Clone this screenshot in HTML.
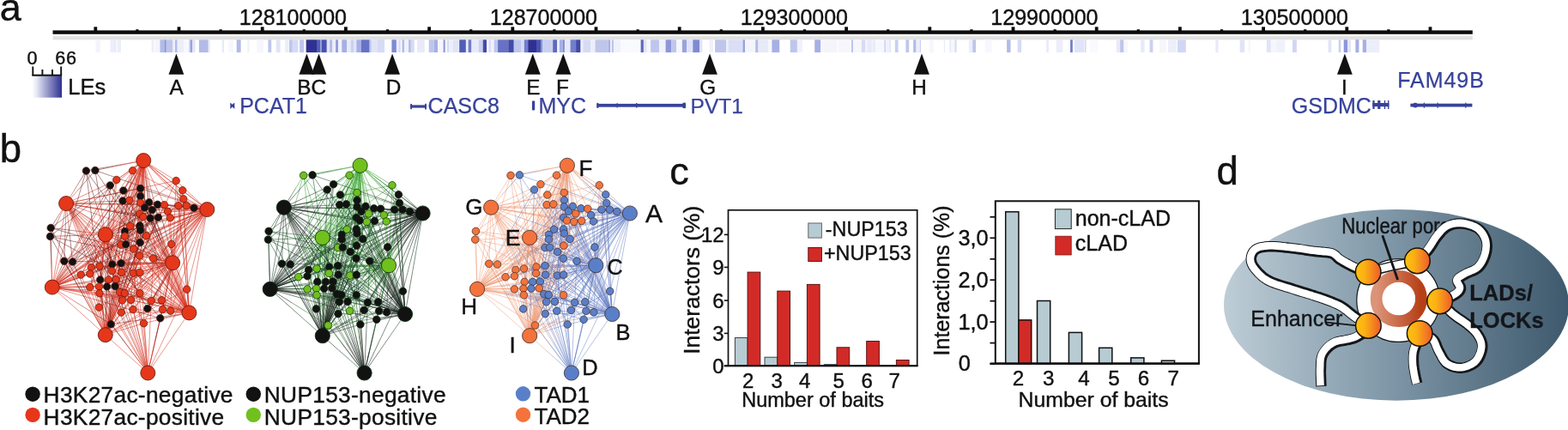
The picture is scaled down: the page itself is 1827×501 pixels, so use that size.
<!DOCTYPE html>
<html lang="en"><head><meta charset="utf-8"><title>Figure</title>
<style>
html,body{margin:0;padding:0;background:#fff;}
body{width:1827px;height:501px;overflow:hidden;}
svg{display:block;font-family:"Liberation Sans", sans-serif;}
</style></head>
<body>
<svg width="1827" height="501" viewBox="0 0 1827 501">
<defs>
<linearGradient id="legGrad" x1="0" x2="1" y1="0" y2="0"><stop offset="0" stop-color="#ffffff"/><stop offset="0.15" stop-color="#e6e8f5"/><stop offset="1" stop-color="#2e3192"/></linearGradient>
<linearGradient id="ellGrad" x1="0" x2="1" y1="0" y2="0"><stop offset="0" stop-color="#becdd6"/><stop offset="0.47" stop-color="#8098a8"/><stop offset="1" stop-color="#3e596d"/></linearGradient>
<linearGradient id="ringGrad" x1="0" x2="1" y1="0" y2="0"><stop offset="0" stop-color="#dc9478"/><stop offset="1" stop-color="#b63f17"/></linearGradient>
<linearGradient id="ballGrad" x1="0" x2="1" y1="0" y2="0"><stop offset="0" stop-color="#fec20f"/><stop offset="0.35" stop-color="#fbb114"/><stop offset="1" stop-color="#ee5a2c"/></linearGradient>
<filter id="soft" x="-20%" y="-20%" width="140%" height="140%"><feGaussianBlur stdDeviation="0.55"/></filter>
</defs>
<rect width="1827" height="501" fill="#ffffff"/>
<g id="panel-a">
<text x="-0.2" y="24.0" font-size="45.0" fill="#111" stroke="#111" stroke-width="0.4" text-anchor="start" >a</text>
<rect x="61.5" y="35.4" width="1654.3" height="4.4" fill="#0c0c0c"/>
<rect x="61.5" y="42.2" width="1654.3" height="4.2" fill="#e0e0e0"/>
<rect x="109.4" y="31.3" width="3.8" height="5" fill="#0c0c0c"/>
<rect x="158.3" y="34.2" width="3.2" height="2" fill="#0c0c0c"/>
<rect x="206.6" y="31.3" width="3.8" height="5" fill="#0c0c0c"/>
<rect x="255.5" y="34.2" width="3.2" height="2" fill="#0c0c0c"/>
<rect x="303.8" y="31.3" width="3.8" height="5" fill="#0c0c0c"/>
<rect x="352.7" y="34.2" width="3.2" height="2" fill="#0c0c0c"/>
<rect x="401.0" y="31.3" width="3.8" height="5" fill="#0c0c0c"/>
<rect x="449.9" y="34.2" width="3.2" height="2" fill="#0c0c0c"/>
<rect x="498.2" y="31.3" width="3.8" height="5" fill="#0c0c0c"/>
<rect x="547.1" y="34.2" width="3.2" height="2" fill="#0c0c0c"/>
<rect x="595.4" y="31.3" width="3.8" height="5" fill="#0c0c0c"/>
<rect x="644.3" y="34.2" width="3.2" height="2" fill="#0c0c0c"/>
<rect x="692.6" y="31.3" width="3.8" height="5" fill="#0c0c0c"/>
<rect x="741.5" y="34.2" width="3.2" height="2" fill="#0c0c0c"/>
<rect x="789.8" y="31.3" width="3.8" height="5" fill="#0c0c0c"/>
<rect x="838.7" y="34.2" width="3.2" height="2" fill="#0c0c0c"/>
<rect x="887.0" y="31.3" width="3.8" height="5" fill="#0c0c0c"/>
<rect x="935.9" y="34.2" width="3.2" height="2" fill="#0c0c0c"/>
<rect x="984.2" y="31.3" width="3.8" height="5" fill="#0c0c0c"/>
<rect x="1033.1" y="34.2" width="3.2" height="2" fill="#0c0c0c"/>
<rect x="1081.4" y="31.3" width="3.8" height="5" fill="#0c0c0c"/>
<rect x="1130.3" y="34.2" width="3.2" height="2" fill="#0c0c0c"/>
<rect x="1178.6" y="31.3" width="3.8" height="5" fill="#0c0c0c"/>
<rect x="1227.5" y="34.2" width="3.2" height="2" fill="#0c0c0c"/>
<rect x="1275.8" y="31.3" width="3.8" height="5" fill="#0c0c0c"/>
<rect x="1324.7" y="34.2" width="3.2" height="2" fill="#0c0c0c"/>
<rect x="1373.0" y="31.3" width="3.8" height="5" fill="#0c0c0c"/>
<rect x="1421.9" y="34.2" width="3.2" height="2" fill="#0c0c0c"/>
<rect x="1470.2" y="31.3" width="3.8" height="5" fill="#0c0c0c"/>
<rect x="1519.1" y="34.2" width="3.2" height="2" fill="#0c0c0c"/>
<rect x="1567.4" y="31.3" width="3.8" height="5" fill="#0c0c0c"/>
<rect x="1616.3" y="34.2" width="3.2" height="2" fill="#0c0c0c"/>
<rect x="1664.6" y="31.3" width="3.8" height="5" fill="#0c0c0c"/>
<text x="404.0" y="29.0" font-size="25.0" fill="#111" stroke="#111" stroke-width="0.4" text-anchor="end" >128100000</text>
<text x="696.0" y="29.0" font-size="25.0" fill="#111" stroke="#111" stroke-width="0.4" text-anchor="end" >128700000</text>
<text x="988.0" y="29.0" font-size="25.0" fill="#111" stroke="#111" stroke-width="0.4" text-anchor="end" >129300000</text>
<text x="1279.5" y="29.0" font-size="25.0" fill="#111" stroke="#111" stroke-width="0.4" text-anchor="end" >129900000</text>
<text x="1571.0" y="29.0" font-size="25.0" fill="#111" stroke="#111" stroke-width="0.4" text-anchor="end" >130500000</text>
<rect x="111.5" y="46.3" width="5.5" height="14.8" fill="rgb(244,245,252)"/>
<rect x="128.4" y="46.3" width="3.8" height="14.8" fill="rgb(236,238,250)"/>
<rect x="132.2" y="46.3" width="3.3" height="14.8" fill="rgb(232,234,249)"/>
<rect x="136.6" y="46.3" width="4.4" height="14.8" fill="rgb(236,238,250)"/>
<rect x="176.6" y="46.3" width="2.7" height="14.8" fill="rgb(236,238,250)"/>
<rect x="180.4" y="46.3" width="5.5" height="14.8" fill="rgb(244,245,252)"/>
<rect x="186.4" y="46.3" width="4.9" height="14.8" fill="rgb(178,187,232)"/>
<rect x="191.4" y="46.3" width="2.4" height="14.8" fill="rgb(140,150,216)"/>
<rect x="193.8" y="46.3" width="7.4" height="14.8" fill="rgb(190,198,236)"/>
<rect x="201.2" y="46.3" width="2.4" height="14.8" fill="rgb(232,234,249)"/>
<rect x="204.0" y="46.3" width="2.7" height="14.8" fill="rgb(178,187,232)"/>
<rect x="206.7" y="46.3" width="7.7" height="14.8" fill="rgb(236,238,250)"/>
<rect x="214.4" y="46.3" width="5.5" height="14.8" fill="rgb(247,248,253)"/>
<rect x="220.4" y="46.3" width="1.6" height="14.8" fill="rgb(190,198,236)"/>
<rect x="222.0" y="46.3" width="2.2" height="14.8" fill="rgb(153,163,222)"/>
<rect x="224.2" y="46.3" width="3.3" height="14.8" fill="rgb(225,228,248)"/>
<rect x="231.9" y="46.3" width="10.9" height="14.8" fill="rgb(178,187,232)"/>
<rect x="242.8" y="46.3" width="2.2" height="14.8" fill="rgb(236,238,250)"/>
<rect x="258.8" y="46.3" width="2.2" height="14.8" fill="rgb(232,234,249)"/>
<rect x="266.4" y="46.3" width="5.5" height="14.8" fill="rgb(247,248,253)"/>
<rect x="275.7" y="46.3" width="4.9" height="14.8" fill="rgb(178,187,232)"/>
<rect x="288.3" y="46.3" width="2.2" height="14.8" fill="rgb(240,241,251)"/>
<rect x="299.3" y="46.3" width="7.7" height="14.8" fill="rgb(246,246,252)"/>
<rect x="312.4" y="46.3" width="3.8" height="14.8" fill="rgb(190,198,236)"/>
<rect x="321.7" y="46.3" width="4.9" height="14.8" fill="rgb(225,228,248)"/>
<rect x="332.1" y="46.3" width="4.4" height="14.8" fill="rgb(236,238,250)"/>
<rect x="337.0" y="46.3" width="3.8" height="14.8" fill="rgb(190,198,236)"/>
<rect x="340.9" y="46.3" width="6.6" height="14.8" fill="rgb(214,219,245)"/>
<rect x="349.1" y="46.3" width="4.9" height="14.8" fill="rgb(190,198,236)"/>
<rect x="354.0" y="46.3" width="2.7" height="14.8" fill="rgb(246,246,252)"/>
<rect x="356.7" y="46.3" width="13.1" height="14.8" fill="rgb(46,49,146)"/>
<rect x="369.9" y="46.3" width="3.3" height="14.8" fill="rgb(82,93,183)"/>
<rect x="373.2" y="46.3" width="1.6" height="14.8" fill="rgb(140,150,216)"/>
<rect x="374.8" y="46.3" width="6.0" height="14.8" fill="rgb(72,82,176)"/>
<rect x="380.8" y="46.3" width="3.0" height="14.8" fill="rgb(225,228,248)"/>
<rect x="384.1" y="46.3" width="3.3" height="14.8" fill="rgb(178,187,232)"/>
<rect x="387.4" y="46.3" width="3.8" height="14.8" fill="rgb(236,238,250)"/>
<rect x="391.2" y="46.3" width="2.7" height="14.8" fill="rgb(140,150,216)"/>
<rect x="394.0" y="46.3" width="4.1" height="14.8" fill="rgb(240,241,251)"/>
<rect x="398.3" y="46.3" width="6.0" height="14.8" fill="rgb(166,176,228)"/>
<rect x="404.4" y="46.3" width="4.4" height="14.8" fill="rgb(232,234,249)"/>
<rect x="408.7" y="46.3" width="3.3" height="14.8" fill="rgb(202,208,241)"/>
<rect x="412.0" y="46.3" width="3.3" height="14.8" fill="rgb(225,228,248)"/>
<rect x="415.3" y="46.3" width="5.5" height="14.8" fill="rgb(166,176,228)"/>
<rect x="420.8" y="46.3" width="9.9" height="14.8" fill="rgb(103,114,198)"/>
<rect x="430.6" y="46.3" width="2.2" height="14.8" fill="rgb(190,198,236)"/>
<rect x="432.8" y="46.3" width="7.7" height="14.8" fill="rgb(225,228,248)"/>
<rect x="440.5" y="46.3" width="7.7" height="14.8" fill="rgb(214,219,245)"/>
<rect x="440.0" y="46.3" width="8.2" height="14.8" fill="rgb(214,219,245)"/>
<rect x="448.2" y="46.3" width="8.2" height="14.8" fill="rgb(251,252,254)"/>
<rect x="456.4" y="46.3" width="5.5" height="14.8" fill="rgb(126,138,211)"/>
<rect x="461.9" y="46.3" width="2.7" height="14.8" fill="rgb(236,238,250)"/>
<rect x="464.6" y="46.3" width="2.2" height="14.8" fill="rgb(214,219,245)"/>
<rect x="468.5" y="46.3" width="2.7" height="14.8" fill="rgb(178,187,232)"/>
<rect x="471.2" y="46.3" width="4.9" height="14.8" fill="rgb(240,241,251)"/>
<rect x="476.1" y="46.3" width="2.7" height="14.8" fill="rgb(178,187,232)"/>
<rect x="478.9" y="46.3" width="3.8" height="14.8" fill="rgb(214,219,245)"/>
<rect x="486.0" y="46.3" width="8.8" height="14.8" fill="rgb(232,234,249)"/>
<rect x="499.7" y="46.3" width="6.0" height="14.8" fill="rgb(190,198,236)"/>
<rect x="505.7" y="46.3" width="4.4" height="14.8" fill="rgb(166,176,228)"/>
<rect x="510.1" y="46.3" width="6.6" height="14.8" fill="rgb(246,246,252)"/>
<rect x="516.6" y="46.3" width="2.2" height="14.8" fill="rgb(140,150,216)"/>
<rect x="518.8" y="46.3" width="2.2" height="14.8" fill="rgb(246,246,252)"/>
<rect x="521.0" y="46.3" width="2.2" height="14.8" fill="rgb(214,219,245)"/>
<rect x="523.2" y="46.3" width="4.4" height="14.8" fill="rgb(236,238,250)"/>
<rect x="527.6" y="46.3" width="7.1" height="14.8" fill="rgb(225,228,248)"/>
<rect x="535.2" y="46.3" width="7.7" height="14.8" fill="rgb(82,93,183)"/>
<rect x="542.9" y="46.3" width="2.7" height="14.8" fill="rgb(236,238,250)"/>
<rect x="545.6" y="46.3" width="3.8" height="14.8" fill="rgb(113,125,205)"/>
<rect x="549.5" y="46.3" width="8.2" height="14.8" fill="rgb(232,234,249)"/>
<rect x="557.7" y="46.3" width="4.4" height="14.8" fill="rgb(202,208,241)"/>
<rect x="562.6" y="46.3" width="4.4" height="14.8" fill="rgb(66,74,168)"/>
<rect x="567.0" y="46.3" width="2.7" height="14.8" fill="rgb(246,246,252)"/>
<rect x="569.7" y="46.3" width="2.2" height="14.8" fill="rgb(214,219,245)"/>
<rect x="571.9" y="46.3" width="3.8" height="14.8" fill="rgb(240,241,251)"/>
<rect x="575.7" y="46.3" width="4.4" height="14.8" fill="rgb(190,198,236)"/>
<rect x="580.1" y="46.3" width="12.0" height="14.8" fill="rgb(103,114,198)"/>
<rect x="592.2" y="46.3" width="6.6" height="14.8" fill="rgb(66,74,168)"/>
<rect x="598.7" y="46.3" width="8.8" height="14.8" fill="rgb(190,198,236)"/>
<rect x="607.5" y="46.3" width="3.3" height="14.8" fill="rgb(214,219,245)"/>
<rect x="610.8" y="46.3" width="4.4" height="14.8" fill="rgb(113,125,205)"/>
<rect x="615.2" y="46.3" width="9.9" height="14.8" fill="rgb(46,49,146)"/>
<rect x="625.0" y="46.3" width="6.6" height="14.8" fill="rgb(72,82,176)"/>
<rect x="631.6" y="46.3" width="8.4" height="14.8" fill="rgb(214,219,245)"/>
<rect x="630.0" y="46.3" width="2.2" height="14.8" fill="rgb(140,150,216)"/>
<rect x="632.2" y="46.3" width="12.0" height="14.8" fill="rgb(202,208,241)"/>
<rect x="644.2" y="46.3" width="4.9" height="14.8" fill="rgb(93,104,190)"/>
<rect x="649.2" y="46.3" width="2.7" height="14.8" fill="rgb(236,238,250)"/>
<rect x="651.9" y="46.3" width="3.8" height="14.8" fill="rgb(166,176,228)"/>
<rect x="655.7" y="46.3" width="2.2" height="14.8" fill="rgb(126,138,211)"/>
<rect x="657.9" y="46.3" width="6.0" height="14.8" fill="rgb(232,234,249)"/>
<rect x="664.5" y="46.3" width="6.6" height="14.8" fill="rgb(113,125,205)"/>
<rect x="671.1" y="46.3" width="5.5" height="14.8" fill="rgb(66,74,168)"/>
<rect x="676.5" y="46.3" width="2.7" height="14.8" fill="rgb(236,238,250)"/>
<rect x="679.3" y="46.3" width="8.8" height="14.8" fill="rgb(214,219,245)"/>
<rect x="688.0" y="46.3" width="5.5" height="14.8" fill="rgb(236,238,250)"/>
<rect x="693.5" y="46.3" width="15.3" height="14.8" fill="rgb(190,198,236)"/>
<rect x="708.8" y="46.3" width="2.2" height="14.8" fill="rgb(166,176,228)"/>
<rect x="711.0" y="46.3" width="2.2" height="14.8" fill="rgb(236,238,250)"/>
<rect x="713.2" y="46.3" width="1.6" height="14.8" fill="rgb(166,176,228)"/>
<rect x="714.8" y="46.3" width="8.2" height="14.8" fill="rgb(240,241,251)"/>
<rect x="723.0" y="46.3" width="23.0" height="14.8" fill="rgb(249,250,254)"/>
<rect x="746.6" y="46.3" width="3.3" height="14.8" fill="rgb(93,104,190)"/>
<rect x="749.9" y="46.3" width="3.8" height="14.8" fill="rgb(225,228,248)"/>
<rect x="753.7" y="46.3" width="4.4" height="14.8" fill="rgb(246,246,252)"/>
<rect x="758.1" y="46.3" width="9.9" height="14.8" fill="rgb(190,198,236)"/>
<rect x="767.9" y="46.3" width="7.7" height="14.8" fill="rgb(240,241,251)"/>
<rect x="775.6" y="46.3" width="6.6" height="14.8" fill="rgb(140,150,216)"/>
<rect x="782.2" y="46.3" width="6.0" height="14.8" fill="rgb(190,198,236)"/>
<rect x="788.2" y="46.3" width="6.0" height="14.8" fill="rgb(246,246,252)"/>
<rect x="794.8" y="46.3" width="5.5" height="14.8" fill="rgb(153,163,222)"/>
<rect x="800.2" y="46.3" width="7.1" height="14.8" fill="rgb(225,228,248)"/>
<rect x="807.3" y="46.3" width="7.7" height="14.8" fill="rgb(126,138,211)"/>
<rect x="815.0" y="46.3" width="3.3" height="14.8" fill="rgb(225,228,248)"/>
<rect x="826.6" y="46.3" width="4.4" height="14.8" fill="rgb(240,241,251)"/>
<rect x="833.1" y="46.3" width="13.1" height="14.8" fill="rgb(190,198,236)"/>
<rect x="846.3" y="46.3" width="2.2" height="14.8" fill="rgb(236,238,250)"/>
<rect x="848.5" y="46.3" width="16.4" height="14.8" fill="rgb(218,223,246)"/>
<rect x="865.4" y="46.3" width="2.7" height="14.8" fill="rgb(153,163,222)"/>
<rect x="868.2" y="46.3" width="12.0" height="14.8" fill="rgb(244,245,252)"/>
<rect x="880.2" y="46.3" width="3.3" height="14.8" fill="rgb(178,187,232)"/>
<rect x="883.5" y="46.3" width="12.0" height="14.8" fill="rgb(232,234,249)"/>
<rect x="895.5" y="46.3" width="3.3" height="14.8" fill="rgb(246,246,252)"/>
<rect x="899.4" y="46.3" width="8.8" height="14.8" fill="rgb(166,176,228)"/>
<rect x="920.7" y="46.3" width="8.2" height="14.8" fill="rgb(190,198,236)"/>
<rect x="928.9" y="46.3" width="6.0" height="14.8" fill="rgb(240,241,251)"/>
<rect x="949.2" y="46.3" width="7.1" height="14.8" fill="rgb(166,176,228)"/>
<rect x="956.3" y="46.3" width="3.8" height="14.8" fill="rgb(246,246,252)"/>
<rect x="960.1" y="46.3" width="15.3" height="14.8" fill="rgb(244,245,252)"/>
<rect x="976.5" y="46.3" width="14.2" height="14.8" fill="rgb(246,246,252)"/>
<rect x="991.9" y="46.3" width="2.2" height="14.8" fill="rgb(190,198,236)"/>
<rect x="994.1" y="46.3" width="9.9" height="14.8" fill="rgb(246,246,252)"/>
<rect x="1003.9" y="46.3" width="4.4" height="14.8" fill="rgb(214,219,245)"/>
<rect x="1008.3" y="46.3" width="11.7" height="14.8" fill="rgb(240,241,251)"/>
<rect x="1011.1" y="46.3" width="4.4" height="14.8" fill="rgb(232,234,249)"/>
<rect x="1017.7" y="46.3" width="2.2" height="14.8" fill="rgb(232,234,249)"/>
<rect x="1019.9" y="46.3" width="9.9" height="14.8" fill="rgb(247,248,253)"/>
<rect x="1030.3" y="46.3" width="1.6" height="14.8" fill="rgb(202,208,241)"/>
<rect x="1031.9" y="46.3" width="4.4" height="14.8" fill="rgb(240,241,251)"/>
<rect x="1036.3" y="46.3" width="1.6" height="14.8" fill="rgb(225,228,248)"/>
<rect x="1042.8" y="46.3" width="3.8" height="14.8" fill="rgb(202,208,241)"/>
<rect x="1055.4" y="46.3" width="3.8" height="14.8" fill="rgb(190,198,236)"/>
<rect x="1064.2" y="46.3" width="3.3" height="14.8" fill="rgb(178,187,232)"/>
<rect x="1067.5" y="46.3" width="4.4" height="14.8" fill="rgb(236,238,250)"/>
<rect x="1071.9" y="46.3" width="1.1" height="14.8" fill="rgb(202,208,241)"/>
<rect x="1083.3" y="46.3" width="4.4" height="14.8" fill="rgb(246,246,252)"/>
<rect x="1099.8" y="46.3" width="1.1" height="14.8" fill="rgb(232,234,249)"/>
<rect x="1106.3" y="46.3" width="2.2" height="14.8" fill="rgb(232,234,249)"/>
<rect x="1108.5" y="46.3" width="3.8" height="14.8" fill="rgb(246,246,252)"/>
<rect x="1112.4" y="46.3" width="2.2" height="14.8" fill="rgb(214,219,245)"/>
<rect x="1128.8" y="46.3" width="4.4" height="14.8" fill="rgb(236,238,250)"/>
<rect x="1133.2" y="46.3" width="3.8" height="14.8" fill="rgb(190,198,236)"/>
<rect x="1147.9" y="46.3" width="7.7" height="14.8" fill="rgb(247,248,253)"/>
<rect x="1173.1" y="46.3" width="4.4" height="14.8" fill="rgb(178,187,232)"/>
<rect x="1185.7" y="46.3" width="4.4" height="14.8" fill="rgb(214,219,245)"/>
<rect x="1219.2" y="46.3" width="2.7" height="14.8" fill="rgb(232,234,249)"/>
<rect x="1230.7" y="46.3" width="7.7" height="14.8" fill="rgb(236,238,250)"/>
<rect x="1247.1" y="46.3" width="2.7" height="14.8" fill="rgb(113,125,205)"/>
<rect x="1252.0" y="46.3" width="11.5" height="14.8" fill="rgb(225,228,248)"/>
<rect x="1264.0" y="46.3" width="1.6" height="14.8" fill="rgb(214,219,245)"/>
<rect x="1270.1" y="46.3" width="8.8" height="14.8" fill="rgb(249,250,254)"/>
<rect x="1300.7" y="46.3" width="4.4" height="14.8" fill="rgb(232,234,249)"/>
<rect x="1305.1" y="46.3" width="4.4" height="14.8" fill="rgb(190,198,236)"/>
<rect x="1309.5" y="46.3" width="4.4" height="14.8" fill="rgb(246,246,252)"/>
<rect x="1329.2" y="46.3" width="4.4" height="14.8" fill="rgb(232,234,249)"/>
<rect x="1339.6" y="46.3" width="3.8" height="14.8" fill="rgb(202,208,241)"/>
<rect x="1351.1" y="46.3" width="7.7" height="14.8" fill="rgb(246,246,252)"/>
<rect x="1360.9" y="46.3" width="9.9" height="14.8" fill="rgb(236,238,250)"/>
<rect x="1371.9" y="46.3" width="9.9" height="14.8" fill="rgb(209,215,243)"/>
<rect x="1416.3" y="46.3" width="3.3" height="14.8" fill="rgb(232,234,249)"/>
<rect x="1444.7" y="46.3" width="5.5" height="14.8" fill="rgb(225,228,248)"/>
<rect x="1454.6" y="46.3" width="2.2" height="14.8" fill="rgb(246,246,252)"/>
<rect x="1475.9" y="46.3" width="4.9" height="14.8" fill="rgb(225,228,248)"/>
<rect x="1480.9" y="46.3" width="6.6" height="14.8" fill="rgb(246,246,252)"/>
<rect x="1487.4" y="46.3" width="9.9" height="14.8" fill="rgb(240,241,251)"/>
<rect x="1506.0" y="46.3" width="4.9" height="14.8" fill="rgb(209,215,243)"/>
<rect x="1547.6" y="46.3" width="3.8" height="14.8" fill="rgb(225,228,248)"/>
<rect x="1559.7" y="46.3" width="2.7" height="14.8" fill="rgb(202,208,241)"/>
<rect x="1565.7" y="46.3" width="4.4" height="14.8" fill="rgb(140,150,216)"/>
<rect x="1570.1" y="46.3" width="3.8" height="14.8" fill="rgb(225,228,248)"/>
<rect x="1579.4" y="46.3" width="3.8" height="14.8" fill="rgb(166,176,228)"/>
<rect x="1580.0" y="46.3" width="3.3" height="14.8" fill="rgb(166,176,228)"/>
<rect x="1587.7" y="46.3" width="4.4" height="14.8" fill="rgb(166,176,228)"/>
<rect x="1592.0" y="46.3" width="15.3" height="14.8" fill="rgb(236,238,250)"/>
<text x="31.4" y="74.6" font-size="21.6" fill="#111" stroke="#111" stroke-width="0.4" text-anchor="start" >0</text>
<text x="64.2" y="74.6" font-size="21.6" fill="#111" stroke="#111" stroke-width="0.4" text-anchor="start" letter-spacing="0.8">66</text>
<path d="M38.3 77.5V88M49.4 81V88M61 81V88M71.2 77.5V88" stroke="#111" stroke-width="1.9" fill="none"/>
<rect x="37.4" y="86.7" width="34.7" height="2.2" fill="#111"/>
<rect x="37.4" y="88.8" width="34.7" height="24.9" fill="url(#legGrad)"/>
<text x="79.3" y="109.8" font-size="25.5" fill="#111" stroke="#111" stroke-width="0.4" text-anchor="start" >LEs</text>
<path d="M205.4 62.6L214.3 86.7H196.5Z" fill="#111"/>
<path d="M357.4 62.6L366.3 86.7H348.5Z" fill="#111"/>
<path d="M371.5 62.6L380.4 86.7H362.6Z" fill="#111"/>
<path d="M457.1 62.6L466.0 86.7H448.2Z" fill="#111"/>
<path d="M620.8 62.6L629.7 86.7H611.9Z" fill="#111"/>
<path d="M656.3 62.6L665.2 86.7H647.4Z" fill="#111"/>
<path d="M827.0 62.6L835.9 86.7H818.1Z" fill="#111"/>
<path d="M1074.0 62.6L1082.9 86.7H1065.1Z" fill="#111"/>
<path d="M1566.9 62.6L1575.8 86.7H1558.0Z" fill="#111"/>
<text x="205.7" y="109.9" font-size="24.3" fill="#111" stroke="#111" stroke-width="0.4" text-anchor="middle" >A</text>
<text x="458.6" y="109.9" font-size="24.3" fill="#111" stroke="#111" stroke-width="0.4" text-anchor="middle" >D</text>
<text x="621.3" y="109.9" font-size="24.3" fill="#111" stroke="#111" stroke-width="0.4" text-anchor="middle" >E</text>
<text x="655.5" y="109.9" font-size="24.3" fill="#111" stroke="#111" stroke-width="0.4" text-anchor="middle" >F</text>
<text x="824.6" y="109.9" font-size="24.3" fill="#111" stroke="#111" stroke-width="0.4" text-anchor="middle" >G</text>
<text x="1071.0" y="109.9" font-size="24.3" fill="#111" stroke="#111" stroke-width="0.4" text-anchor="middle" >H</text>
<text x="1566.5" y="109.9" font-size="24.3" fill="#111" stroke="#111" stroke-width="0.4" text-anchor="middle" >I</text>
<text x="346.2" y="109.9" font-size="24.3" fill="#111" stroke="#111" stroke-width="0.4" text-anchor="start" >BC</text>
<text x="279.2" y="131.5" font-size="25.0" fill="#37429a" stroke="#37429a" stroke-width="0.25" text-anchor="start" >PCAT1</text>
<path d="M268.3 119.4L270.8 121.8L273.3 119.4V127L270.8 124.6L268.3 127Z" fill="#37429a"/>
<rect x="478.2" y="122.4" width="18.7" height="3.2" fill="#37429a"/>
<rect x="478.2" y="121.0" width="1.8" height="6.2" fill="#37429a"/><rect x="495.1" y="120.8" width="1.8" height="6.7" fill="#37429a"/>
<text x="498.6" y="131.5" font-size="25.0" fill="#37429a" stroke="#37429a" stroke-width="0.25" text-anchor="start" >CASC8</text>
<rect x="619.9" y="117.6" width="3.3" height="10.8" rx="1" fill="#37429a"/>
<text x="627.5" y="131.5" font-size="25.0" fill="#37429a" stroke="#37429a" stroke-width="0.25" text-anchor="start" >MYC</text>
<rect x="695.4" y="120.9" width="103.5" height="3.8" fill="#37429a"/>
<rect x="695.4" y="119.9" width="2" height="6" fill="#37429a"/><rect x="795.5" y="119.7" width="3.4" height="6.4" fill="#37429a"/>
<rect x="718.6" y="120.0" width="1" height="5.6" fill="#37429a"/><rect x="741" y="120.0" width="1.4" height="5.6" fill="#37429a"/>
<text x="804.6" y="131.5" font-size="24.5" fill="#37429a" stroke="#37429a" stroke-width="0.25" text-anchor="start" >PVT1</text>
<text x="1504.8" y="131.5" font-size="25.0" fill="#37429a" stroke="#37429a" stroke-width="0.25" text-anchor="start" >GSDMC</text>
<rect x="1599.3" y="120.0" width="19.1" height="4.2" fill="#37429a"/>
<rect x="1599.4" y="117.0" width="2.2" height="10" fill="#37429a"/>
<rect x="1605.2" y="117.0" width="3.2" height="10" fill="#37429a"/>
<rect x="1612.8" y="117.0" width="1.4" height="10" fill="#37429a"/>
<rect x="1617" y="117.0" width="1.4" height="10" fill="#37429a"/>
<text x="1628.2" y="101.7" font-size="25.0" fill="#37429a" stroke="#37429a" stroke-width="0.25" text-anchor="start" letter-spacing="0.95">FAM49B</text>
<rect x="1643.4" y="120.7" width="72" height="3.8" fill="#37429a"/>
<circle cx="1649" cy="122.6" r="2.9" fill="#37429a"/>
<rect x="1658.8" y="119.6" width="1.2" height="6.2" fill="#37429a"/>
<rect x="1674.6" y="119.6" width="1.2" height="6.2" fill="#37429a"/>
<rect x="1707.2" y="119.6" width="1.2" height="6.2" fill="#37429a"/>
</g>
<g id="panel-b">
<text x="-0.2" y="189.3" font-size="45.5" fill="#111" stroke="#111" stroke-width="0.4" text-anchor="start" >b</text>
<g id="net1">
<g fill="none" stroke-width="0.6" stroke-opacity="0.85">
<g stroke="rgb(212,46,28)"><path d="M167.2 187.1L141.8 191.6"/><path d="M167.2 187.1L145.8 191.4"/><path d="M167.2 187.1L154.6 198.8"/><path d="M167.2 187.1L135.8 209.5"/><path d="M167.2 187.1L158.3 200.4"/><path d="M167.2 187.1L205.2 210.6"/><path d="M167.2 187.1L212.7 221.8"/><path d="M167.2 187.1L213.7 231.8"/><path d="M167.2 187.1L158.1 204.9"/><path d="M167.2 187.1L167.8 207.9"/><path d="M167.2 187.1L191.5 238.7"/><path d="M167.2 187.1L171.0 208.9"/><path d="M167.2 187.1L166.9 252.8"/><path d="M167.2 187.1L170.2 212.6"/><path d="M167.2 187.1L173.7 212.2"/><path d="M167.2 187.1L217.3 239.7"/><path d="M167.2 187.1L189.5 208.0"/><path d="M167.2 187.1L126.2 216.9"/><path d="M167.2 187.1L125.9 220.7"/><path d="M167.2 187.1L145.5 275.1"/><path d="M167.2 187.1L170.4 274.7"/><path d="M167.2 187.1L165.7 223.4"/><path d="M167.2 187.1L135.8 231.9"/><path d="M167.2 187.1L106.3 311.6"/><path d="M167.2 187.1L153.3 233.1"/><path d="M167.2 187.1L130.4 315.7"/><path d="M167.2 187.1L141.6 317.4"/><path d="M167.2 187.1L155.4 318.3"/><path d="M167.2 187.1L94.3 320.1"/><path d="M167.2 187.1L148.0 239.8"/><path d="M167.2 187.1L135.2 325.6"/><path d="M167.2 187.1L104.8 334.6"/><path d="M167.2 187.1L115.5 333.9"/><path d="M167.2 187.1L154.6 242.7"/><path d="M167.2 187.1L116.0 341.7"/><path d="M167.2 187.1L162.9 341.7"/><path d="M167.2 187.1L152.5 349.4"/><path d="M167.2 187.1L188.4 349.8"/><path d="M167.2 187.1L141.3 364.0"/><path d="M167.2 187.1L155.0 360.6"/><path d="M77.1 237.1L86.0 222.6"/><path d="M77.1 237.1L90.0 222.4"/><path d="M77.1 237.1L135.8 209.5"/><path d="M77.1 237.1L110.0 230.5"/><path d="M77.1 237.1L205.2 210.6"/><path d="M77.1 237.1L102.2 235.9"/><path d="M77.1 237.1L117.6 237.6"/><path d="M77.1 237.1L191.5 238.7"/><path d="M77.1 237.1L166.9 252.8"/><path d="M77.1 237.1L114.4 243.6"/><path d="M77.1 237.1L117.8 243.3"/><path d="M77.1 237.1L70.3 247.9"/><path d="M77.1 237.1L70.0 251.7"/><path d="M77.1 237.1L151.6 263.4"/><path d="M77.1 237.1L155.7 290.1"/><path d="M77.1 237.1L178.5 301.1"/><path d="M77.1 237.1L76.3 262.7"/><path d="M77.1 237.1L80.0 262.9"/><path d="M77.1 237.1L116.0 310.1"/><path d="M77.1 237.1L97.5 264.1"/><path d="M77.1 237.1L162.9 317.4"/><path d="M77.1 237.1L92.2 270.9"/><path d="M77.1 237.1L95.2 273.9"/><path d="M77.1 237.1L98.8 273.8"/><path d="M77.1 237.1L145.3 341.5"/><path d="M77.1 237.1L162.9 341.7"/><path d="M77.1 237.1L152.5 349.4"/><path d="M77.1 237.1L188.4 349.8"/><path d="M77.1 237.1L118.8 287.9"/><path d="M77.1 237.1L97.0 290.6"/><path d="M241.3 244.1L191.7 226.8"/><path d="M241.3 244.1L154.6 198.8"/><path d="M241.3 244.1L211.8 234.8"/><path d="M241.3 244.1L205.2 210.6"/><path d="M241.3 244.1L212.7 221.8"/><path d="M241.3 244.1L213.7 231.8"/><path d="M241.3 244.1L150.9 233.3"/><path d="M241.3 244.1L163.6 236.3"/><path d="M241.3 244.1L215.6 241.0"/><path d="M241.3 244.1L213.7 243.3"/><path d="M241.3 244.1L219.4 241.9"/><path d="M241.3 244.1L217.0 244.3"/><path d="M241.3 244.1L195.3 246.3"/><path d="M241.3 244.1L198.3 253.8"/><path d="M241.3 244.1L162.9 249.2"/><path d="M241.3 244.1L216.2 248.0"/><path d="M241.3 244.1L207.9 239.7"/><path d="M241.3 244.1L217.3 239.7"/><path d="M241.3 244.1L235.5 243.4"/><path d="M241.3 244.1L151.6 263.4"/><path d="M241.3 244.1L211.5 251.3"/><path d="M241.3 244.1L204.9 253.8"/><path d="M241.3 244.1L170.4 274.7"/><path d="M241.3 244.1L199.7 284.4"/><path d="M241.3 244.1L141.0 285.1"/><path d="M241.3 244.1L205.4 259.6"/><path d="M241.3 244.1L155.7 290.1"/><path d="M241.3 244.1L178.5 301.1"/><path d="M241.3 244.1L181.8 267.3"/><path d="M241.3 244.1L116.0 310.1"/><path d="M241.3 244.1L203.2 267.9"/><path d="M241.3 244.1L130.4 315.7"/><path d="M241.3 244.1L141.6 317.4"/><path d="M241.3 244.1L126.5 325.9"/><path d="M241.3 244.1L135.2 325.6"/><path d="M241.3 244.1L139.7 340.4"/><path d="M241.3 244.1L145.3 341.5"/><path d="M241.3 244.1L162.9 341.7"/><path d="M241.3 244.1L217.7 337.1"/><path d="M241.3 244.1L142.7 349.8"/><path d="M241.3 244.1L152.5 349.4"/><path d="M241.3 244.1L176.2 350.5"/><path d="M241.3 244.1L141.3 364.0"/><path d="M241.3 244.1L155.0 360.6"/><path d="M241.3 244.1L214.9 288.0"/><path d="M241.3 244.1L189.5 360.6"/><path d="M241.3 244.1L198.7 362.2"/><path d="M122.8 273.2L114.3 245.0"/><path d="M122.8 273.2L118.3 244.8"/><path d="M122.8 273.2L154.6 198.8"/><path d="M122.8 273.2L135.8 209.5"/><path d="M122.8 273.2L138.3 252.8"/><path d="M122.8 273.2L205.2 210.6"/><path d="M122.8 273.2L138.3 256.2"/><path d="M122.8 273.2L150.9 233.3"/><path d="M122.8 273.2L163.6 236.3"/><path d="M122.8 273.2L140.2 261.3"/><path d="M122.8 273.2L191.5 238.7"/><path d="M122.8 273.2L143.5 262.3"/><path d="M122.8 273.2L166.9 252.8"/><path d="M122.8 273.2L98.6 270.3"/><path d="M122.8 273.2L98.4 274.0"/><path d="M122.8 273.2L151.6 263.4"/><path d="M122.8 273.2L131.4 271.8"/><path d="M122.8 273.2L145.5 275.1"/><path d="M122.8 273.2L138.1 276.8"/><path d="M122.8 273.2L178.5 301.1"/><path d="M122.8 273.2L104.6 285.0"/><path d="M122.8 273.2L108.3 285.3"/><path d="M122.8 273.2L106.3 311.6"/><path d="M122.8 273.2L116.0 310.1"/><path d="M122.8 273.2L125.8 286.4"/><path d="M122.8 273.2L130.4 315.7"/><path d="M122.8 273.2L155.4 318.3"/><path d="M122.8 273.2L94.3 320.1"/><path d="M122.8 273.2L104.8 319.0"/><path d="M122.8 273.2L120.5 293.2"/><path d="M122.8 273.2L135.2 325.6"/><path d="M122.8 273.2L104.8 334.6"/><path d="M122.8 273.2L115.5 333.9"/><path d="M122.8 273.2L127.1 296.1"/><path d="M122.8 273.2L116.0 341.7"/><path d="M122.8 273.2L162.9 341.7"/><path d="M122.8 273.2L115.3 358.1"/><path d="M122.8 273.2L141.3 364.0"/><path d="M122.8 273.2L155.0 360.6"/><path d="M122.8 273.2L141.4 306.0"/><path d="M122.8 273.2L167.5 376.7"/><path d="M122.8 273.2L125.3 312.9"/><path d="M201.1 306.2L173.4 271.9"/><path d="M201.1 306.2L205.2 210.6"/><path d="M201.1 306.2L212.7 221.8"/><path d="M201.1 306.2L186.8 276.7"/><path d="M201.1 306.2L213.7 231.8"/><path d="M201.1 306.2L190.7 279.5"/><path d="M201.1 306.2L188.8 281.8"/><path d="M201.1 306.2L195.3 246.3"/><path d="M201.1 306.2L198.3 253.8"/><path d="M201.1 306.2L162.9 249.2"/><path d="M201.1 306.2L217.3 239.7"/><path d="M201.1 306.2L210.6 281.9"/><path d="M201.1 306.2L147.2 290.8"/><path d="M201.1 306.2L146.9 294.5"/><path d="M201.1 306.2L151.6 263.4"/><path d="M201.1 306.2L186.6 289.8"/><path d="M201.1 306.2L145.5 275.1"/><path d="M201.1 306.2L170.4 274.7"/><path d="M201.1 306.2L199.7 284.4"/><path d="M201.1 306.2L180.4 298.1"/><path d="M201.1 306.2L162.6 298.0"/><path d="M201.1 306.2L178.5 301.1"/><path d="M201.1 306.2L153.1 305.5"/><path d="M201.1 306.2L106.3 311.6"/><path d="M201.1 306.2L116.0 310.1"/><path d="M201.1 306.2L174.4 306.9"/><path d="M201.1 306.2L178.3 306.4"/><path d="M201.1 306.2L130.4 315.7"/><path d="M201.1 306.2L141.6 317.4"/><path d="M201.1 306.2L155.4 318.3"/><path d="M201.1 306.2L162.9 317.4"/><path d="M201.1 306.2L135.2 325.6"/><path d="M201.1 306.2L172.0 316.7"/><path d="M201.1 306.2L175.6 316.6"/><path d="M201.1 306.2L145.3 341.5"/><path d="M201.1 306.2L217.7 337.1"/><path d="M201.1 306.2L142.7 349.8"/><path d="M201.1 306.2L152.5 349.4"/><path d="M201.1 306.2L176.2 350.5"/><path d="M201.1 306.2L188.4 349.8"/><path d="M201.1 306.2L115.3 358.1"/><path d="M201.1 306.2L141.3 364.0"/><path d="M201.1 306.2L155.0 360.6"/><path d="M201.1 306.2L190.0 326.5"/><path d="M201.1 306.2L189.5 360.6"/><path d="M201.1 306.2L198.7 362.2"/><path d="M201.1 306.2L195.6 330.8"/><path d="M201.1 306.2L167.5 376.7"/><path d="M60.8 334.6L75.8 283.1"/><path d="M60.8 334.6L154.6 198.8"/><path d="M60.8 334.6L135.8 209.5"/><path d="M60.8 334.6L86.4 289.5"/><path d="M60.8 334.6L92.3 291.8"/><path d="M60.8 334.6L99.9 290.9"/><path d="M60.8 334.6L213.7 231.8"/><path d="M60.8 334.6L92.1 296.4"/><path d="M60.8 334.6L163.6 236.3"/><path d="M60.8 334.6L103.7 297.1"/><path d="M60.8 334.6L191.5 238.7"/><path d="M60.8 334.6L162.9 249.2"/><path d="M60.8 334.6L104.3 304.1"/><path d="M60.8 334.6L107.7 303.7"/><path d="M60.8 334.6L207.9 239.7"/><path d="M60.8 334.6L60.2 308.3"/><path d="M60.8 334.6L59.9 312.1"/><path d="M60.8 334.6L99.6 307.4"/><path d="M60.8 334.6L99.7 314.8"/><path d="M60.8 334.6L162.6 298.0"/><path d="M60.8 334.6L66.1 323.1"/><path d="M60.8 334.6L69.9 323.4"/><path d="M60.8 334.6L106.3 311.6"/><path d="M60.8 334.6L116.0 310.1"/><path d="M60.8 334.6L87.4 324.5"/><path d="M60.8 334.6L91.3 324.0"/><path d="M60.8 334.6L94.3 320.1"/><path d="M60.8 334.6L104.8 319.0"/><path d="M60.8 334.6L82.0 331.3"/><path d="M60.8 334.6L135.2 325.6"/><path d="M60.8 334.6L104.8 334.6"/><path d="M60.8 334.6L115.5 333.9"/><path d="M60.8 334.6L88.6 334.2"/><path d="M60.8 334.6L145.3 341.5"/><path d="M60.8 334.6L142.7 349.8"/><path d="M60.8 334.6L152.5 349.4"/><path d="M60.8 334.6L176.2 350.5"/><path d="M60.8 334.6L188.4 349.8"/><path d="M60.8 334.6L108.6 348.4"/><path d="M60.8 334.6L86.8 351.0"/><path d="M220.4 364.4L174.8 301.5"/><path d="M220.4 364.4L178.8 301.3"/><path d="M220.4 364.4L154.6 198.8"/><path d="M220.4 364.4L185.4 308.0"/><path d="M220.4 364.4L191.3 310.3"/><path d="M220.4 364.4L198.8 309.3"/><path d="M220.4 364.4L205.2 210.6"/><path d="M220.4 364.4L212.7 221.8"/><path d="M220.4 364.4L198.8 312.7"/><path d="M220.4 364.4L213.7 231.8"/><path d="M220.4 364.4L150.9 233.3"/><path d="M220.4 364.4L163.6 236.3"/><path d="M220.4 364.4L202.7 315.5"/><path d="M220.4 364.4L200.7 317.8"/><path d="M220.4 364.4L206.4 316.5"/><path d="M220.4 364.4L166.9 252.8"/><path d="M220.4 364.4L207.9 239.7"/><path d="M220.4 364.4L158.9 330.6"/><path d="M220.4 364.4L151.6 263.4"/><path d="M220.4 364.4L198.5 325.9"/><path d="M220.4 364.4L198.8 327.8"/><path d="M220.4 364.4L145.5 275.1"/><path d="M220.4 364.4L199.7 284.4"/><path d="M220.4 364.4L141.0 285.1"/><path d="M220.4 364.4L155.7 290.1"/><path d="M220.4 364.4L162.6 298.0"/><path d="M220.4 364.4L178.5 301.1"/><path d="M220.4 364.4L190.2 342.4"/><path d="M220.4 364.4L141.6 317.4"/><path d="M220.4 364.4L155.4 318.3"/><path d="M220.4 364.4L162.9 317.4"/><path d="M220.4 364.4L126.5 325.9"/><path d="M220.4 364.4L135.2 325.6"/><path d="M220.4 364.4L184.0 352.8"/><path d="M220.4 364.4L187.6 352.6"/><path d="M220.4 364.4L116.0 341.7"/><path d="M220.4 364.4L139.7 340.4"/><path d="M220.4 364.4L145.3 341.5"/><path d="M220.4 364.4L217.7 337.1"/><path d="M220.4 364.4L152.5 349.4"/><path d="M220.4 364.4L176.2 350.5"/><path d="M220.4 364.4L188.4 349.8"/><path d="M220.4 364.4L141.3 364.0"/><path d="M220.4 364.4L155.0 360.6"/><path d="M220.4 364.4L189.5 360.6"/><path d="M220.4 364.4L198.7 362.2"/><path d="M220.4 364.4L207.6 366.8"/><path d="M220.4 364.4L167.5 376.7"/><path d="M220.4 364.4L185.8 369.5"/><path d="M122.8 390.2L114.3 317.5"/><path d="M122.8 390.2L154.6 198.8"/><path d="M122.8 390.2L135.8 209.5"/><path d="M122.8 390.2L124.9 324.0"/><path d="M122.8 390.2L138.3 325.3"/><path d="M122.8 390.2L205.2 210.6"/><path d="M122.8 390.2L212.7 221.8"/><path d="M122.8 390.2L138.3 328.7"/><path d="M122.8 390.2L130.5 330.8"/><path d="M122.8 390.2L163.6 236.3"/><path d="M122.8 390.2L140.2 333.8"/><path d="M122.8 390.2L191.5 238.7"/><path d="M122.8 390.2L143.5 334.8"/><path d="M122.8 390.2L162.9 249.2"/><path d="M122.8 390.2L166.9 252.8"/><path d="M122.8 390.2L142.7 338.5"/><path d="M122.8 390.2L146.2 338.1"/><path d="M122.8 390.2L162.0 333.9"/><path d="M122.8 390.2L98.6 342.8"/><path d="M122.8 390.2L98.4 346.6"/><path d="M122.8 390.2L138.3 343.8"/><path d="M122.8 390.2L170.4 274.7"/><path d="M122.8 390.2L138.1 349.3"/><path d="M122.8 390.2L141.0 285.1"/><path d="M122.8 390.2L104.6 357.5"/><path d="M122.8 390.2L108.3 357.8"/><path d="M122.8 390.2L106.3 311.6"/><path d="M122.8 390.2L116.0 310.1"/><path d="M122.8 390.2L129.7 358.4"/><path d="M122.8 390.2L155.4 318.3"/><path d="M122.8 390.2L94.3 320.1"/><path d="M122.8 390.2L104.8 319.0"/><path d="M122.8 390.2L120.5 365.8"/><path d="M122.8 390.2L104.8 334.6"/><path d="M122.8 390.2L115.5 333.9"/><path d="M122.8 390.2L123.5 368.8"/><path d="M122.8 390.2L127.1 368.6"/><path d="M122.8 390.2L145.3 341.5"/><path d="M122.8 390.2L217.7 337.1"/><path d="M122.8 390.2L152.5 349.4"/><path d="M122.8 390.2L188.4 349.8"/><path d="M122.8 390.2L141.3 364.0"/><path d="M122.8 390.2L155.0 360.6"/><path d="M122.8 390.2L189.5 360.6"/><path d="M122.8 390.2L167.5 376.7"/><path d="M122.8 390.2L125.3 385.5"/><path d="M172.3 434.5L155.7 290.1"/><path d="M172.3 434.5L162.6 298.0"/><path d="M172.3 434.5L178.5 301.1"/><path d="M172.3 434.5L155.4 318.3"/><path d="M172.3 434.5L135.2 325.6"/><path d="M172.3 434.5L115.5 333.9"/><path d="M172.3 434.5L154.2 396.3"/><path d="M172.3 434.5L157.8 396.1"/><path d="M172.3 434.5L116.0 341.7"/><path d="M172.3 434.5L145.3 341.5"/><path d="M172.3 434.5L217.7 337.1"/><path d="M172.3 434.5L152.5 349.4"/><path d="M172.3 434.5L115.3 358.1"/><path d="M172.3 434.5L141.3 364.0"/><path d="M172.3 434.5L155.0 360.6"/><path d="M172.3 434.5L189.5 360.6"/><path d="M172.3 434.5L177.8 410.3"/><path d="M172.3 434.5L167.5 376.7"/><path d="M172.3 434.5L156.0 413.0"/><path d="M60.8 334.6L122.8 390.2"/><path d="M122.8 390.2L172.3 434.5"/><path d="M172.3 434.5L220.4 364.4"/><path d="M220.4 364.4L241.3 244.1"/><path d="M241.3 244.1L201.1 306.2"/><path d="M201.1 306.2L220.4 364.4"/><path d="M77.1 237.1L122.8 273.2"/><path d="M122.8 273.2L60.8 334.6"/><path d="M167.2 187.1L122.8 273.2"/><path d="M122.8 273.2L201.1 306.2"/><path d="M122.8 273.2L122.8 390.2"/><path d="M201.1 306.2L172.3 434.5"/><path d="M77.1 237.1L60.8 334.6"/><path d="M167.2 187.1L241.3 244.1"/></g>
<g stroke="rgb(154,34,23)"><path d="M141.8 191.6L125.8 194.5"/><path d="M145.8 191.4L132.3 194.1"/><path d="M158.3 200.4L152.7 208.8"/><path d="M158.1 204.9L152.3 216.2"/><path d="M167.8 207.9L168.1 221.0"/><path d="M171.0 208.9L173.5 222.7"/><path d="M170.2 212.6L172.1 228.7"/><path d="M173.7 212.2L177.8 228.1"/><path d="M189.5 208.0L203.6 221.2"/><path d="M126.2 216.9L100.2 235.7"/><path d="M125.9 220.7L99.8 241.9"/><path d="M165.7 223.4L164.7 246.3"/><path d="M135.8 231.9L116.0 260.2"/><path d="M153.3 233.1L144.6 262.1"/><path d="M148.0 239.8L135.9 273.2"/><path d="M154.6 242.7L146.7 277.8"/><path d="M86.0 222.6L91.5 213.5"/><path d="M90.0 222.4L98.1 213.2"/><path d="M110.0 230.5L130.7 226.2"/><path d="M102.2 235.9L118.0 235.2"/><path d="M117.6 237.6L143.1 237.8"/><path d="M114.4 243.6L137.9 247.7"/><path d="M117.8 243.3L143.6 247.1"/><path d="M70.3 247.9L66.0 254.7"/><path d="M70.0 251.7L65.6 260.9"/><path d="M76.3 262.7L75.7 278.8"/><path d="M80.0 262.9L81.8 279.2"/><path d="M97.5 264.1L110.4 281.1"/><path d="M92.2 270.9L101.7 292.2"/><path d="M95.2 273.9L106.6 297.1"/><path d="M98.8 273.8L112.4 296.9"/><path d="M118.8 287.9L145.1 320.0"/><path d="M97.0 290.6L109.5 324.3"/><path d="M191.7 226.8L160.5 215.8"/><path d="M211.8 234.8L193.1 228.9"/><path d="M215.6 241.0L199.4 239.0"/><path d="M213.7 243.3L196.3 242.7"/><path d="M219.4 241.9L205.5 240.5"/><path d="M217.0 244.3L201.6 244.4"/><path d="M216.2 248.0L200.3 250.4"/><path d="M235.5 243.4L231.8 242.9"/><path d="M211.5 251.3L192.7 255.9"/><path d="M204.9 253.8L181.9 259.9"/><path d="M205.4 259.6L182.7 269.4"/><path d="M181.8 267.3L144.2 281.9"/><path d="M203.2 267.9L179.1 282.9"/><path d="M214.9 288.0L198.2 315.7"/><path d="M114.3 245.0L108.9 227.2"/><path d="M118.3 244.8L115.4 226.9"/><path d="M138.3 252.8L148.1 239.9"/><path d="M138.3 256.2L148.1 245.4"/><path d="M140.2 261.3L151.2 253.8"/><path d="M143.5 262.3L156.6 255.4"/><path d="M98.6 270.3L83.4 268.4"/><path d="M98.4 274.0L82.9 274.6"/><path d="M131.4 271.8L136.9 271.0"/><path d="M138.1 276.8L147.8 279.0"/><path d="M104.6 285.0L93.0 292.5"/><path d="M108.3 285.3L99.1 292.9"/><path d="M125.8 286.4L127.7 294.8"/><path d="M120.5 293.2L119.0 305.9"/><path d="M127.1 296.1L129.8 310.6"/><path d="M141.4 306.0L153.2 326.7"/><path d="M125.3 312.9L126.8 338.0"/><path d="M173.4 271.9L156.0 250.3"/><path d="M186.8 276.7L177.8 258.0"/><path d="M190.7 279.5L184.1 262.6"/><path d="M188.8 281.8L181.0 266.3"/><path d="M210.6 281.9L216.5 266.5"/><path d="M147.2 290.8L113.1 281.0"/><path d="M146.9 294.5L112.7 287.1"/><path d="M186.6 289.8L177.4 279.5"/><path d="M180.4 298.1L167.4 293.0"/><path d="M153.1 305.5L122.8 305.0"/><path d="M174.4 306.9L157.5 307.4"/><path d="M178.3 306.4L163.8 306.5"/><path d="M172.0 316.7L153.7 323.4"/><path d="M175.6 316.6L159.5 323.1"/><path d="M190.0 326.5L182.9 339.3"/><path d="M195.6 330.8L192.2 346.3"/><path d="M75.8 283.1L85.3 250.5"/><path d="M86.4 289.5L102.6 261.0"/><path d="M92.3 291.8L112.3 264.9"/><path d="M99.9 290.9L124.5 263.3"/><path d="M92.1 296.4L111.8 272.2"/><path d="M103.7 297.1L130.8 273.4"/><path d="M104.3 304.1L131.7 284.8"/><path d="M107.7 303.7L137.4 284.1"/><path d="M60.2 308.3L59.8 291.8"/><path d="M59.9 312.1L59.4 297.9"/><path d="M99.6 307.4L124.1 290.2"/><path d="M99.7 314.8L124.3 302.4"/><path d="M66.1 323.1L69.5 315.8"/><path d="M69.9 323.4L75.6 316.3"/><path d="M87.4 324.5L104.1 318.2"/><path d="M91.3 324.0L110.5 317.3"/><path d="M82.0 331.3L95.5 329.2"/><path d="M88.6 334.2L106.2 333.9"/><path d="M108.6 348.4L138.9 357.1"/><path d="M86.8 351.0L103.3 361.4"/><path d="M174.8 301.5L146.0 261.8"/><path d="M178.8 301.3L152.5 261.5"/><path d="M185.4 308.0L163.3 272.4"/><path d="M191.3 310.3L172.9 276.2"/><path d="M198.8 309.3L185.2 274.6"/><path d="M198.8 312.7L185.2 280.1"/><path d="M202.7 315.5L191.5 284.7"/><path d="M200.7 317.8L188.3 288.4"/><path d="M206.4 316.5L197.6 286.2"/><path d="M158.9 330.6L120.0 309.2"/><path d="M198.5 325.9L184.7 301.6"/><path d="M198.8 327.8L185.2 304.7"/><path d="M190.2 342.4L171.1 328.6"/><path d="M184.0 352.8L161.0 345.5"/><path d="M187.6 352.6L166.9 345.2"/><path d="M207.6 366.8L199.5 368.4"/><path d="M185.8 369.5L163.9 372.7"/><path d="M114.3 317.5L108.9 271.6"/><path d="M124.9 324.0L126.2 282.2"/><path d="M138.3 325.3L148.1 284.4"/><path d="M138.3 328.7L148.1 289.9"/><path d="M130.5 330.8L135.4 293.3"/><path d="M140.2 333.8L151.2 298.2"/><path d="M143.5 334.8L156.6 299.9"/><path d="M142.7 338.5L155.2 305.9"/><path d="M146.2 338.1L160.9 305.3"/><path d="M162.0 333.9L186.8 298.4"/><path d="M98.6 342.8L83.4 312.9"/><path d="M98.4 346.6L82.9 319.0"/><path d="M138.3 343.8L148.1 314.5"/><path d="M138.1 349.3L147.8 323.5"/><path d="M104.6 357.5L93.0 336.9"/><path d="M108.3 357.8L99.1 337.4"/><path d="M129.7 358.4L134.1 338.4"/><path d="M120.5 365.8L119.0 350.3"/><path d="M123.5 368.8L123.9 355.3"/><path d="M127.1 368.6L129.8 355.0"/><path d="M125.3 385.5L126.8 382.5"/><path d="M154.2 396.3L142.7 372.1"/><path d="M157.8 396.1L148.6 371.9"/><path d="M177.8 410.3L181.2 395.0"/><path d="M156.0 413.0L145.6 399.3"/></g>
<g stroke="rgb(96,22,18)"><path d="M125.8 194.5L100.4 199.0"/><path d="M132.3 194.1L110.9 198.5"/><path d="M152.7 208.8L143.8 222.1"/><path d="M152.3 216.2L143.1 234.0"/><path d="M168.1 221.0L168.6 241.9"/><path d="M173.5 222.7L177.3 244.5"/><path d="M172.1 228.7L175.1 254.2"/><path d="M177.8 228.1L184.3 253.2"/><path d="M203.6 221.2L226.0 242.2"/><path d="M100.2 235.7L59.2 265.5"/><path d="M99.8 241.9L58.5 275.4"/><path d="M164.7 246.3L163.2 282.6"/><path d="M116.0 260.2L84.6 305.0"/><path d="M144.6 262.1L130.7 308.1"/><path d="M135.9 273.2L116.7 325.9"/><path d="M146.7 277.8L134.1 333.5"/><path d="M91.5 213.5L100.4 199.0"/><path d="M98.1 213.2L110.9 198.5"/><path d="M130.7 226.2L163.6 219.5"/><path d="M118.0 235.2L143.1 234.0"/><path d="M143.1 237.8L183.6 238.3"/><path d="M137.9 247.7L175.1 254.2"/><path d="M143.6 247.1L184.3 253.2"/><path d="M66.0 254.7L59.2 265.5"/><path d="M65.6 260.9L58.5 275.4"/><path d="M75.7 278.8L74.8 304.3"/><path d="M81.8 279.2L84.6 305.0"/><path d="M110.4 281.1L130.7 308.1"/><path d="M101.7 292.2L116.7 325.9"/><path d="M106.6 297.1L124.6 333.9"/><path d="M112.4 296.9L134.1 333.5"/><path d="M145.1 320.0L186.7 370.8"/><path d="M109.5 324.3L129.3 377.8"/><path d="M160.5 215.8L110.9 198.5"/><path d="M193.1 228.9L163.6 219.5"/><path d="M199.4 239.0L173.7 235.8"/><path d="M196.3 242.7L168.6 241.9"/><path d="M205.5 240.5L183.6 238.3"/><path d="M201.6 244.4L177.3 244.5"/><path d="M200.3 250.4L175.1 254.2"/><path d="M231.8 242.9L226.0 242.2"/><path d="M192.7 255.9L162.9 263.0"/><path d="M181.9 259.9L145.5 269.6"/><path d="M182.7 269.4L146.7 284.8"/><path d="M144.2 281.9L84.6 305.0"/><path d="M179.1 282.9L141.0 306.7"/><path d="M198.2 315.7L171.8 359.6"/><path d="M108.9 227.2L100.4 199.0"/><path d="M115.4 226.9L110.9 198.5"/><path d="M148.1 239.9L163.6 219.5"/><path d="M148.1 245.4L163.6 228.4"/><path d="M151.2 253.8L168.6 241.9"/><path d="M156.6 255.4L177.3 244.5"/><path d="M83.4 268.4L59.2 265.5"/><path d="M82.9 274.6L58.5 275.4"/><path d="M136.9 271.0L145.5 269.6"/><path d="M147.8 279.0L163.2 282.6"/><path d="M93.0 292.5L74.8 304.3"/><path d="M99.1 292.9L84.6 305.0"/><path d="M127.7 294.8L130.7 308.1"/><path d="M119.0 305.9L116.7 325.9"/><path d="M129.8 310.6L134.1 333.5"/><path d="M153.2 326.7L171.8 359.6"/><path d="M126.8 338.0L129.3 377.8"/><path d="M156.0 250.3L128.3 216.0"/><path d="M177.8 258.0L163.6 228.4"/><path d="M184.1 262.6L173.7 235.8"/><path d="M181.0 266.3L168.6 241.9"/><path d="M216.5 266.5L226.0 242.2"/><path d="M113.1 281.0L59.2 265.5"/><path d="M112.7 287.1L58.5 275.4"/><path d="M177.4 279.5L162.9 263.0"/><path d="M167.4 293.0L146.7 284.8"/><path d="M122.8 305.0L74.8 304.3"/><path d="M157.5 307.4L130.7 308.1"/><path d="M163.8 306.5L141.0 306.7"/><path d="M153.7 323.4L124.6 333.9"/><path d="M159.5 323.1L134.1 333.5"/><path d="M182.9 339.3L171.8 359.6"/><path d="M192.2 346.3L186.7 370.8"/><path d="M85.3 250.5L100.4 199.0"/><path d="M102.6 261.0L128.3 216.0"/><path d="M112.3 264.9L143.8 222.1"/><path d="M124.5 263.3L163.6 219.5"/><path d="M111.8 272.2L143.1 234.0"/><path d="M130.8 273.4L173.7 235.8"/><path d="M131.7 284.8L175.1 254.2"/><path d="M137.4 284.1L184.3 253.2"/><path d="M59.8 291.8L59.2 265.5"/><path d="M59.4 297.9L58.5 275.4"/><path d="M124.1 290.2L162.9 263.0"/><path d="M124.3 302.4L163.2 282.6"/><path d="M69.5 315.8L74.8 304.3"/><path d="M75.6 316.3L84.6 305.0"/><path d="M104.1 318.2L130.7 308.1"/><path d="M110.5 317.3L141.0 306.7"/><path d="M95.5 329.2L116.7 325.9"/><path d="M106.2 333.9L134.1 333.5"/><path d="M138.9 357.1L186.7 370.8"/><path d="M103.3 361.4L129.3 377.8"/><path d="M146.0 261.8L100.4 199.0"/><path d="M152.5 261.5L110.9 198.5"/><path d="M163.3 272.4L128.3 216.0"/><path d="M172.9 276.2L143.8 222.1"/><path d="M185.2 274.6L163.6 219.5"/><path d="M185.2 280.1L163.6 228.4"/><path d="M191.5 284.7L173.7 235.8"/><path d="M188.3 288.4L168.6 241.9"/><path d="M197.6 286.2L183.6 238.3"/><path d="M120.0 309.2L58.5 275.4"/><path d="M184.7 301.6L162.9 263.0"/><path d="M185.2 304.7L163.6 268.2"/><path d="M171.1 328.6L141.0 306.7"/><path d="M161.0 345.5L124.6 333.9"/><path d="M166.9 345.2L134.1 333.5"/><path d="M199.5 368.4L186.7 370.8"/><path d="M163.9 372.7L129.3 377.8"/><path d="M108.9 271.6L100.4 199.0"/><path d="M126.2 282.2L128.3 216.0"/><path d="M148.1 284.4L163.6 219.5"/><path d="M148.1 289.9L163.6 228.4"/><path d="M135.4 293.3L143.1 234.0"/><path d="M151.2 298.2L168.6 241.9"/><path d="M156.6 299.9L177.3 244.5"/><path d="M155.2 305.9L175.1 254.2"/><path d="M160.9 305.3L184.3 253.2"/><path d="M186.8 298.4L226.0 242.2"/><path d="M83.4 312.9L59.2 265.5"/><path d="M82.9 319.0L58.5 275.4"/><path d="M148.1 314.5L163.6 268.2"/><path d="M147.8 323.5L163.2 282.6"/><path d="M93.0 336.9L74.8 304.3"/><path d="M99.1 337.4L84.6 305.0"/><path d="M134.1 338.4L141.0 306.7"/><path d="M119.0 350.3L116.7 325.9"/><path d="M123.9 355.3L124.6 333.9"/><path d="M129.8 355.0L134.1 333.5"/><path d="M126.8 382.5L129.3 377.8"/><path d="M142.7 372.1L124.6 333.9"/><path d="M148.6 371.9L134.1 333.5"/><path d="M181.2 395.0L186.7 370.8"/><path d="M145.6 399.3L129.3 377.8"/></g>
</g>
<circle cx="100.4" cy="199.0" r="4.26" fill="#121212" stroke="#5a1208" stroke-width="0.7"/>
<circle cx="110.9" cy="198.5" r="4.26" fill="#121212" stroke="#5a1208" stroke-width="0.7"/>
<circle cx="154.6" cy="198.8" r="4.26" fill="#e6371a" stroke="#5a1208" stroke-width="0.7"/>
<circle cx="135.8" cy="209.5" r="4.26" fill="#e6371a" stroke="#5a1208" stroke-width="0.7"/>
<circle cx="128.3" cy="216.0" r="4.26" fill="#121212" stroke="#5a1208" stroke-width="0.7"/>
<circle cx="143.8" cy="222.1" r="4.26" fill="#121212" stroke="#5a1208" stroke-width="0.7"/>
<circle cx="163.6" cy="219.5" r="4.26" fill="#121212" stroke="#5a1208" stroke-width="0.7"/>
<circle cx="205.2" cy="210.6" r="4.26" fill="#e6371a" stroke="#5a1208" stroke-width="0.7"/>
<circle cx="212.7" cy="221.8" r="4.26" fill="#e6371a" stroke="#5a1208" stroke-width="0.7"/>
<circle cx="163.6" cy="228.4" r="4.26" fill="#121212" stroke="#5a1208" stroke-width="0.7"/>
<circle cx="213.7" cy="231.8" r="4.26" fill="#e6371a" stroke="#5a1208" stroke-width="0.7"/>
<circle cx="143.1" cy="234.0" r="4.26" fill="#121212" stroke="#5a1208" stroke-width="0.7"/>
<circle cx="150.9" cy="233.3" r="4.26" fill="#e6371a" stroke="#5a1208" stroke-width="0.7"/>
<circle cx="163.6" cy="236.3" r="4.26" fill="#e6371a" stroke="#5a1208" stroke-width="0.7"/>
<circle cx="173.7" cy="235.8" r="4.26" fill="#121212" stroke="#5a1208" stroke-width="0.7"/>
<circle cx="168.6" cy="241.9" r="4.26" fill="#121212" stroke="#5a1208" stroke-width="0.7"/>
<circle cx="183.6" cy="238.3" r="4.26" fill="#121212" stroke="#5a1208" stroke-width="0.7"/>
<circle cx="191.5" cy="238.7" r="4.26" fill="#e6371a" stroke="#5a1208" stroke-width="0.7"/>
<circle cx="177.3" cy="244.5" r="4.26" fill="#121212" stroke="#5a1208" stroke-width="0.7"/>
<circle cx="195.3" cy="246.3" r="4.26" fill="#e6371a" stroke="#5a1208" stroke-width="0.7"/>
<circle cx="198.3" cy="253.8" r="4.26" fill="#e6371a" stroke="#5a1208" stroke-width="0.7"/>
<circle cx="162.9" cy="249.2" r="4.26" fill="#e6371a" stroke="#5a1208" stroke-width="0.7"/>
<circle cx="166.9" cy="252.8" r="4.26" fill="#e6371a" stroke="#5a1208" stroke-width="0.7"/>
<circle cx="175.1" cy="254.2" r="4.26" fill="#121212" stroke="#5a1208" stroke-width="0.7"/>
<circle cx="184.3" cy="253.2" r="4.26" fill="#121212" stroke="#5a1208" stroke-width="0.7"/>
<circle cx="207.9" cy="239.7" r="4.26" fill="#e6371a" stroke="#5a1208" stroke-width="0.7"/>
<circle cx="217.3" cy="239.7" r="4.26" fill="#e6371a" stroke="#5a1208" stroke-width="0.7"/>
<circle cx="226.0" cy="242.2" r="4.26" fill="#121212" stroke="#5a1208" stroke-width="0.7"/>
<circle cx="59.2" cy="265.5" r="4.26" fill="#121212" stroke="#5a1208" stroke-width="0.7"/>
<circle cx="58.5" cy="275.4" r="4.26" fill="#121212" stroke="#5a1208" stroke-width="0.7"/>
<circle cx="151.6" cy="263.4" r="4.26" fill="#e6371a" stroke="#5a1208" stroke-width="0.7"/>
<circle cx="162.9" cy="263.0" r="4.26" fill="#121212" stroke="#5a1208" stroke-width="0.7"/>
<circle cx="163.6" cy="268.2" r="4.26" fill="#121212" stroke="#5a1208" stroke-width="0.7"/>
<circle cx="145.5" cy="269.6" r="4.26" fill="#121212" stroke="#5a1208" stroke-width="0.7"/>
<circle cx="145.5" cy="275.1" r="4.26" fill="#e6371a" stroke="#5a1208" stroke-width="0.7"/>
<circle cx="170.4" cy="274.7" r="4.26" fill="#e6371a" stroke="#5a1208" stroke-width="0.7"/>
<circle cx="163.2" cy="282.6" r="4.26" fill="#121212" stroke="#5a1208" stroke-width="0.7"/>
<circle cx="199.7" cy="284.4" r="4.26" fill="#e6371a" stroke="#5a1208" stroke-width="0.7"/>
<circle cx="141.0" cy="285.1" r="4.26" fill="#e6371a" stroke="#5a1208" stroke-width="0.7"/>
<circle cx="146.7" cy="284.8" r="4.26" fill="#121212" stroke="#5a1208" stroke-width="0.7"/>
<circle cx="155.7" cy="290.1" r="4.26" fill="#e6371a" stroke="#5a1208" stroke-width="0.7"/>
<circle cx="162.6" cy="298.0" r="4.26" fill="#e6371a" stroke="#5a1208" stroke-width="0.7"/>
<circle cx="178.5" cy="301.1" r="4.26" fill="#e6371a" stroke="#5a1208" stroke-width="0.7"/>
<circle cx="74.8" cy="304.3" r="4.26" fill="#121212" stroke="#5a1208" stroke-width="0.7"/>
<circle cx="84.6" cy="305.0" r="4.26" fill="#121212" stroke="#5a1208" stroke-width="0.7"/>
<circle cx="106.3" cy="311.6" r="4.26" fill="#e6371a" stroke="#5a1208" stroke-width="0.7"/>
<circle cx="116.0" cy="310.1" r="4.26" fill="#e6371a" stroke="#5a1208" stroke-width="0.7"/>
<circle cx="130.7" cy="308.1" r="4.26" fill="#121212" stroke="#5a1208" stroke-width="0.7"/>
<circle cx="141.0" cy="306.7" r="4.26" fill="#121212" stroke="#5a1208" stroke-width="0.7"/>
<circle cx="130.4" cy="315.7" r="4.26" fill="#e6371a" stroke="#5a1208" stroke-width="0.7"/>
<circle cx="141.6" cy="317.4" r="4.26" fill="#e6371a" stroke="#5a1208" stroke-width="0.7"/>
<circle cx="155.4" cy="318.3" r="4.26" fill="#e6371a" stroke="#5a1208" stroke-width="0.7"/>
<circle cx="162.9" cy="317.4" r="4.26" fill="#e6371a" stroke="#5a1208" stroke-width="0.7"/>
<circle cx="94.3" cy="320.1" r="4.26" fill="#e6371a" stroke="#5a1208" stroke-width="0.7"/>
<circle cx="104.8" cy="319.0" r="4.26" fill="#e6371a" stroke="#5a1208" stroke-width="0.7"/>
<circle cx="116.7" cy="325.9" r="4.26" fill="#121212" stroke="#5a1208" stroke-width="0.7"/>
<circle cx="126.5" cy="325.9" r="4.26" fill="#e6371a" stroke="#5a1208" stroke-width="0.7"/>
<circle cx="135.2" cy="325.6" r="4.26" fill="#e6371a" stroke="#5a1208" stroke-width="0.7"/>
<circle cx="104.8" cy="334.6" r="4.26" fill="#e6371a" stroke="#5a1208" stroke-width="0.7"/>
<circle cx="115.5" cy="333.9" r="4.26" fill="#e6371a" stroke="#5a1208" stroke-width="0.7"/>
<circle cx="124.6" cy="333.9" r="4.26" fill="#121212" stroke="#5a1208" stroke-width="0.7"/>
<circle cx="134.1" cy="333.5" r="4.26" fill="#121212" stroke="#5a1208" stroke-width="0.7"/>
<circle cx="116.0" cy="341.7" r="4.26" fill="#e6371a" stroke="#5a1208" stroke-width="0.7"/>
<circle cx="139.7" cy="340.4" r="4.26" fill="#e6371a" stroke="#5a1208" stroke-width="0.7"/>
<circle cx="145.3" cy="341.5" r="4.26" fill="#e6371a" stroke="#5a1208" stroke-width="0.7"/>
<circle cx="162.9" cy="341.7" r="4.26" fill="#e6371a" stroke="#5a1208" stroke-width="0.7"/>
<circle cx="217.7" cy="337.1" r="4.26" fill="#e6371a" stroke="#5a1208" stroke-width="0.7"/>
<circle cx="142.7" cy="349.8" r="4.26" fill="#e6371a" stroke="#5a1208" stroke-width="0.7"/>
<circle cx="152.5" cy="349.4" r="4.26" fill="#e6371a" stroke="#5a1208" stroke-width="0.7"/>
<circle cx="176.2" cy="350.5" r="4.26" fill="#e6371a" stroke="#5a1208" stroke-width="0.7"/>
<circle cx="188.4" cy="349.8" r="4.26" fill="#e6371a" stroke="#5a1208" stroke-width="0.7"/>
<circle cx="115.3" cy="358.1" r="4.26" fill="#e6371a" stroke="#5a1208" stroke-width="0.7"/>
<circle cx="141.3" cy="364.0" r="4.26" fill="#e6371a" stroke="#5a1208" stroke-width="0.7"/>
<circle cx="155.0" cy="360.6" r="4.26" fill="#e6371a" stroke="#5a1208" stroke-width="0.7"/>
<circle cx="171.8" cy="359.6" r="4.26" fill="#121212" stroke="#5a1208" stroke-width="0.7"/>
<circle cx="189.5" cy="360.6" r="4.26" fill="#e6371a" stroke="#5a1208" stroke-width="0.7"/>
<circle cx="198.7" cy="362.2" r="4.26" fill="#e6371a" stroke="#5a1208" stroke-width="0.7"/>
<circle cx="186.7" cy="370.8" r="4.26" fill="#121212" stroke="#5a1208" stroke-width="0.7"/>
<circle cx="167.5" cy="376.7" r="4.26" fill="#e6371a" stroke="#5a1208" stroke-width="0.7"/>
<circle cx="129.3" cy="377.8" r="4.26" fill="#121212" stroke="#5a1208" stroke-width="0.7"/>
<circle cx="167.2" cy="187.1" r="8.51" fill="#e6371a" stroke="#5a1208" stroke-width="0.8"/>
<circle cx="77.1" cy="237.1" r="8.51" fill="#e6371a" stroke="#5a1208" stroke-width="0.8"/>
<circle cx="241.3" cy="244.1" r="8.51" fill="#e6371a" stroke="#5a1208" stroke-width="0.8"/>
<circle cx="122.8" cy="273.2" r="8.51" fill="#e6371a" stroke="#5a1208" stroke-width="0.8"/>
<circle cx="201.1" cy="306.2" r="8.51" fill="#e6371a" stroke="#5a1208" stroke-width="0.8"/>
<circle cx="60.8" cy="334.6" r="8.51" fill="#e6371a" stroke="#5a1208" stroke-width="0.8"/>
<circle cx="220.4" cy="364.4" r="8.51" fill="#e6371a" stroke="#5a1208" stroke-width="0.8"/>
<circle cx="122.8" cy="390.2" r="8.51" fill="#e6371a" stroke="#5a1208" stroke-width="0.8"/>
<circle cx="172.3" cy="434.5" r="8.51" fill="#e6371a" stroke="#5a1208" stroke-width="0.8"/>
</g>
<g id="net2">
<g fill="none" stroke-width="0.65" stroke-opacity="0.85">
<g stroke="rgb(62,168,52)"><path d="M419.6 192.8L394.6 197.2"/><path d="M419.6 192.8L398.5 197.0"/><path d="M419.6 192.8L414.9 197.1"/><path d="M419.6 192.8L407.8 201.1"/><path d="M419.6 192.8L410.8 205.8"/><path d="M419.6 192.8L433.8 201.5"/><path d="M419.6 192.8L436.6 205.7"/><path d="M419.6 192.8L437.0 209.4"/><path d="M419.6 192.8L410.6 210.2"/><path d="M419.6 192.8L420.1 213.1"/><path d="M419.6 192.8L428.7 212.0"/><path d="M419.6 192.8L423.4 214.1"/><path d="M419.6 192.8L419.5 217.2"/><path d="M419.6 192.8L422.6 217.7"/><path d="M419.6 192.8L426.0 217.3"/><path d="M419.6 192.8L438.4 212.3"/><path d="M419.6 192.8L441.6 213.2"/><path d="M419.6 192.8L379.1 221.9"/><path d="M419.6 192.8L378.9 225.6"/><path d="M419.6 192.8L411.5 225.5"/><path d="M419.6 192.8L420.8 225.3"/><path d="M419.6 192.8L418.1 228.3"/><path d="M419.6 192.8L388.7 236.6"/><path d="M419.6 192.8L396.8 239.0"/><path d="M419.6 192.8L405.9 237.7"/><path d="M419.6 192.8L405.8 240.5"/><path d="M419.6 192.8L410.0 241.2"/><path d="M419.6 192.8L415.2 241.5"/><path d="M419.6 192.8L392.3 242.2"/><path d="M419.6 192.8L400.7 244.3"/><path d="M419.6 192.8L407.6 244.2"/><path d="M419.6 192.8L396.2 247.6"/><path d="M419.6 192.8L400.2 247.3"/><path d="M419.6 192.8L407.2 247.1"/><path d="M419.6 192.8L400.4 250.2"/><path d="M419.6 192.8L418.0 250.2"/><path d="M419.6 192.8L414.1 253.1"/><path d="M419.6 192.8L427.5 253.2"/><path d="M419.6 192.8L409.9 258.5"/><path d="M419.6 192.8L415.0 257.2"/><path d="M375.8 276.9L367.4 249.3"/><path d="M375.8 276.9L371.4 249.2"/><path d="M375.8 276.9L387.7 249.3"/><path d="M375.8 276.9L380.7 253.3"/><path d="M375.8 276.9L391.1 257.0"/><path d="M375.8 276.9L406.7 253.7"/><path d="M375.8 276.9L391.1 260.3"/><path d="M375.8 276.9L386.3 262.1"/><path d="M375.8 276.9L391.1 263.2"/><path d="M375.8 276.9L393.0 265.3"/><path d="M375.8 276.9L401.5 264.1"/><path d="M375.8 276.9L396.2 266.3"/><path d="M375.8 276.9L392.3 269.3"/><path d="M375.8 276.9L352.0 274.0"/><path d="M375.8 276.9L351.7 277.7"/><path d="M375.8 276.9L386.6 273.3"/><path d="M375.8 276.9L384.3 275.6"/><path d="M375.8 276.9L384.3 277.6"/><path d="M375.8 276.9L390.9 280.4"/><path d="M375.8 276.9L396.7 287.3"/><path d="M375.8 276.9L357.8 288.5"/><path d="M375.8 276.9L361.5 288.7"/><path d="M375.8 276.9L369.6 291.1"/><path d="M375.8 276.9L373.3 290.6"/><path d="M375.8 276.9L378.8 289.9"/><path d="M375.8 276.9L378.7 292.7"/><path d="M375.8 276.9L388.0 293.7"/><path d="M375.8 276.9L365.1 294.3"/><path d="M375.8 276.9L369.1 293.9"/><path d="M375.8 276.9L373.5 296.5"/><path d="M375.8 276.9L380.4 296.4"/><path d="M375.8 276.9L369.1 299.7"/><path d="M375.8 276.9L373.1 299.4"/><path d="M375.8 276.9L380.0 299.3"/><path d="M375.8 276.9L373.3 302.3"/><path d="M375.8 276.9L390.8 302.3"/><path d="M375.8 276.9L373.0 308.4"/><path d="M375.8 276.9L382.7 310.6"/><path d="M375.8 276.9L387.8 309.4"/><path d="M375.8 276.9L394.2 309.0"/><path d="M375.8 276.9L392.6 315.3"/><path d="M375.8 276.9L378.2 315.7"/><path d="M453.0 309.2L425.7 275.7"/><path d="M453.0 309.2L454.5 273.7"/><path d="M453.0 309.2L457.3 277.8"/><path d="M453.0 309.2L438.9 280.3"/><path d="M453.0 309.2L457.7 281.6"/><path d="M453.0 309.2L442.7 283.1"/><path d="M453.0 309.2L440.8 285.3"/><path d="M453.0 309.2L450.8 286.9"/><path d="M453.0 309.2L451.9 289.7"/><path d="M453.0 309.2L438.7 288.0"/><path d="M453.0 309.2L459.1 284.5"/><path d="M453.0 309.2L462.3 285.4"/><path d="M453.0 309.2L399.8 294.1"/><path d="M453.0 309.2L399.6 297.8"/><path d="M453.0 309.2L434.5 293.3"/><path d="M453.0 309.2L438.7 293.2"/><path d="M453.0 309.2L432.2 297.6"/><path d="M453.0 309.2L441.5 297.5"/><path d="M453.0 309.2L452.5 301.1"/><path d="M453.0 309.2L432.6 301.3"/><path d="M453.0 309.2L438.6 306.1"/><path d="M453.0 309.2L444.5 307.3"/><path d="M453.0 309.2L405.7 308.5"/><path d="M453.0 309.2L417.5 311.2"/><path d="M453.0 309.2L421.1 310.6"/><path d="M453.0 309.2L426.6 309.9"/><path d="M453.0 309.2L430.5 309.4"/><path d="M453.0 309.2L426.5 312.7"/><path d="M453.0 309.2L430.7 313.3"/><path d="M453.0 309.2L435.9 313.7"/><path d="M453.0 309.2L438.7 313.3"/><path d="M453.0 309.2L428.3 316.4"/><path d="M453.0 309.2L424.3 319.5"/><path d="M453.0 309.2L427.9 319.3"/><path d="M453.0 309.2L432.1 322.3"/><path d="M453.0 309.2L459.2 320.6"/><path d="M453.0 309.2L431.1 325.4"/><path d="M453.0 309.2L434.8 325.2"/><path d="M453.0 309.2L443.7 325.6"/><path d="M453.0 309.2L448.2 325.4"/><path d="M453.0 309.2L420.9 328.5"/><path d="M453.0 309.2L430.6 330.6"/><path d="M453.0 309.2L435.7 329.4"/><path d="M453.0 309.2L442.0 329.0"/><path d="M453.0 309.2L448.7 329.4"/><path d="M453.0 309.2L452.1 330.0"/><path d="M453.0 309.2L447.6 333.2"/><path d="M453.0 309.2L440.4 335.3"/><path d="M453.0 309.2L460.2 330.8"/><path d="M375.8 276.9L352.6 299.7"/><path d="M419.6 192.8L403.0 224.8"/><path d="M375.8 276.9L405.1 289.2"/><path d="M375.8 276.9L375.8 320.3"/><path d="M453.0 309.2L442.2 356.8"/><path d="M419.6 192.8L447.3 214.0"/></g>
<g stroke="rgb(64,169,54)"><path d="M394.6 197.2L378.7 200.0"/><path d="M414.9 197.1L411.9 199.9"/><path d="M433.8 201.5L442.8 207.1"/><path d="M423.4 214.1L425.7 227.6"/><path d="M422.6 217.7L424.4 233.5"/><path d="M405.8 240.5L397.1 270.7"/><path d="M415.2 241.5L412.3 272.3"/><path d="M392.3 242.2L375.0 273.3"/><path d="M396.2 247.6L381.5 282.1"/><path d="M400.2 247.3L388.0 281.7"/><path d="M400.4 250.2L388.3 286.4"/><path d="M415.0 257.2L412.1 297.9"/><path d="M367.4 249.3L362.1 231.9"/><path d="M387.7 249.3L395.3 231.8"/><path d="M391.1 257.0L400.7 244.4"/><path d="M406.7 253.7L426.1 239.0"/><path d="M396.2 266.3L409.1 259.5"/><path d="M386.6 273.3L393.4 270.9"/><path d="M373.3 290.6L371.6 299.3"/><path d="M378.7 292.7L380.4 302.6"/><path d="M388.0 293.7L395.7 304.2"/><path d="M365.1 294.3L358.4 305.3"/><path d="M369.1 299.7L364.8 314.1"/><path d="M373.1 299.4L371.3 313.7"/><path d="M373.3 302.3L371.6 318.4"/><path d="M387.8 309.4L395.5 329.8"/><path d="M378.2 315.7L379.8 340.3"/><path d="M454.5 273.7L455.5 251.3"/><path d="M450.8 286.9L449.5 272.9"/><path d="M451.9 289.7L451.3 277.5"/><path d="M434.5 293.3L422.7 283.2"/><path d="M421.1 310.6L401.0 311.6"/><path d="M426.5 312.7L409.8 314.9"/><path d="M435.9 313.7L425.0 316.5"/><path d="M435.7 329.4L424.8 342.1"/><path d="M403.0 224.8L392.4 244.9"/><path d="M405.1 289.2L423.7 296.9"/></g>
<g stroke="rgb(66,170,56)"><path d="M378.7 200.0L353.7 204.4"/><path d="M411.9 199.9L407.2 204.2"/><path d="M442.8 207.1L457.0 215.8"/><path d="M425.7 227.6L429.5 248.9"/><path d="M424.4 233.5L427.4 258.4"/><path d="M397.1 270.7L383.3 318.4"/><path d="M412.3 272.3L407.9 321.0"/><path d="M375.0 273.3L347.7 322.7"/><path d="M381.5 282.1L358.1 336.9"/><path d="M388.0 281.7L368.6 336.2"/><path d="M388.3 286.4L369.1 343.8"/><path d="M412.1 297.9L407.5 362.3"/><path d="M345.0 218.6L353.7 204.4"/><path d="M383.6 231.0L416.0 224.5"/><path d="M409.0 225.6L457.0 215.8"/><path d="M390.7 252.1L427.4 258.4"/><path d="M376.3 257.6L404.2 267.3"/><path d="M354.5 285.9L369.1 313.0"/><path d="M362.7 326.9L382.2 379.1"/><path d="M439.7 221.0L407.2 204.2"/><path d="M445.1 233.6L416.0 224.5"/><path d="M470.5 228.2L457.0 215.8"/><path d="M453.5 248.7L429.5 248.9"/><path d="M464.5 249.8L447.3 250.6"/><path d="M466.3 254.4L450.2 258.0"/><path d="M452.2 254.6L427.4 258.4"/><path d="M437.8 260.2L404.2 267.3"/><path d="M431.3 273.3L393.7 288.5"/><path d="M416.0 288.5L369.1 313.0"/><path d="M424.8 291.8L383.3 318.4"/><path d="M439.8 319.1L407.5 362.3"/><path d="M362.1 231.9L353.7 204.4"/><path d="M395.3 231.8L407.2 204.2"/><path d="M400.7 244.4L416.0 224.5"/><path d="M426.1 239.0L457.0 215.8"/><path d="M409.1 259.5L429.5 248.9"/><path d="M393.4 270.9L404.2 267.3"/><path d="M371.6 299.3L369.1 313.0"/><path d="M380.4 302.6L383.3 318.4"/><path d="M395.7 304.2L407.9 321.0"/><path d="M358.4 305.3L347.7 322.7"/><path d="M364.8 314.1L358.1 336.9"/><path d="M371.3 313.7L368.6 336.2"/><path d="M371.6 318.4L369.1 343.8"/><path d="M395.5 329.8L407.5 362.3"/><path d="M379.8 340.3L382.2 379.1"/><path d="M455.5 251.3L457.0 215.8"/><path d="M449.5 272.9L447.3 250.6"/><path d="M451.3 277.5L450.2 258.0"/><path d="M422.7 283.2L404.2 267.3"/><path d="M401.0 311.6L369.1 313.0"/><path d="M409.8 314.9L383.3 318.4"/><path d="M425.0 316.5L407.9 321.0"/><path d="M424.8 342.1L407.5 362.3"/><path d="M338.9 254.8L353.7 204.4"/><path d="M372.1 254.6L407.2 204.2"/><path d="M377.5 267.2L416.0 224.5"/><path d="M384.6 288.2L427.4 258.4"/><path d="M348.4 322.1L369.1 313.0"/><path d="M335.2 328.1L347.7 322.7"/><path d="M341.6 336.9L358.1 336.9"/><path d="M348.1 336.5L368.6 336.2"/><path d="M356.6 363.1L382.2 379.1"/><path d="M398.7 265.8L353.7 204.4"/><path d="M431.8 265.7L407.2 204.2"/><path d="M437.3 278.3L416.0 224.5"/><path d="M462.7 272.9L457.0 215.8"/><path d="M430.0 304.8L404.2 267.3"/><path d="M423.5 317.9L393.7 288.5"/><path d="M432.3 338.1L407.9 321.0"/><path d="M408.2 352.2L369.1 343.8"/><path d="M432.0 363.7L407.5 362.3"/><path d="M416.3 374.1L382.2 379.1"/><path d="M362.1 275.4L353.7 204.4"/><path d="M395.3 275.3L407.2 204.2"/><path d="M400.7 287.8L416.0 224.5"/><path d="M426.1 282.5L457.0 215.8"/><path d="M409.1 303.0L429.5 248.9"/><path d="M407.8 308.9L427.4 258.4"/><path d="M386.9 327.5L393.7 288.5"/><path d="M371.6 342.7L369.1 313.0"/><path d="M395.7 347.7L407.9 321.0"/><path d="M358.4 348.7L347.7 322.7"/><path d="M364.8 357.5L358.1 336.9"/><path d="M371.3 357.1L368.6 336.2"/><path d="M395.5 373.3L407.5 362.3"/><path d="M379.8 383.7L382.2 379.1"/><path d="M414.2 364.1L407.9 321.0"/><path d="M389.9 373.6L368.6 336.2"/><path d="M390.2 378.3L369.1 343.8"/><path d="M414.0 389.7L407.5 362.3"/><path d="M398.3 400.2L382.2 379.1"/><path d="M468.0 286.1L453.0 309.2"/><path d="M358.7 263.5L375.8 276.9"/><path d="M392.4 244.9L375.8 276.9"/><path d="M423.7 296.9L453.0 309.2"/></g>
<g stroke="rgb(44,123,48)"><path d="M398.5 197.0L385.2 199.7"/><path d="M407.8 201.1L400.4 206.4"/><path d="M410.8 205.8L405.3 214.0"/><path d="M436.6 205.7L447.4 213.8"/><path d="M437.0 209.4L448.0 219.9"/><path d="M410.6 210.2L404.8 221.2"/><path d="M420.1 213.1L420.5 226.0"/><path d="M428.7 212.0L434.4 224.0"/><path d="M419.5 217.2L419.4 232.6"/><path d="M426.0 217.3L430.0 232.9"/><path d="M438.4 212.3L450.2 224.7"/><path d="M441.6 213.2L455.5 226.2"/><path d="M379.1 221.9L353.6 240.3"/><path d="M378.9 225.6L353.1 246.3"/><path d="M411.5 225.5L406.3 246.1"/><path d="M420.8 225.3L421.5 245.9"/><path d="M418.1 228.3L417.1 250.6"/><path d="M388.7 236.6L369.1 264.2"/><path d="M396.8 239.0L382.3 268.2"/><path d="M405.9 237.7L397.3 266.1"/><path d="M410.0 241.2L403.9 271.7"/><path d="M400.7 244.3L388.7 276.9"/><path d="M407.6 244.2L400.0 276.7"/><path d="M407.2 247.1L399.3 281.5"/><path d="M418.0 250.2L416.9 286.4"/><path d="M414.1 253.1L410.6 291.1"/><path d="M427.5 253.2L432.6 291.4"/><path d="M409.9 258.5L403.7 299.9"/><path d="M371.4 249.2L368.5 231.6"/><path d="M380.7 253.3L383.7 238.3"/><path d="M391.1 260.3L400.7 249.8"/><path d="M386.3 262.1L393.0 252.7"/><path d="M391.1 263.2L400.7 254.6"/><path d="M393.0 265.3L403.8 257.9"/><path d="M401.5 264.1L417.8 256.0"/><path d="M392.3 269.3L402.8 264.6"/><path d="M352.0 274.0L336.9 272.2"/><path d="M351.7 277.7L336.5 278.3"/><path d="M384.3 275.6L389.7 274.7"/><path d="M384.3 277.6L389.7 278.1"/><path d="M390.9 280.4L400.5 282.6"/><path d="M396.7 287.3L409.8 293.8"/><path d="M357.8 288.5L346.5 295.7"/><path d="M361.5 288.7L352.5 296.2"/><path d="M369.6 291.1L365.7 300.1"/><path d="M378.8 289.9L380.6 298.0"/><path d="M369.1 293.9L364.8 304.7"/><path d="M373.5 296.5L372.1 308.8"/><path d="M380.4 296.4L383.4 308.6"/><path d="M380.0 299.3L382.7 313.4"/><path d="M390.8 302.3L400.3 318.4"/><path d="M373.0 308.4L371.2 328.4"/><path d="M382.7 310.6L387.1 331.9"/><path d="M394.2 309.0L405.7 329.2"/><path d="M392.6 315.3L403.1 339.6"/><path d="M425.7 275.7L408.5 254.5"/><path d="M457.3 277.8L460.1 258.1"/><path d="M438.9 280.3L430.1 262.1"/><path d="M457.7 281.6L460.7 264.1"/><path d="M442.7 283.1L436.3 266.5"/><path d="M440.8 285.3L433.2 270.2"/><path d="M438.7 288.0L429.6 274.7"/><path d="M459.1 284.5L462.9 268.9"/><path d="M462.3 285.4L468.2 270.4"/><path d="M399.8 294.1L366.3 284.5"/><path d="M399.6 297.8L365.8 290.5"/><path d="M438.7 293.2L429.6 283.0"/><path d="M432.2 297.6L419.0 290.4"/><path d="M441.5 297.5L434.2 290.1"/><path d="M452.5 301.1L452.1 296.0"/><path d="M432.6 301.3L419.8 296.2"/><path d="M438.6 306.1L429.4 304.2"/><path d="M444.5 307.3L439.2 306.1"/><path d="M405.7 308.5L375.8 308.0"/><path d="M417.5 311.2L395.0 312.4"/><path d="M426.6 309.9L410.0 310.3"/><path d="M430.5 309.4L416.2 309.4"/><path d="M430.7 313.3L416.6 316.0"/><path d="M438.7 313.3L429.6 316.0"/><path d="M428.3 316.4L412.7 320.9"/><path d="M424.3 319.5L406.3 325.9"/><path d="M427.9 319.3L412.0 325.7"/><path d="M432.1 322.3L418.9 330.5"/><path d="M459.2 320.6L463.2 327.9"/><path d="M431.1 325.4L417.3 335.6"/><path d="M434.8 325.2L423.3 335.4"/><path d="M443.7 325.6L437.7 336.0"/><path d="M448.2 325.4L445.2 335.6"/><path d="M420.9 328.5L400.5 340.6"/><path d="M430.6 330.6L416.4 344.2"/><path d="M442.0 329.0L435.1 341.5"/><path d="M448.7 329.4L445.9 342.1"/><path d="M452.1 330.0L451.5 343.1"/><path d="M447.6 333.2L444.2 348.3"/><path d="M440.4 335.3L432.5 351.9"/><path d="M460.2 330.8L464.8 344.4"/><path d="M352.6 299.7L337.9 314.1"/><path d="M375.8 320.3L375.8 347.8"/><path d="M442.2 356.8L435.4 386.9"/><path d="M447.3 214.0L464.9 227.3"/></g>
<g stroke="rgb(26,78,44)"><path d="M385.2 199.7L364.1 203.9"/><path d="M400.4 206.4L388.6 214.7"/><path d="M405.3 214.0L396.5 227.0"/><path d="M447.4 213.8L464.4 226.7"/><path d="M448.0 219.9L465.4 236.5"/><path d="M404.8 221.2L395.8 238.6"/><path d="M420.5 226.0L421.0 246.3"/><path d="M434.4 224.0L443.5 243.2"/><path d="M419.4 232.6L419.3 257.0"/><path d="M430.0 232.9L436.4 257.4"/><path d="M450.2 224.7L469.0 244.2"/><path d="M455.5 226.2L477.5 246.6"/><path d="M353.6 240.3L313.1 269.4"/><path d="M353.1 246.3L312.4 279.1"/><path d="M406.3 246.1L398.2 278.8"/><path d="M421.5 245.9L422.7 278.4"/><path d="M417.1 250.6L415.6 286.1"/><path d="M369.1 264.2L338.2 308.0"/><path d="M382.3 268.2L359.5 314.4"/><path d="M397.3 266.1L383.6 311.0"/><path d="M403.9 271.7L394.3 320.1"/><path d="M388.7 276.9L369.8 328.4"/><path d="M400.0 276.7L388.0 328.1"/><path d="M399.3 281.5L386.9 335.8"/><path d="M416.9 286.4L415.3 343.8"/><path d="M410.6 291.1L405.1 351.4"/><path d="M432.6 291.4L440.5 351.8"/><path d="M403.7 299.9L394.0 365.6"/><path d="M351.4 218.3L364.1 203.9"/><path d="M366.6 225.0L388.6 214.7"/><path d="M371.1 239.8L395.8 238.6"/><path d="M395.8 242.4L435.7 242.8"/><path d="M400.7 242.6L443.5 243.2"/><path d="M385.7 251.2L419.3 257.0"/><path d="M396.3 251.4L436.4 257.4"/><path d="M319.8 258.9L313.1 269.4"/><path d="M319.4 264.9L312.4 279.1"/><path d="M378.8 273.8L408.2 293.4"/><path d="M392.7 280.4L430.7 304.2"/><path d="M329.4 282.4L328.5 307.3"/><path d="M335.4 282.8L338.2 308.0"/><path d="M363.5 284.7L383.6 311.0"/><path d="M383.2 290.3L415.3 320.1"/><path d="M355.0 295.5L369.8 328.4"/><path d="M359.8 300.3L377.6 336.2"/><path d="M365.6 300.0L386.9 335.8"/><path d="M372.5 304.9L398.0 343.6"/><path d="M383.2 305.0L415.3 343.8"/><path d="M376.9 309.7L405.1 351.4"/><path d="M398.8 310.0L440.5 351.8"/><path d="M397.8 322.7L438.8 372.3"/><path d="M412.9 220.8L364.1 203.9"/><path d="M475.1 235.0L464.4 226.7"/><path d="M475.7 241.1L465.4 236.5"/><path d="M437.4 241.9L403.5 237.9"/><path d="M445.1 243.8L416.0 240.9"/><path d="M451.3 243.5L426.0 240.4"/><path d="M448.2 247.1L421.0 246.3"/><path d="M457.3 245.0L435.7 242.8"/><path d="M444.7 251.6L415.3 253.5"/><path d="M472.2 245.8L459.7 244.2"/><path d="M478.0 245.8L469.0 244.2"/><path d="M483.2 247.3L477.5 246.6"/><path d="M444.7 260.0L415.3 267.0"/><path d="M434.1 263.9L398.2 273.4"/><path d="M449.3 267.0L422.7 278.4"/><path d="M467.2 272.9L451.6 287.9"/><path d="M434.8 273.2L399.4 288.3"/><path d="M440.3 276.3L408.2 293.4"/><path d="M454.2 283.0L430.7 304.2"/><path d="M396.9 285.4L338.2 308.0"/><path d="M431.3 286.4L393.7 309.6"/><path d="M431.7 292.9L394.3 320.1"/><path d="M422.5 298.0L379.5 328.4"/><path d="M427.7 297.9L388.0 328.1"/><path d="M430.5 306.8L392.5 342.6"/><path d="M433.9 307.5L398.0 343.6"/><path d="M444.7 307.6L415.3 343.8"/><path d="M478.2 304.8L469.4 339.3"/><path d="M432.3 312.5L395.4 351.8"/><path d="M438.3 312.3L405.1 351.4"/><path d="M452.8 312.9L428.4 352.4"/><path d="M431.5 321.1L394.0 365.6"/><path d="M450.1 318.4L424.1 361.3"/><path d="M461.0 319.1L441.6 362.3"/><path d="M466.6 320.0L450.6 363.9"/><path d="M368.5 231.6L364.1 203.9"/><path d="M383.7 238.3L388.6 214.7"/><path d="M400.7 249.8L416.0 233.2"/><path d="M393.0 252.7L403.5 237.9"/><path d="M400.7 254.6L416.0 240.9"/><path d="M403.8 257.9L421.0 246.3"/><path d="M417.8 256.0L443.5 243.2"/><path d="M402.8 264.6L419.3 257.0"/><path d="M336.9 272.2L313.1 269.4"/><path d="M336.5 278.3L312.4 279.1"/><path d="M389.7 274.7L398.2 273.4"/><path d="M389.7 278.1L398.2 278.8"/><path d="M400.5 282.6L415.6 286.1"/><path d="M409.8 293.8L430.7 304.2"/><path d="M346.5 295.7L328.5 307.3"/><path d="M352.5 296.2L338.2 308.0"/><path d="M365.7 300.1L359.5 314.4"/><path d="M380.6 298.0L383.6 311.0"/><path d="M364.8 304.7L358.1 321.7"/><path d="M372.1 308.8L369.8 328.4"/><path d="M383.4 308.6L388.0 328.1"/><path d="M382.7 313.4L386.9 335.8"/><path d="M400.3 318.4L415.3 343.8"/><path d="M371.2 328.4L368.4 359.9"/><path d="M387.1 331.9L394.0 365.6"/><path d="M405.7 329.2L424.1 361.3"/><path d="M403.1 339.6L419.9 378.0"/><path d="M408.5 254.5L381.2 221.0"/><path d="M460.1 258.1L464.4 226.7"/><path d="M430.1 262.1L416.0 233.2"/><path d="M460.7 264.1L465.4 236.5"/><path d="M436.3 266.5L426.0 240.4"/><path d="M433.2 270.2L421.0 246.3"/><path d="M429.6 274.7L415.3 253.5"/><path d="M462.9 268.9L469.0 244.2"/><path d="M468.2 270.4L477.5 246.6"/><path d="M366.3 284.5L313.1 269.4"/><path d="M365.8 290.5L312.4 279.1"/><path d="M429.6 283.0L415.3 267.0"/><path d="M419.0 290.4L398.2 278.8"/><path d="M434.2 290.1L422.7 278.4"/><path d="M452.1 296.0L451.6 287.9"/><path d="M419.8 296.2L399.4 288.3"/><path d="M429.4 304.2L415.0 301.1"/><path d="M439.2 306.1L430.7 304.2"/><path d="M375.8 308.0L328.5 307.3"/><path d="M395.0 312.4L359.5 314.4"/><path d="M410.0 310.3L383.6 311.0"/><path d="M416.2 309.4L393.7 309.6"/><path d="M416.6 316.0L394.3 320.1"/><path d="M429.6 316.0L415.3 320.1"/><path d="M412.7 320.9L388.0 328.1"/><path d="M406.3 325.9L377.6 336.2"/><path d="M412.0 325.7L386.9 335.8"/><path d="M418.9 330.5L398.0 343.6"/><path d="M463.2 327.9L469.4 339.3"/><path d="M417.3 335.6L395.4 351.8"/><path d="M423.3 335.4L405.1 351.4"/><path d="M437.7 336.0L428.4 352.4"/><path d="M445.2 335.6L440.5 351.8"/><path d="M400.5 340.6L368.4 359.9"/><path d="M416.4 344.2L394.0 365.6"/><path d="M435.1 341.5L424.1 361.3"/><path d="M445.9 342.1L441.6 362.3"/><path d="M451.5 343.1L450.6 363.9"/><path d="M444.2 348.3L438.8 372.3"/><path d="M432.5 351.9L419.9 378.0"/><path d="M360.5 261.1L388.6 214.7"/><path d="M355.9 265.0L381.2 221.0"/><path d="M365.4 268.8L396.5 227.0"/><path d="M408.1 274.7L465.4 236.5"/><path d="M365.0 276.0L395.8 238.6"/><path d="M377.5 277.4L416.0 240.9"/><path d="M383.7 277.1L426.0 240.4"/><path d="M394.6 278.8L443.5 243.2"/><path d="M377.1 285.2L415.3 253.5"/><path d="M390.2 287.6L436.4 257.4"/><path d="M404.6 279.4L459.7 244.2"/><path d="M313.7 295.0L313.1 269.4"/><path d="M313.3 301.1L312.4 279.1"/><path d="M377.1 293.6L415.3 267.0"/><path d="M377.3 305.4L415.6 286.1"/><path d="M376.9 314.7L415.0 301.1"/><path d="M323.3 318.5L328.5 307.3"/><path d="M329.3 319.0L338.2 308.0"/><path d="M342.5 322.9L359.5 314.4"/><path d="M357.4 320.8L383.6 311.0"/><path d="M363.7 320.0L393.7 309.6"/><path d="M341.6 327.5L358.1 321.7"/><path d="M348.9 331.6L369.8 328.4"/><path d="M360.1 331.4L388.0 328.1"/><path d="M359.5 336.2L386.9 335.8"/><path d="M366.3 341.1L398.0 343.6"/><path d="M364.7 346.1L395.4 351.8"/><path d="M370.7 345.9L405.1 351.4"/><path d="M385.2 346.5L428.4 352.4"/><path d="M392.7 346.1L440.5 351.8"/><path d="M391.6 358.8L438.8 372.3"/><path d="M405.1 265.5L364.1 203.9"/><path d="M415.7 276.1L381.2 221.0"/><path d="M425.2 279.8L396.5 227.0"/><path d="M467.3 279.6L464.4 226.7"/><path d="M437.3 283.7L416.0 233.2"/><path d="M467.9 285.7L465.4 236.5"/><path d="M429.5 286.6L403.5 237.9"/><path d="M437.3 288.4L416.0 240.9"/><path d="M443.5 288.1L426.0 240.4"/><path d="M440.4 291.8L421.0 246.3"/><path d="M449.5 289.6L435.7 242.8"/><path d="M439.3 298.4L419.3 257.0"/><path d="M464.4 290.5L459.7 244.2"/><path d="M373.0 312.1L312.4 279.1"/><path d="M436.8 304.6L415.3 267.0"/><path d="M437.3 307.7L416.0 272.0"/><path d="M426.2 311.9L398.2 278.8"/><path d="M459.4 317.6L451.6 287.9"/><path d="M432.4 321.0L408.2 293.4"/><path d="M436.7 325.8L415.0 301.1"/><path d="M446.4 327.7L430.7 304.2"/><path d="M423.5 331.0L393.7 309.6"/><path d="M423.8 337.5L394.3 320.1"/><path d="M436.8 337.5L415.3 320.1"/><path d="M414.6 342.7L379.5 328.4"/><path d="M419.9 342.5L388.0 328.1"/><path d="M413.5 347.5L377.6 336.2"/><path d="M419.2 347.3L386.9 335.8"/><path d="M422.7 351.5L392.5 342.6"/><path d="M426.1 352.1L398.0 343.6"/><path d="M470.4 349.4L469.4 339.3"/><path d="M430.5 356.9L405.1 351.4"/><path d="M445.0 357.6L428.4 352.4"/><path d="M452.5 357.2L440.5 351.8"/><path d="M423.6 365.8L394.0 365.6"/><path d="M453.2 363.7L441.6 362.3"/><path d="M458.7 364.7L450.6 363.9"/><path d="M451.4 369.9L438.8 372.3"/><path d="M439.7 373.4L419.9 378.0"/><path d="M383.7 281.8L388.6 214.7"/><path d="M379.1 285.7L381.2 221.0"/><path d="M430.7 289.2L464.4 226.7"/><path d="M400.7 293.2L416.0 233.2"/><path d="M388.2 296.6L395.8 238.6"/><path d="M400.7 298.0L416.0 240.9"/><path d="M403.8 301.4L421.0 246.3"/><path d="M417.8 299.4L443.5 243.2"/><path d="M400.3 305.8L415.3 253.5"/><path d="M402.8 308.0L419.3 257.0"/><path d="M413.4 308.2L436.4 257.4"/><path d="M438.9 301.5L477.5 246.6"/><path d="M336.9 315.7L313.1 269.4"/><path d="M336.5 321.7L312.4 279.1"/><path d="M400.7 317.3L416.0 272.0"/><path d="M404.9 321.3L422.7 278.4"/><path d="M400.5 326.0L415.6 286.1"/><path d="M346.5 339.2L328.5 307.3"/><path d="M352.5 339.6L338.2 308.0"/><path d="M365.7 343.6L359.5 314.4"/><path d="M386.9 340.6L393.7 309.6"/><path d="M364.8 348.1L358.1 321.7"/><path d="M372.1 352.3L369.8 328.4"/><path d="M376.9 357.1L377.6 336.2"/><path d="M382.7 356.9L386.9 335.8"/><path d="M389.6 361.7L398.0 343.6"/><path d="M433.8 359.0L469.4 339.3"/><path d="M394.0 366.5L405.1 351.4"/><path d="M415.9 366.8L440.5 351.8"/><path d="M387.1 375.3L394.0 365.6"/><path d="M416.6 373.3L441.6 362.3"/><path d="M403.1 383.0L419.9 378.0"/><path d="M414.4 347.0L408.2 293.4"/><path d="M418.6 351.8L415.0 301.1"/><path d="M428.4 353.7L430.7 304.2"/><path d="M401.9 368.5L388.0 328.1"/><path d="M395.5 373.6L377.6 336.2"/><path d="M401.2 373.3L386.9 335.8"/><path d="M408.1 378.1L398.0 343.6"/><path d="M452.4 375.5L469.4 339.3"/><path d="M412.5 383.0L405.1 351.4"/><path d="M389.8 388.2L368.4 359.9"/><path d="M405.6 391.8L394.0 365.6"/><path d="M435.1 389.7L441.6 362.3"/><path d="M433.4 395.9L438.8 372.3"/><path d="M421.7 399.5L419.9 378.0"/><path d="M352.6 370.6L375.8 391.2"/><path d="M406.1 418.0L424.6 434.5"/><path d="M454.0 392.0L472.0 366.0"/><path d="M484.8 293.1L492.6 248.5"/><path d="M464.8 344.4L472.0 366.0"/><path d="M337.9 314.1L314.7 336.9"/><path d="M375.8 347.8L375.8 391.2"/><path d="M435.4 386.9L424.6 434.5"/><path d="M320.8 300.7L314.7 336.9"/><path d="M464.9 227.3L492.6 248.5"/></g>
<g stroke="rgb(18,30,22)"><path d="M330.8 241.7L339.5 227.5"/><path d="M330.8 241.7L343.5 227.3"/><path d="M330.8 241.7L352.8 231.4"/><path d="M330.8 241.7L363.2 235.2"/><path d="M330.8 241.7L378.8 231.9"/><path d="M330.8 241.7L355.5 240.5"/><path d="M330.8 241.7L370.7 242.1"/><path d="M330.8 241.7L373.6 242.3"/><path d="M330.8 241.7L364.4 247.5"/><path d="M330.8 241.7L367.5 248.0"/><path d="M330.8 241.7L370.9 247.7"/><path d="M330.8 241.7L324.1 252.2"/><path d="M330.8 241.7L323.8 255.9"/><path d="M330.8 241.7L358.7 251.4"/><path d="M330.8 241.7L360.2 261.3"/><path d="M330.8 241.7L368.8 265.4"/><path d="M330.8 241.7L329.9 266.6"/><path d="M330.8 241.7L333.6 266.9"/><path d="M330.8 241.7L345.4 268.8"/><path d="M330.8 241.7L350.9 268.0"/><path d="M330.8 241.7L362.9 271.5"/><path d="M330.8 241.7L345.6 274.6"/><path d="M330.8 241.7L348.6 277.6"/><path d="M330.8 241.7L352.1 277.5"/><path d="M330.8 241.7L356.3 280.4"/><path d="M330.8 241.7L362.9 280.5"/><path d="M330.8 241.7L359.0 283.4"/><path d="M330.8 241.7L372.5 283.5"/><path d="M330.8 241.7L371.8 291.3"/><path d="M330.8 241.7L350.3 293.9"/><path d="M492.6 248.5L443.8 231.6"/><path d="M492.6 248.5L460.1 231.7"/><path d="M492.6 248.5L463.5 239.4"/><path d="M492.6 248.5L479.1 236.1"/><path d="M492.6 248.5L481.9 240.2"/><path d="M492.6 248.5L482.3 243.9"/><path d="M492.6 248.5L458.7 244.5"/><path d="M492.6 248.5L463.5 245.6"/><path d="M492.6 248.5L467.3 245.4"/><path d="M492.6 248.5L465.4 247.7"/><path d="M492.6 248.5L471.0 246.3"/><path d="M492.6 248.5L468.6 248.7"/><path d="M492.6 248.5L475.4 249.3"/><path d="M492.6 248.5L476.5 252.1"/><path d="M492.6 248.5L463.2 250.4"/><path d="M492.6 248.5L467.8 252.3"/><path d="M492.6 248.5L480.1 246.9"/><path d="M492.6 248.5L483.6 246.9"/><path d="M492.6 248.5L486.9 247.8"/><path d="M492.6 248.5L459.0 255.6"/><path d="M492.6 248.5L463.2 255.5"/><path d="M492.6 248.5L456.7 258.0"/><path d="M492.6 248.5L466.0 259.9"/><path d="M492.6 248.5L477.0 263.5"/><path d="M492.6 248.5L455.0 263.7"/><path d="M492.6 248.5L457.2 263.6"/><path d="M492.6 248.5L460.5 265.6"/><path d="M492.6 248.5L469.1 269.7"/><path d="M492.6 248.5L433.9 271.1"/><path d="M492.6 248.5L445.7 273.0"/><path d="M492.6 248.5L455.0 271.7"/><path d="M492.6 248.5L451.1 275.1"/><path d="M492.6 248.5L455.2 275.7"/><path d="M492.6 248.5L449.6 278.9"/><path d="M492.6 248.5L452.9 278.7"/><path d="M492.6 248.5L454.6 284.3"/><path d="M492.6 248.5L456.7 284.6"/><path d="M492.6 248.5L463.2 284.7"/><path d="M492.6 248.5L483.8 283.0"/><path d="M492.6 248.5L455.7 287.8"/><path d="M492.6 248.5L459.3 287.6"/><path d="M492.6 248.5L468.2 288.0"/><path d="M492.6 248.5L455.1 293.0"/><path d="M492.6 248.5L460.3 291.7"/><path d="M492.6 248.5L466.6 291.4"/><path d="M492.6 248.5L473.2 291.7"/><path d="M492.6 248.5L476.6 292.4"/><path d="M314.7 336.9L329.5 286.6"/><path d="M314.7 336.9L349.8 286.5"/><path d="M314.7 336.9L342.8 290.5"/><path d="M314.7 336.9L340.0 292.9"/><path d="M314.7 336.9L345.8 295.1"/><path d="M314.7 336.9L353.2 294.2"/><path d="M314.7 336.9L372.0 298.7"/><path d="M314.7 336.9L345.5 299.5"/><path d="M314.7 336.9L353.2 300.4"/><path d="M314.7 336.9L357.0 300.2"/><path d="M314.7 336.9L363.6 301.3"/><path d="M314.7 336.9L352.9 305.2"/><path d="M314.7 336.9L357.5 307.1"/><path d="M314.7 336.9L360.9 306.7"/><path d="M314.7 336.9L369.8 301.7"/><path d="M314.7 336.9L314.1 311.2"/><path d="M314.7 336.9L313.8 314.9"/><path d="M314.7 336.9L352.9 310.3"/><path d="M314.7 336.9L353.0 317.6"/><path d="M314.7 336.9L352.8 323.3"/><path d="M314.7 336.9L319.9 325.7"/><path d="M314.7 336.9L323.6 325.9"/><path d="M314.7 336.9L331.7 328.3"/><path d="M314.7 336.9L335.4 327.8"/><path d="M314.7 336.9L340.9 327.1"/><path d="M314.7 336.9L344.7 326.5"/><path d="M314.7 336.9L327.2 331.5"/><path d="M314.7 336.9L331.2 331.1"/><path d="M314.7 336.9L335.6 333.7"/><path d="M314.7 336.9L342.6 333.6"/><path d="M314.7 336.9L331.2 336.9"/><path d="M314.7 336.9L335.2 336.6"/><path d="M314.7 336.9L342.1 336.5"/><path d="M314.7 336.9L346.4 339.4"/><path d="M314.7 336.9L345.4 342.6"/><path d="M314.7 336.9L349.1 342.4"/><path d="M314.7 336.9L357.9 342.8"/><path d="M314.7 336.9L362.5 342.6"/><path d="M314.7 336.9L361.9 350.4"/><path d="M314.7 336.9L340.3 352.9"/><path d="M472.0 366.0L427.0 304.6"/><path d="M472.0 366.0L431.0 304.4"/><path d="M472.0 366.0L447.4 304.5"/><path d="M472.0 366.0L437.5 310.9"/><path d="M472.0 366.0L443.3 313.2"/><path d="M472.0 366.0L450.7 312.2"/><path d="M472.0 366.0L466.3 308.9"/><path d="M472.0 366.0L469.1 313.1"/><path d="M472.0 366.0L450.7 315.5"/><path d="M472.0 366.0L469.5 316.8"/><path d="M472.0 366.0L446.0 317.3"/><path d="M472.0 366.0L450.7 318.5"/><path d="M472.0 366.0L454.5 318.3"/><path d="M472.0 366.0L452.6 320.5"/><path d="M472.0 366.0L458.2 319.2"/><path d="M472.0 366.0L452.0 324.6"/><path d="M472.0 366.0L467.3 319.7"/><path d="M472.0 366.0L411.4 333.0"/><path d="M472.0 366.0L446.2 328.5"/><path d="M472.0 366.0L450.5 328.4"/><path d="M472.0 366.0L450.7 330.3"/><path d="M472.0 366.0L444.0 332.9"/><path d="M472.0 366.0L464.2 336.3"/><path d="M472.0 366.0L442.2 336.6"/><path d="M472.0 366.0L447.8 338.4"/><path d="M472.0 366.0L450.3 341.3"/><path d="M472.0 366.0L456.3 342.5"/><path d="M472.0 366.0L442.2 344.6"/><path d="M472.0 366.0L442.5 348.6"/><path d="M472.0 366.0L447.6 348.9"/><path d="M472.0 366.0L450.5 348.6"/><path d="M472.0 366.0L436.8 351.7"/><path d="M472.0 366.0L440.1 351.6"/><path d="M472.0 366.0L436.1 354.7"/><path d="M472.0 366.0L439.7 354.5"/><path d="M472.0 366.0L432.9 357.6"/><path d="M472.0 366.0L441.8 357.1"/><path d="M472.0 366.0L443.9 357.5"/><path d="M472.0 366.0L471.0 355.9"/><path d="M472.0 366.0L446.6 360.5"/><path d="M472.0 366.0L455.4 360.8"/><path d="M472.0 366.0L460.0 360.6"/><path d="M472.0 366.0L442.4 365.8"/><path d="M472.0 366.0L447.5 364.6"/><path d="M472.0 366.0L460.4 364.6"/><path d="M472.0 366.0L463.9 365.2"/><path d="M472.0 366.0L459.4 368.4"/><path d="M472.0 366.0L452.2 370.6"/><path d="M472.0 366.0L437.9 371.0"/><path d="M375.8 391.2L367.4 320.2"/><path d="M375.8 391.2L387.7 320.1"/><path d="M375.8 391.2L380.7 324.1"/><path d="M375.8 391.2L377.9 326.5"/><path d="M375.8 391.2L391.1 327.9"/><path d="M375.8 391.2L406.7 324.5"/><path d="M375.8 391.2L409.5 328.7"/><path d="M375.8 391.2L391.1 331.2"/><path d="M375.8 391.2L383.4 333.2"/><path d="M375.8 391.2L391.1 334.1"/><path d="M375.8 391.2L393.0 336.1"/><path d="M375.8 391.2L401.5 335.0"/><path d="M375.8 391.2L396.2 337.1"/><path d="M375.8 391.2L390.8 338.9"/><path d="M375.8 391.2L392.3 340.2"/><path d="M375.8 391.2L395.4 340.7"/><path d="M375.8 391.2L398.8 340.4"/><path d="M375.8 391.2L414.4 336.3"/><path d="M375.8 391.2L352.0 344.9"/><path d="M375.8 391.2L351.7 348.6"/><path d="M375.8 391.2L391.1 345.9"/><path d="M375.8 391.2L393.6 348.3"/><path d="M375.8 391.2L390.9 351.3"/><path d="M375.8 391.2L382.6 352.2"/><path d="M375.8 391.2L357.8 359.3"/><path d="M375.8 391.2L361.5 359.6"/><path d="M375.8 391.2L369.6 362.0"/><path d="M375.8 391.2L373.3 361.5"/><path d="M375.8 391.2L382.6 360.2"/><path d="M375.8 391.2L388.0 364.5"/><path d="M375.8 391.2L365.1 365.2"/><path d="M375.8 391.2L369.1 364.8"/><path d="M375.8 391.2L373.5 367.3"/><path d="M375.8 391.2L369.1 370.6"/><path d="M375.8 391.2L373.1 370.3"/><path d="M375.8 391.2L376.5 370.3"/><path d="M375.8 391.2L380.0 370.1"/><path d="M375.8 391.2L384.2 373.1"/><path d="M375.8 391.2L411.4 371.5"/><path d="M375.8 391.2L386.9 376.1"/><path d="M375.8 391.2L400.4 376.2"/><path d="M375.8 391.2L382.7 381.5"/><path d="M375.8 391.2L387.8 380.2"/><path d="M375.8 391.2L400.8 380.2"/><path d="M375.8 391.2L392.6 386.2"/><path d="M375.8 391.2L378.2 386.6"/><path d="M424.6 434.5L418.4 380.9"/><path d="M424.6 434.5L421.0 383.8"/><path d="M424.6 434.5L426.9 385.0"/><path d="M424.6 434.5L418.3 391.4"/><path d="M424.6 434.5L410.7 394.1"/><path d="M424.6 434.5L403.3 397.1"/><path d="M424.6 434.5L406.7 397.1"/><path d="M424.6 434.5L410.3 397.0"/><path d="M424.6 434.5L403.5 400.0"/><path d="M424.6 434.5L414.5 400.0"/><path d="M424.6 434.5L441.6 398.3"/><path d="M424.6 434.5L417.2 402.9"/><path d="M424.6 434.5L403.2 406.2"/><path d="M424.6 434.5L413.0 408.3"/><path d="M424.6 434.5L418.1 407.1"/><path d="M424.6 434.5L431.1 407.1"/><path d="M424.6 434.5L430.0 410.9"/><path d="M424.6 434.5L422.8 413.0"/><path d="M424.6 434.5L408.5 413.4"/><path d="M314.7 336.9L337.9 357.5"/><path d="M375.8 391.2L394.3 407.7"/><path d="M424.6 434.5L442.6 408.5"/><path d="M472.0 366.0L479.8 321.4"/><path d="M492.6 248.5L477.6 271.6"/><path d="M330.8 241.7L347.9 255.1"/><path d="M330.8 241.7L324.7 277.9"/></g>
<g stroke="rgb(42,100,39)"><path d="M339.5 227.5L345.0 218.6"/><path d="M363.2 235.2L383.6 231.0"/><path d="M378.8 231.9L409.0 225.6"/><path d="M367.5 248.0L390.7 252.1"/><path d="M358.7 251.4L376.3 257.6"/><path d="M345.4 268.8L354.5 285.9"/><path d="M350.3 293.9L362.7 326.9"/><path d="M460.1 231.7L439.7 221.0"/><path d="M463.5 239.4L445.1 233.6"/><path d="M479.1 236.1L470.5 228.2"/><path d="M468.6 248.7L453.5 248.7"/><path d="M475.4 249.3L464.5 249.8"/><path d="M476.5 252.1L466.3 254.4"/><path d="M467.8 252.3L452.2 254.6"/><path d="M459.0 255.6L437.8 260.2"/><path d="M455.0 263.7L431.3 273.3"/><path d="M445.7 273.0L416.0 288.5"/><path d="M451.1 275.1L424.8 291.8"/><path d="M460.3 291.7L439.8 319.1"/><path d="M329.5 286.6L338.9 254.8"/><path d="M349.8 286.5L372.1 254.6"/><path d="M353.2 294.2L377.5 267.2"/><path d="M357.5 307.1L384.6 288.2"/><path d="M335.4 327.8L348.4 322.1"/><path d="M327.2 331.5L335.2 328.1"/><path d="M331.2 336.9L341.6 336.9"/><path d="M335.2 336.6L348.1 336.5"/><path d="M340.3 352.9L356.6 363.1"/><path d="M427.0 304.6L398.7 265.8"/><path d="M447.4 304.5L431.8 265.7"/><path d="M450.7 312.2L437.3 278.3"/><path d="M466.3 308.9L462.7 272.9"/><path d="M446.2 328.5L430.0 304.8"/><path d="M442.2 336.6L423.5 317.9"/><path d="M447.6 348.9L432.3 338.1"/><path d="M432.9 357.6L408.2 352.2"/><path d="M447.5 364.6L432.0 363.7"/><path d="M437.9 371.0L416.3 374.1"/><path d="M367.4 320.2L362.1 275.4"/><path d="M387.7 320.1L395.3 275.3"/><path d="M391.1 327.9L400.7 287.8"/><path d="M406.7 324.5L426.1 282.5"/><path d="M396.2 337.1L409.1 303.0"/><path d="M395.4 340.7L407.8 308.9"/><path d="M382.6 352.2L386.9 327.5"/><path d="M373.3 361.5L371.6 342.7"/><path d="M388.0 364.5L395.7 347.7"/><path d="M365.1 365.2L358.4 348.7"/><path d="M369.1 370.6L364.8 357.5"/><path d="M373.1 370.3L371.3 357.1"/><path d="M387.8 380.2L395.5 373.3"/><path d="M378.2 386.6L379.8 383.7"/><path d="M418.3 391.4L414.2 364.1"/><path d="M403.3 397.1L389.9 373.6"/><path d="M403.5 400.0L390.2 378.3"/><path d="M418.1 407.1L414.0 389.7"/><path d="M408.5 413.4L398.3 400.2"/><path d="M477.6 271.6L468.0 286.1"/><path d="M347.9 255.1L358.7 263.5"/></g>
<g stroke="rgb(22,54,33)"><path d="M343.5 227.3L351.4 218.3"/><path d="M352.8 231.4L366.6 225.0"/><path d="M355.5 240.5L371.1 239.8"/><path d="M370.7 242.1L395.8 242.4"/><path d="M373.6 242.3L400.7 242.6"/><path d="M364.4 247.5L385.7 251.2"/><path d="M370.9 247.7L396.3 251.4"/><path d="M324.1 252.2L319.8 258.9"/><path d="M323.8 255.9L319.4 264.9"/><path d="M360.2 261.3L378.8 273.8"/><path d="M368.8 265.4L392.7 280.4"/><path d="M329.9 266.6L329.4 282.4"/><path d="M333.6 266.9L335.4 282.8"/><path d="M350.9 268.0L363.5 284.7"/><path d="M362.9 271.5L383.2 290.3"/><path d="M345.6 274.6L355.0 295.5"/><path d="M348.6 277.6L359.8 300.3"/><path d="M352.1 277.5L365.6 300.0"/><path d="M356.3 280.4L372.5 304.9"/><path d="M362.9 280.5L383.2 305.0"/><path d="M359.0 283.4L376.9 309.7"/><path d="M372.5 283.5L398.8 310.0"/><path d="M371.8 291.3L397.8 322.7"/><path d="M443.8 231.6L412.9 220.8"/><path d="M481.9 240.2L475.1 235.0"/><path d="M482.3 243.9L475.7 241.1"/><path d="M458.7 244.5L437.4 241.9"/><path d="M463.5 245.6L445.1 243.8"/><path d="M467.3 245.4L451.3 243.5"/><path d="M465.4 247.7L448.2 247.1"/><path d="M471.0 246.3L457.3 245.0"/><path d="M463.2 250.4L444.7 251.6"/><path d="M480.1 246.9L472.2 245.8"/><path d="M483.6 246.9L478.0 245.8"/><path d="M486.9 247.8L483.2 247.3"/><path d="M463.2 255.5L444.7 260.0"/><path d="M456.7 258.0L434.1 263.9"/><path d="M466.0 259.9L449.3 267.0"/><path d="M477.0 263.5L467.2 272.9"/><path d="M457.2 263.6L434.8 273.2"/><path d="M460.5 265.6L440.3 276.3"/><path d="M469.1 269.7L454.2 283.0"/><path d="M433.9 271.1L396.9 285.4"/><path d="M455.0 271.7L431.3 286.4"/><path d="M455.2 275.7L431.7 292.9"/><path d="M449.6 278.9L422.5 298.0"/><path d="M452.9 278.7L427.7 297.9"/><path d="M454.6 284.3L430.5 306.8"/><path d="M456.7 284.6L433.9 307.5"/><path d="M463.2 284.7L444.7 307.6"/><path d="M483.8 283.0L478.2 304.8"/><path d="M455.7 287.8L432.3 312.5"/><path d="M459.3 287.6L438.3 312.3"/><path d="M468.2 288.0L452.8 312.9"/><path d="M455.1 293.0L431.5 321.1"/><path d="M466.6 291.4L450.1 318.4"/><path d="M473.2 291.7L461.0 319.1"/><path d="M476.6 292.4L466.6 320.0"/><path d="M342.8 290.5L360.5 261.1"/><path d="M340.0 292.9L355.9 265.0"/><path d="M345.8 295.1L365.4 268.8"/><path d="M372.0 298.7L408.1 274.7"/><path d="M345.5 299.5L365.0 276.0"/><path d="M353.2 300.4L377.5 277.4"/><path d="M357.0 300.2L383.7 277.1"/><path d="M363.6 301.3L394.6 278.8"/><path d="M352.9 305.2L377.1 285.2"/><path d="M360.9 306.7L390.2 287.6"/><path d="M369.8 301.7L404.6 279.4"/><path d="M314.1 311.2L313.7 295.0"/><path d="M313.8 314.9L313.3 301.1"/><path d="M352.9 310.3L377.1 293.6"/><path d="M353.0 317.6L377.3 305.4"/><path d="M352.8 323.3L376.9 314.7"/><path d="M319.9 325.7L323.3 318.5"/><path d="M323.6 325.9L329.3 319.0"/><path d="M331.7 328.3L342.5 322.9"/><path d="M340.9 327.1L357.4 320.8"/><path d="M344.7 326.5L363.7 320.0"/><path d="M331.2 331.1L341.6 327.5"/><path d="M335.6 333.7L348.9 331.6"/><path d="M342.6 333.6L360.1 331.4"/><path d="M342.1 336.5L359.5 336.2"/><path d="M346.4 339.4L366.3 341.1"/><path d="M345.4 342.6L364.7 346.1"/><path d="M349.1 342.4L370.7 345.9"/><path d="M357.9 342.8L385.2 346.5"/><path d="M362.5 342.6L392.7 346.1"/><path d="M361.9 350.4L391.6 358.8"/><path d="M431.0 304.4L405.1 265.5"/><path d="M437.5 310.9L415.7 276.1"/><path d="M443.3 313.2L425.2 279.8"/><path d="M469.1 313.1L467.3 279.6"/><path d="M450.7 315.5L437.3 283.7"/><path d="M469.5 316.8L467.9 285.7"/><path d="M446.0 317.3L429.5 286.6"/><path d="M450.7 318.5L437.3 288.4"/><path d="M454.5 318.3L443.5 288.1"/><path d="M452.6 320.5L440.4 291.8"/><path d="M458.2 319.2L449.5 289.6"/><path d="M452.0 324.6L439.3 298.4"/><path d="M467.3 319.7L464.4 290.5"/><path d="M411.4 333.0L373.0 312.1"/><path d="M450.5 328.4L436.8 304.6"/><path d="M450.7 330.3L437.3 307.7"/><path d="M444.0 332.9L426.2 311.9"/><path d="M464.2 336.3L459.4 317.6"/><path d="M447.8 338.4L432.4 321.0"/><path d="M450.3 341.3L436.7 325.8"/><path d="M456.3 342.5L446.4 327.7"/><path d="M442.2 344.6L423.5 331.0"/><path d="M442.5 348.6L423.8 337.5"/><path d="M450.5 348.6L436.8 337.5"/><path d="M436.8 351.7L414.6 342.7"/><path d="M440.1 351.6L419.9 342.5"/><path d="M436.1 354.7L413.5 347.5"/><path d="M439.7 354.5L419.2 347.3"/><path d="M441.8 357.1L422.7 351.5"/><path d="M443.9 357.5L426.1 352.1"/><path d="M471.0 355.9L470.4 349.4"/><path d="M446.6 360.5L430.5 356.9"/><path d="M455.4 360.8L445.0 357.6"/><path d="M460.0 360.6L452.5 357.2"/><path d="M442.4 365.8L423.6 365.8"/><path d="M460.4 364.6L453.2 363.7"/><path d="M463.9 365.2L458.7 364.7"/><path d="M459.4 368.4L451.4 369.9"/><path d="M452.2 370.6L439.7 373.4"/><path d="M380.7 324.1L383.7 281.8"/><path d="M377.9 326.5L379.1 285.7"/><path d="M409.5 328.7L430.7 289.2"/><path d="M391.1 331.2L400.7 293.2"/><path d="M383.4 333.2L388.2 296.6"/><path d="M391.1 334.1L400.7 298.0"/><path d="M393.0 336.1L403.8 301.4"/><path d="M401.5 335.0L417.8 299.4"/><path d="M390.8 338.9L400.3 305.8"/><path d="M392.3 340.2L402.8 308.0"/><path d="M398.8 340.4L413.4 308.2"/><path d="M414.4 336.3L438.9 301.5"/><path d="M352.0 344.9L336.9 315.7"/><path d="M351.7 348.6L336.5 321.7"/><path d="M391.1 345.9L400.7 317.3"/><path d="M393.6 348.3L404.9 321.3"/><path d="M390.9 351.3L400.5 326.0"/><path d="M357.8 359.3L346.5 339.2"/><path d="M361.5 359.6L352.5 339.6"/><path d="M369.6 362.0L365.7 343.6"/><path d="M382.6 360.2L386.9 340.6"/><path d="M369.1 364.8L364.8 348.1"/><path d="M373.5 367.3L372.1 352.3"/><path d="M376.5 370.3L376.9 357.1"/><path d="M380.0 370.1L382.7 356.9"/><path d="M384.2 373.1L389.6 361.7"/><path d="M411.4 371.5L433.8 359.0"/><path d="M386.9 376.1L394.0 366.5"/><path d="M400.4 376.2L415.9 366.8"/><path d="M382.7 381.5L387.1 375.3"/><path d="M400.8 380.2L416.6 373.3"/><path d="M392.6 386.2L403.1 383.0"/><path d="M418.4 380.9L414.4 347.0"/><path d="M421.0 383.8L418.6 351.8"/><path d="M426.9 385.0L428.4 353.7"/><path d="M410.7 394.1L401.9 368.5"/><path d="M406.7 397.1L395.5 373.6"/><path d="M410.3 397.0L401.2 373.3"/><path d="M414.5 400.0L408.1 378.1"/><path d="M441.6 398.3L452.4 375.5"/><path d="M417.2 402.9L412.5 383.0"/><path d="M403.2 406.2L389.8 388.2"/><path d="M413.0 408.3L405.6 391.8"/><path d="M431.1 407.1L435.1 389.7"/><path d="M430.0 410.9L433.4 395.9"/><path d="M422.8 413.0L421.7 399.5"/><path d="M337.9 357.5L352.6 370.6"/><path d="M394.3 407.7L406.1 418.0"/><path d="M442.6 408.5L454.0 392.0"/><path d="M479.8 321.4L484.8 293.1"/><path d="M324.7 277.9L320.8 300.7"/></g>
</g>
<circle cx="353.7" cy="204.4" r="4.30" fill="#70c01e" stroke="#0a2a0a" stroke-width="0.7"/>
<circle cx="364.1" cy="203.9" r="4.30" fill="#121212" stroke="#0a2a0a" stroke-width="0.7"/>
<circle cx="407.2" cy="204.2" r="4.30" fill="#70c01e" stroke="#0a2a0a" stroke-width="0.7"/>
<circle cx="388.6" cy="214.7" r="4.30" fill="#121212" stroke="#0a2a0a" stroke-width="0.7"/>
<circle cx="381.2" cy="221.0" r="4.30" fill="#121212" stroke="#0a2a0a" stroke-width="0.7"/>
<circle cx="396.5" cy="227.0" r="4.30" fill="#121212" stroke="#0a2a0a" stroke-width="0.7"/>
<circle cx="416.0" cy="224.5" r="4.30" fill="#70c01e" stroke="#0a2a0a" stroke-width="0.7"/>
<circle cx="457.0" cy="215.8" r="4.30" fill="#70c01e" stroke="#0a2a0a" stroke-width="0.7"/>
<circle cx="464.4" cy="226.7" r="4.30" fill="#121212" stroke="#0a2a0a" stroke-width="0.7"/>
<circle cx="416.0" cy="233.2" r="4.30" fill="#121212" stroke="#0a2a0a" stroke-width="0.7"/>
<circle cx="465.4" cy="236.5" r="4.30" fill="#121212" stroke="#0a2a0a" stroke-width="0.7"/>
<circle cx="395.8" cy="238.6" r="4.30" fill="#121212" stroke="#0a2a0a" stroke-width="0.7"/>
<circle cx="403.5" cy="237.9" r="4.30" fill="#121212" stroke="#0a2a0a" stroke-width="0.7"/>
<circle cx="416.0" cy="240.9" r="4.30" fill="#121212" stroke="#0a2a0a" stroke-width="0.7"/>
<circle cx="426.0" cy="240.4" r="4.30" fill="#121212" stroke="#0a2a0a" stroke-width="0.7"/>
<circle cx="421.0" cy="246.3" r="4.30" fill="#121212" stroke="#0a2a0a" stroke-width="0.7"/>
<circle cx="435.7" cy="242.8" r="4.30" fill="#121212" stroke="#0a2a0a" stroke-width="0.7"/>
<circle cx="443.5" cy="243.2" r="4.30" fill="#121212" stroke="#0a2a0a" stroke-width="0.7"/>
<circle cx="429.5" cy="248.9" r="4.30" fill="#70c01e" stroke="#0a2a0a" stroke-width="0.7"/>
<circle cx="447.3" cy="250.6" r="4.30" fill="#70c01e" stroke="#0a2a0a" stroke-width="0.7"/>
<circle cx="450.2" cy="258.0" r="4.30" fill="#70c01e" stroke="#0a2a0a" stroke-width="0.7"/>
<circle cx="415.3" cy="253.5" r="4.30" fill="#121212" stroke="#0a2a0a" stroke-width="0.7"/>
<circle cx="419.3" cy="257.0" r="4.30" fill="#121212" stroke="#0a2a0a" stroke-width="0.7"/>
<circle cx="427.4" cy="258.4" r="4.30" fill="#70c01e" stroke="#0a2a0a" stroke-width="0.7"/>
<circle cx="436.4" cy="257.4" r="4.30" fill="#121212" stroke="#0a2a0a" stroke-width="0.7"/>
<circle cx="459.7" cy="244.2" r="4.30" fill="#121212" stroke="#0a2a0a" stroke-width="0.7"/>
<circle cx="469.0" cy="244.2" r="4.30" fill="#121212" stroke="#0a2a0a" stroke-width="0.7"/>
<circle cx="477.5" cy="246.6" r="4.30" fill="#121212" stroke="#0a2a0a" stroke-width="0.7"/>
<circle cx="313.1" cy="269.4" r="4.30" fill="#121212" stroke="#0a2a0a" stroke-width="0.7"/>
<circle cx="312.4" cy="279.1" r="4.30" fill="#121212" stroke="#0a2a0a" stroke-width="0.7"/>
<circle cx="404.2" cy="267.3" r="4.30" fill="#70c01e" stroke="#0a2a0a" stroke-width="0.7"/>
<circle cx="415.3" cy="267.0" r="4.30" fill="#121212" stroke="#0a2a0a" stroke-width="0.7"/>
<circle cx="416.0" cy="272.0" r="4.30" fill="#121212" stroke="#0a2a0a" stroke-width="0.7"/>
<circle cx="398.2" cy="273.4" r="4.30" fill="#121212" stroke="#0a2a0a" stroke-width="0.7"/>
<circle cx="398.2" cy="278.8" r="4.30" fill="#121212" stroke="#0a2a0a" stroke-width="0.7"/>
<circle cx="422.7" cy="278.4" r="4.30" fill="#121212" stroke="#0a2a0a" stroke-width="0.7"/>
<circle cx="415.6" cy="286.1" r="4.30" fill="#121212" stroke="#0a2a0a" stroke-width="0.7"/>
<circle cx="451.6" cy="287.9" r="4.30" fill="#121212" stroke="#0a2a0a" stroke-width="0.7"/>
<circle cx="393.7" cy="288.5" r="4.30" fill="#70c01e" stroke="#0a2a0a" stroke-width="0.7"/>
<circle cx="399.4" cy="288.3" r="4.30" fill="#121212" stroke="#0a2a0a" stroke-width="0.7"/>
<circle cx="408.2" cy="293.4" r="4.30" fill="#121212" stroke="#0a2a0a" stroke-width="0.7"/>
<circle cx="415.0" cy="301.1" r="4.30" fill="#121212" stroke="#0a2a0a" stroke-width="0.7"/>
<circle cx="430.7" cy="304.2" r="4.30" fill="#121212" stroke="#0a2a0a" stroke-width="0.7"/>
<circle cx="328.5" cy="307.3" r="4.30" fill="#121212" stroke="#0a2a0a" stroke-width="0.7"/>
<circle cx="338.2" cy="308.0" r="4.30" fill="#121212" stroke="#0a2a0a" stroke-width="0.7"/>
<circle cx="359.5" cy="314.4" r="4.30" fill="#121212" stroke="#0a2a0a" stroke-width="0.7"/>
<circle cx="369.1" cy="313.0" r="4.30" fill="#70c01e" stroke="#0a2a0a" stroke-width="0.7"/>
<circle cx="383.6" cy="311.0" r="4.30" fill="#121212" stroke="#0a2a0a" stroke-width="0.7"/>
<circle cx="393.7" cy="309.6" r="4.30" fill="#121212" stroke="#0a2a0a" stroke-width="0.7"/>
<circle cx="383.3" cy="318.4" r="4.30" fill="#70c01e" stroke="#0a2a0a" stroke-width="0.7"/>
<circle cx="394.3" cy="320.1" r="4.30" fill="#121212" stroke="#0a2a0a" stroke-width="0.7"/>
<circle cx="407.9" cy="321.0" r="4.30" fill="#70c01e" stroke="#0a2a0a" stroke-width="0.7"/>
<circle cx="415.3" cy="320.1" r="4.30" fill="#121212" stroke="#0a2a0a" stroke-width="0.7"/>
<circle cx="347.7" cy="322.7" r="4.30" fill="#70c01e" stroke="#0a2a0a" stroke-width="0.7"/>
<circle cx="358.1" cy="321.7" r="4.30" fill="#121212" stroke="#0a2a0a" stroke-width="0.7"/>
<circle cx="369.8" cy="328.4" r="4.30" fill="#121212" stroke="#0a2a0a" stroke-width="0.7"/>
<circle cx="379.5" cy="328.4" r="4.30" fill="#121212" stroke="#0a2a0a" stroke-width="0.7"/>
<circle cx="388.0" cy="328.1" r="4.30" fill="#121212" stroke="#0a2a0a" stroke-width="0.7"/>
<circle cx="358.1" cy="336.9" r="4.30" fill="#70c01e" stroke="#0a2a0a" stroke-width="0.7"/>
<circle cx="368.6" cy="336.2" r="4.30" fill="#70c01e" stroke="#0a2a0a" stroke-width="0.7"/>
<circle cx="377.6" cy="336.2" r="4.30" fill="#121212" stroke="#0a2a0a" stroke-width="0.7"/>
<circle cx="386.9" cy="335.8" r="4.30" fill="#121212" stroke="#0a2a0a" stroke-width="0.7"/>
<circle cx="369.1" cy="343.8" r="4.30" fill="#70c01e" stroke="#0a2a0a" stroke-width="0.7"/>
<circle cx="392.5" cy="342.6" r="4.30" fill="#121212" stroke="#0a2a0a" stroke-width="0.7"/>
<circle cx="398.0" cy="343.6" r="4.30" fill="#121212" stroke="#0a2a0a" stroke-width="0.7"/>
<circle cx="415.3" cy="343.8" r="4.30" fill="#121212" stroke="#0a2a0a" stroke-width="0.7"/>
<circle cx="469.4" cy="339.3" r="4.30" fill="#121212" stroke="#0a2a0a" stroke-width="0.7"/>
<circle cx="395.4" cy="351.8" r="4.30" fill="#121212" stroke="#0a2a0a" stroke-width="0.7"/>
<circle cx="405.1" cy="351.4" r="4.30" fill="#121212" stroke="#0a2a0a" stroke-width="0.7"/>
<circle cx="428.4" cy="352.4" r="4.30" fill="#121212" stroke="#0a2a0a" stroke-width="0.7"/>
<circle cx="440.5" cy="351.8" r="4.30" fill="#121212" stroke="#0a2a0a" stroke-width="0.7"/>
<circle cx="368.4" cy="359.9" r="4.30" fill="#121212" stroke="#0a2a0a" stroke-width="0.7"/>
<circle cx="394.0" cy="365.6" r="4.30" fill="#121212" stroke="#0a2a0a" stroke-width="0.7"/>
<circle cx="407.5" cy="362.3" r="4.30" fill="#70c01e" stroke="#0a2a0a" stroke-width="0.7"/>
<circle cx="424.1" cy="361.3" r="4.30" fill="#121212" stroke="#0a2a0a" stroke-width="0.7"/>
<circle cx="441.6" cy="362.3" r="4.30" fill="#121212" stroke="#0a2a0a" stroke-width="0.7"/>
<circle cx="450.6" cy="363.9" r="4.30" fill="#121212" stroke="#0a2a0a" stroke-width="0.7"/>
<circle cx="438.8" cy="372.3" r="4.30" fill="#121212" stroke="#0a2a0a" stroke-width="0.7"/>
<circle cx="419.9" cy="378.0" r="4.30" fill="#121212" stroke="#0a2a0a" stroke-width="0.7"/>
<circle cx="382.2" cy="379.1" r="4.30" fill="#70c01e" stroke="#0a2a0a" stroke-width="0.7"/>
<circle cx="419.6" cy="192.8" r="8.60" fill="#70c01e" stroke="#0a2a0a" stroke-width="0.8"/>
<circle cx="330.8" cy="241.7" r="8.60" fill="#121212" stroke="#0a2a0a" stroke-width="0.8"/>
<circle cx="492.6" cy="248.5" r="8.60" fill="#121212" stroke="#0a2a0a" stroke-width="0.8"/>
<circle cx="375.8" cy="276.9" r="8.60" fill="#70c01e" stroke="#0a2a0a" stroke-width="0.8"/>
<circle cx="453.0" cy="309.2" r="8.60" fill="#70c01e" stroke="#0a2a0a" stroke-width="0.8"/>
<circle cx="314.7" cy="336.9" r="8.60" fill="#121212" stroke="#0a2a0a" stroke-width="0.8"/>
<circle cx="472.0" cy="366.0" r="8.60" fill="#121212" stroke="#0a2a0a" stroke-width="0.8"/>
<circle cx="375.8" cy="391.2" r="8.60" fill="#121212" stroke="#0a2a0a" stroke-width="0.8"/>
<circle cx="424.6" cy="434.5" r="8.60" fill="#121212" stroke="#0a2a0a" stroke-width="0.8"/>
</g>
<g id="net3">
<g fill="none" stroke-width="0.6" stroke-opacity="0.78">
<g stroke="rgb(238,146,108)"><path d="M660.9 192.8L595.0 204.4"/><path d="M660.9 192.8L639.8 197.0"/><path d="M660.9 192.8L648.5 204.2"/><path d="M660.9 192.8L629.9 214.7"/><path d="M660.9 192.8L637.8 227.0"/><path d="M660.9 192.8L698.3 215.8"/><path d="M660.9 192.8L677.9 205.7"/><path d="M660.9 192.8L678.3 209.4"/><path d="M660.9 192.8L637.1 238.6"/><path d="M660.9 192.8L661.4 213.1"/><path d="M660.9 192.8L684.8 243.2"/><path d="M660.9 192.8L670.8 248.9"/><path d="M660.9 192.8L660.6 257.0"/><path d="M660.9 192.8L668.7 258.4"/><path d="M660.9 192.8L677.7 257.4"/><path d="M660.9 192.8L679.7 212.3"/><path d="M660.9 192.8L682.9 213.2"/><path d="M660.9 192.8L554.4 269.4"/><path d="M660.9 192.8L553.7 279.1"/><path d="M660.9 192.8L652.8 225.5"/><path d="M660.9 192.8L662.1 225.3"/><path d="M660.9 192.8L656.9 286.1"/><path d="M660.9 192.8L579.5 308.0"/><path d="M660.9 192.8L600.8 314.4"/><path d="M660.9 192.8L624.9 311.0"/><path d="M660.9 192.8L624.6 318.4"/><path d="M660.9 192.8L651.3 241.2"/><path d="M660.9 192.8L656.5 241.5"/><path d="M660.9 192.8L589.0 322.7"/><path d="M660.9 192.8L611.1 328.4"/><path d="M660.9 192.8L648.9 244.2"/><path d="M660.9 192.8L599.4 336.9"/><path d="M660.9 192.8L609.9 336.2"/><path d="M660.9 192.8L628.2 335.8"/><path d="M660.9 192.8L610.4 343.8"/><path d="M660.9 192.8L656.6 343.8"/><path d="M660.9 192.8L655.4 253.1"/><path d="M660.9 192.8L668.8 253.2"/><path d="M660.9 192.8L651.2 258.5"/><path d="M660.9 192.8L656.3 257.2"/><path d="M572.1 241.7L595.0 204.4"/><path d="M572.1 241.7L584.8 227.3"/><path d="M572.1 241.7L629.9 214.7"/><path d="M572.1 241.7L657.3 224.5"/><path d="M572.1 241.7L698.3 215.8"/><path d="M572.1 241.7L637.1 238.6"/><path d="M572.1 241.7L612.0 242.1"/><path d="M572.1 241.7L684.8 243.2"/><path d="M572.1 241.7L660.6 257.0"/><path d="M572.1 241.7L668.7 258.4"/><path d="M572.1 241.7L677.7 257.4"/><path d="M572.1 241.7L554.4 269.4"/><path d="M572.1 241.7L553.7 279.1"/><path d="M572.1 241.7L600.0 251.4"/><path d="M572.1 241.7L601.5 261.3"/><path d="M572.1 241.7L610.1 265.4"/><path d="M572.1 241.7L569.8 307.3"/><path d="M572.1 241.7L579.5 308.0"/><path d="M572.1 241.7L610.4 313.0"/><path d="M572.1 241.7L624.9 311.0"/><path d="M572.1 241.7L604.2 271.5"/><path d="M572.1 241.7L611.1 328.4"/><path d="M572.1 241.7L589.9 277.6"/><path d="M572.1 241.7L628.2 335.8"/><path d="M572.1 241.7L597.6 280.4"/><path d="M572.1 241.7L656.6 343.8"/><path d="M572.1 241.7L600.3 283.4"/><path d="M572.1 241.7L613.8 283.5"/><path d="M572.1 241.7L613.1 291.3"/><path d="M572.1 241.7L623.5 379.1"/><path d="M681.0 221.0L648.5 204.2"/><path d="M686.4 233.6L657.3 224.5"/><path d="M711.8 228.2L698.3 215.8"/><path d="M678.7 241.9L644.8 237.9"/><path d="M694.8 248.7L670.8 248.9"/><path d="M693.5 254.6L668.7 258.4"/><path d="M638.2 285.4L579.5 308.0"/><path d="M657.3 288.5L610.4 313.0"/><path d="M666.1 291.8L624.6 318.4"/><path d="M686.0 307.6L656.6 343.8"/><path d="M617.1 276.9L595.0 204.4"/><path d="M617.1 276.9L612.7 249.2"/><path d="M617.1 276.9L648.5 204.2"/><path d="M617.1 276.9L629.9 214.7"/><path d="M617.1 276.9L657.3 224.5"/><path d="M617.1 276.9L698.3 215.8"/><path d="M617.1 276.9L632.4 260.3"/><path d="M617.1 276.9L644.8 237.9"/><path d="M617.1 276.9L632.4 263.2"/><path d="M617.1 276.9L634.3 265.3"/><path d="M617.1 276.9L684.8 243.2"/><path d="M617.1 276.9L670.8 248.9"/><path d="M617.1 276.9L660.6 257.0"/><path d="M617.1 276.9L554.4 269.4"/><path d="M617.1 276.9L553.7 279.1"/><path d="M617.1 276.9L627.9 273.3"/><path d="M617.1 276.9L625.6 275.6"/><path d="M617.1 276.9L625.6 277.6"/><path d="M617.1 276.9L656.9 286.1"/><path d="M617.1 276.9L638.0 287.3"/><path d="M617.1 276.9L569.8 307.3"/><path d="M617.1 276.9L579.5 308.0"/><path d="M617.1 276.9L600.8 314.4"/><path d="M617.1 276.9L610.4 313.0"/><path d="M617.1 276.9L624.9 311.0"/><path d="M617.1 276.9L624.6 318.4"/><path d="M617.1 276.9L629.3 293.7"/><path d="M617.1 276.9L589.0 322.7"/><path d="M617.1 276.9L599.4 321.7"/><path d="M617.1 276.9L611.1 328.4"/><path d="M617.1 276.9L621.7 296.4"/><path d="M617.1 276.9L599.4 336.9"/><path d="M617.1 276.9L609.9 336.2"/><path d="M617.1 276.9L628.2 335.8"/><path d="M617.1 276.9L610.4 343.8"/><path d="M617.1 276.9L656.6 343.8"/><path d="M617.1 276.9L614.3 308.4"/><path d="M617.1 276.9L624.0 310.6"/><path d="M617.1 276.9L629.1 309.4"/><path d="M617.1 276.9L635.5 309.0"/><path d="M617.1 276.9L633.9 315.3"/><path d="M617.1 276.9L623.5 379.1"/><path d="M696.8 251.3L698.3 215.8"/><path d="M607.6 284.5L554.4 269.4"/><path d="M607.1 290.5L553.7 279.1"/><path d="M617.1 308.0L569.8 307.3"/><path d="M636.3 312.4L600.8 314.4"/><path d="M642.3 311.6L610.4 313.0"/><path d="M651.3 310.3L624.9 311.0"/><path d="M651.1 314.9L624.6 318.4"/><path d="M653.3 325.7L628.2 335.8"/><path d="M556.0 336.9L595.0 204.4"/><path d="M556.0 336.9L648.5 204.2"/><path d="M556.0 336.9L629.9 214.7"/><path d="M556.0 336.9L581.3 292.9"/><path d="M556.0 336.9L637.8 227.0"/><path d="M556.0 336.9L657.3 224.5"/><path d="M556.0 336.9L613.3 298.7"/><path d="M556.0 336.9L637.1 238.6"/><path d="M556.0 336.9L594.5 300.4"/><path d="M556.0 336.9L598.3 300.2"/><path d="M556.0 336.9L684.8 243.2"/><path d="M556.0 336.9L594.2 305.2"/><path d="M556.0 336.9L668.7 258.4"/><path d="M556.0 336.9L677.7 257.4"/><path d="M556.0 336.9L611.1 301.7"/><path d="M556.0 336.9L554.4 269.4"/><path d="M556.0 336.9L553.7 279.1"/><path d="M556.0 336.9L594.2 310.3"/><path d="M556.0 336.9L656.9 286.1"/><path d="M556.0 336.9L594.1 323.3"/><path d="M556.0 336.9L569.8 307.3"/><path d="M556.0 336.9L579.5 308.0"/><path d="M556.0 336.9L600.8 314.4"/><path d="M556.0 336.9L610.4 313.0"/><path d="M556.0 336.9L624.9 311.0"/><path d="M556.0 336.9L586.0 326.5"/><path d="M556.0 336.9L589.0 322.7"/><path d="M556.0 336.9L599.4 321.7"/><path d="M556.0 336.9L611.1 328.4"/><path d="M556.0 336.9L583.9 333.6"/><path d="M556.0 336.9L599.4 336.9"/><path d="M556.0 336.9L609.9 336.2"/><path d="M556.0 336.9L628.2 335.8"/><path d="M556.0 336.9L587.7 339.4"/><path d="M556.0 336.9L586.7 342.6"/><path d="M556.0 336.9L590.4 342.4"/><path d="M556.0 336.9L599.2 342.8"/><path d="M556.0 336.9L603.8 342.6"/><path d="M556.0 336.9L603.2 350.4"/><path d="M556.0 336.9L623.5 379.1"/><path d="M640.0 265.8L595.0 204.4"/><path d="M673.1 265.7L648.5 204.2"/><path d="M666.5 279.8L637.8 227.0"/><path d="M678.6 278.3L657.3 224.5"/><path d="M704.0 272.9L698.3 215.8"/><path d="M670.8 286.6L644.8 237.9"/><path d="M680.6 298.4L660.6 257.0"/><path d="M614.3 312.1L553.7 279.1"/><path d="M660.5 347.3L628.2 335.8"/><path d="M649.5 352.2L610.4 343.8"/><path d="M657.6 374.1L623.5 379.1"/><path d="M617.1 391.2L595.0 204.4"/><path d="M617.1 391.2L648.5 204.2"/><path d="M617.1 391.2L629.9 214.7"/><path d="M617.1 391.2L619.2 326.5"/><path d="M617.1 391.2L657.3 224.5"/><path d="M617.1 391.2L698.3 215.8"/><path d="M617.1 391.2L650.8 328.7"/><path d="M617.1 391.2L632.4 331.2"/><path d="M617.1 391.2L637.1 238.6"/><path d="M617.1 391.2L632.4 334.1"/><path d="M617.1 391.2L634.3 336.1"/><path d="M617.1 391.2L684.8 243.2"/><path d="M617.1 391.2L670.8 248.9"/><path d="M617.1 391.2L632.1 338.9"/><path d="M617.1 391.2L660.6 257.0"/><path d="M617.1 391.2L668.7 258.4"/><path d="M617.1 391.2L677.7 257.4"/><path d="M617.1 391.2L655.7 336.3"/><path d="M617.1 391.2L554.4 269.4"/><path d="M617.1 391.2L553.7 279.1"/><path d="M617.1 391.2L632.4 345.9"/><path d="M617.1 391.2L634.9 348.3"/><path d="M617.1 391.2L656.9 286.1"/><path d="M617.1 391.2L623.9 352.2"/><path d="M617.1 391.2L569.8 307.3"/><path d="M617.1 391.2L579.5 308.0"/><path d="M617.1 391.2L600.8 314.4"/><path d="M617.1 391.2L610.4 313.0"/><path d="M617.1 391.2L623.9 360.2"/><path d="M617.1 391.2L629.3 364.5"/><path d="M617.1 391.2L589.0 322.7"/><path d="M617.1 391.2L599.4 321.7"/><path d="M617.1 391.2L611.1 328.4"/><path d="M617.1 391.2L599.4 336.9"/><path d="M617.1 391.2L609.9 336.2"/><path d="M617.1 391.2L617.8 370.3"/><path d="M617.1 391.2L628.2 335.8"/><path d="M617.1 391.2L625.5 373.1"/><path d="M617.1 391.2L652.7 371.5"/><path d="M617.1 391.2L628.2 376.1"/><path d="M617.1 391.2L641.7 376.2"/><path d="M617.1 391.2L624.0 381.5"/><path d="M617.1 391.2L629.1 380.2"/><path d="M617.1 391.2L642.1 380.2"/><path d="M617.1 391.2L633.9 386.2"/><path d="M617.1 391.2L623.5 379.1"/><path d="M631.2 373.6L609.9 336.2"/><path d="M642.5 373.3L628.2 335.8"/><path d="M631.5 378.3L610.4 343.8"/><path d="M639.6 400.2L623.5 379.1"/><path d="M556.0 336.9L617.1 391.2"/><path d="M617.1 391.2L635.6 407.7"/><path d="M572.1 241.7L617.1 276.9"/><path d="M617.1 276.9L556.0 336.9"/><path d="M660.9 192.8L617.1 276.9"/><path d="M617.1 276.9L646.4 289.2"/><path d="M617.1 276.9L617.1 391.2"/><path d="M572.1 241.7L556.0 336.9"/><path d="M660.9 192.8L688.6 214.0"/></g>
<g stroke="rgb(165,132,150)"><path d="M639.8 197.0L626.5 199.7"/><path d="M677.9 205.7L688.7 213.8"/><path d="M678.3 209.4L689.3 219.9"/><path d="M661.4 213.1L661.8 226.0"/><path d="M679.7 212.3L691.5 224.7"/><path d="M682.9 213.2L696.8 226.2"/><path d="M652.8 225.5L647.6 246.1"/><path d="M662.1 225.3L662.8 245.9"/><path d="M651.3 241.2L645.2 271.7"/><path d="M656.5 241.5L653.6 272.3"/><path d="M648.9 244.2L641.3 276.7"/><path d="M655.4 253.1L651.9 291.1"/><path d="M668.8 253.2L673.9 291.4"/><path d="M651.2 258.5L645.0 299.9"/><path d="M656.3 257.2L653.4 297.9"/><path d="M584.8 227.3L592.7 218.3"/><path d="M612.0 242.1L637.1 242.4"/><path d="M600.0 251.4L617.6 257.6"/><path d="M601.5 261.3L620.1 273.8"/><path d="M610.1 265.4L634.0 280.4"/><path d="M604.2 271.5L624.5 290.3"/><path d="M589.9 277.6L601.1 300.3"/><path d="M597.6 280.4L613.8 304.9"/><path d="M600.3 283.4L618.2 309.7"/><path d="M613.8 283.5L640.1 310.0"/><path d="M613.1 291.3L639.1 322.7"/><path d="M701.4 231.7L681.0 221.0"/><path d="M704.8 239.4L686.4 233.6"/><path d="M720.4 236.1L711.8 228.2"/><path d="M700.0 244.5L678.7 241.9"/><path d="M709.9 248.7L694.8 248.7"/><path d="M709.1 252.3L693.5 254.6"/><path d="M675.2 271.1L638.2 285.4"/><path d="M687.0 273.0L657.3 288.5"/><path d="M692.4 275.1L666.1 291.8"/><path d="M704.5 284.7L686.0 307.6"/><path d="M612.7 249.2L609.8 231.6"/><path d="M632.4 260.3L642.0 249.8"/><path d="M632.4 263.2L642.0 254.6"/><path d="M634.3 265.3L645.1 257.9"/><path d="M627.9 273.3L634.7 270.9"/><path d="M625.6 275.6L631.0 274.7"/><path d="M625.6 277.6L631.0 278.1"/><path d="M638.0 287.3L651.1 293.8"/><path d="M629.3 293.7L637.0 304.2"/><path d="M621.7 296.4L624.7 308.6"/><path d="M614.3 308.4L612.5 328.4"/><path d="M624.0 310.6L628.4 331.9"/><path d="M629.1 309.4L636.8 329.8"/><path d="M635.5 309.0L647.0 329.2"/><path d="M633.9 315.3L644.4 339.6"/><path d="M695.8 273.7L696.8 251.3"/><path d="M641.1 294.1L607.6 284.5"/><path d="M640.9 297.8L607.1 290.5"/><path d="M647.0 308.5L617.1 308.0"/><path d="M658.8 311.2L636.3 312.4"/><path d="M662.4 310.6L642.3 311.6"/><path d="M667.9 309.9L651.3 310.3"/><path d="M667.8 312.7L651.1 314.9"/><path d="M669.2 319.3L653.3 325.7"/><path d="M581.3 292.9L597.2 265.0"/><path d="M613.3 298.7L649.4 274.7"/><path d="M594.5 300.4L618.8 277.4"/><path d="M598.3 300.2L625.0 277.1"/><path d="M594.2 305.2L618.4 285.2"/><path d="M611.1 301.7L645.9 279.4"/><path d="M594.2 310.3L618.4 293.6"/><path d="M594.1 323.3L618.2 314.7"/><path d="M586.0 326.5L605.0 320.0"/><path d="M583.9 333.6L601.4 331.4"/><path d="M587.7 339.4L607.6 341.1"/><path d="M586.7 342.6L606.0 346.1"/><path d="M590.4 342.4L612.0 345.9"/><path d="M599.2 342.8L626.5 346.5"/><path d="M603.8 342.6L634.0 346.1"/><path d="M603.2 350.4L632.9 358.8"/><path d="M668.3 304.6L640.0 265.8"/><path d="M688.7 304.5L673.1 265.7"/><path d="M684.6 313.2L666.5 279.8"/><path d="M692.0 312.2L678.6 278.3"/><path d="M707.6 308.9L704.0 272.9"/><path d="M687.3 317.3L670.8 286.6"/><path d="M693.3 324.6L680.6 298.4"/><path d="M652.7 333.0L614.3 312.1"/><path d="M681.0 354.5L660.5 347.3"/><path d="M674.2 357.6L649.5 352.2"/><path d="M679.2 371.0L657.6 374.1"/><path d="M619.2 326.5L620.4 285.7"/><path d="M650.8 328.7L672.0 289.2"/><path d="M632.4 331.2L642.0 293.2"/><path d="M632.4 334.1L642.0 298.0"/><path d="M634.3 336.1L645.1 301.4"/><path d="M632.1 338.9L641.6 305.8"/><path d="M655.7 336.3L680.2 301.5"/><path d="M632.4 345.9L642.0 317.3"/><path d="M634.9 348.3L646.2 321.3"/><path d="M623.9 352.2L628.2 327.5"/><path d="M623.9 360.2L628.2 340.6"/><path d="M629.3 364.5L637.0 347.7"/><path d="M617.8 370.3L618.2 357.1"/><path d="M625.5 373.1L630.9 361.7"/><path d="M652.7 371.5L675.1 359.0"/><path d="M628.2 376.1L635.3 366.5"/><path d="M641.7 376.2L657.2 366.8"/><path d="M624.0 381.5L628.4 375.3"/><path d="M629.1 380.2L636.8 373.3"/><path d="M642.1 380.2L657.9 373.3"/><path d="M633.9 386.2L644.4 383.0"/><path d="M644.6 397.1L631.2 373.6"/><path d="M651.6 397.0L642.5 373.3"/><path d="M644.8 400.0L631.5 378.3"/><path d="M649.8 413.4L639.6 400.2"/><path d="M635.6 407.7L647.4 418.0"/><path d="M646.4 289.2L665.0 296.9"/><path d="M688.6 214.0L706.2 227.3"/></g>
<g stroke="rgb(92,118,192)"><path d="M626.5 199.7L605.4 203.9"/><path d="M688.7 213.8L705.7 226.7"/><path d="M689.3 219.9L706.7 236.5"/><path d="M661.8 226.0L662.3 246.3"/><path d="M691.5 224.7L710.3 244.2"/><path d="M696.8 226.2L718.8 246.6"/><path d="M647.6 246.1L639.5 278.8"/><path d="M662.8 245.9L664.0 278.4"/><path d="M645.2 271.7L635.6 320.1"/><path d="M653.6 272.3L649.2 321.0"/><path d="M641.3 276.7L629.3 328.1"/><path d="M651.9 291.1L646.4 351.4"/><path d="M673.9 291.4L681.8 351.8"/><path d="M645.0 299.9L635.3 365.6"/><path d="M653.4 297.9L648.8 362.3"/><path d="M592.7 218.3L605.4 203.9"/><path d="M637.1 242.4L677.0 242.8"/><path d="M617.6 257.6L645.5 267.3"/><path d="M620.1 273.8L649.5 293.4"/><path d="M634.0 280.4L672.0 304.2"/><path d="M624.5 290.3L656.6 320.1"/><path d="M601.1 300.3L618.9 336.2"/><path d="M613.8 304.9L639.3 343.6"/><path d="M618.2 309.7L646.4 351.4"/><path d="M640.1 310.0L681.8 351.8"/><path d="M639.1 322.7L680.1 372.3"/><path d="M733.9 248.5L605.4 203.9"/><path d="M733.9 248.5L701.4 231.7"/><path d="M733.9 248.5L704.8 239.4"/><path d="M733.9 248.5L720.4 236.1"/><path d="M733.9 248.5L705.7 226.7"/><path d="M733.9 248.5L706.7 236.5"/><path d="M733.9 248.5L700.0 244.5"/><path d="M733.9 248.5L657.3 240.9"/><path d="M733.9 248.5L667.3 240.4"/><path d="M733.9 248.5L662.3 246.3"/><path d="M733.9 248.5L677.0 242.8"/><path d="M733.9 248.5L709.9 248.7"/><path d="M733.9 248.5L688.6 250.6"/><path d="M733.9 248.5L691.5 258.0"/><path d="M733.9 248.5L656.6 253.5"/><path d="M733.9 248.5L709.1 252.3"/><path d="M733.9 248.5L701.0 244.2"/><path d="M733.9 248.5L710.3 244.2"/><path d="M733.9 248.5L718.8 246.6"/><path d="M733.9 248.5L645.5 267.3"/><path d="M733.9 248.5L656.6 267.0"/><path d="M733.9 248.5L639.5 273.4"/><path d="M733.9 248.5L664.0 278.4"/><path d="M733.9 248.5L692.9 287.9"/><path d="M733.9 248.5L635.0 288.5"/><path d="M733.9 248.5L640.7 288.3"/><path d="M733.9 248.5L649.5 293.4"/><path d="M733.9 248.5L672.0 304.2"/><path d="M733.9 248.5L675.2 271.1"/><path d="M733.9 248.5L687.0 273.0"/><path d="M733.9 248.5L635.0 309.6"/><path d="M733.9 248.5L692.4 275.1"/><path d="M733.9 248.5L635.6 320.1"/><path d="M733.9 248.5L620.8 328.4"/><path d="M733.9 248.5L629.3 328.1"/><path d="M733.9 248.5L633.8 342.6"/><path d="M733.9 248.5L639.3 343.6"/><path d="M733.9 248.5L704.5 284.7"/><path d="M733.9 248.5L710.7 339.3"/><path d="M733.9 248.5L636.7 351.8"/><path d="M733.9 248.5L646.4 351.4"/><path d="M733.9 248.5L669.7 352.4"/><path d="M733.9 248.5L635.3 365.6"/><path d="M733.9 248.5L648.8 362.3"/><path d="M733.9 248.5L665.4 361.3"/><path d="M733.9 248.5L682.9 362.3"/><path d="M733.9 248.5L691.9 363.9"/><path d="M609.8 231.6L605.4 203.9"/><path d="M642.0 249.8L657.3 233.2"/><path d="M642.0 254.6L657.3 240.9"/><path d="M645.1 257.9L662.3 246.3"/><path d="M634.7 270.9L645.5 267.3"/><path d="M631.0 274.7L639.5 273.4"/><path d="M631.0 278.1L639.5 278.8"/><path d="M651.1 293.8L672.0 304.2"/><path d="M637.0 304.2L649.2 321.0"/><path d="M624.7 308.6L629.3 328.1"/><path d="M612.5 328.4L609.7 359.9"/><path d="M628.4 331.9L635.3 365.6"/><path d="M636.8 329.8L648.8 362.3"/><path d="M647.0 329.2L665.4 361.3"/><path d="M644.4 339.6L661.2 378.0"/><path d="M694.3 309.2L622.5 221.0"/><path d="M694.3 309.2L695.8 273.7"/><path d="M694.3 309.2L705.7 226.7"/><path d="M694.3 309.2L657.3 233.2"/><path d="M694.3 309.2L706.7 236.5"/><path d="M694.3 309.2L667.3 240.4"/><path d="M694.3 309.2L662.3 246.3"/><path d="M694.3 309.2L688.6 250.6"/><path d="M694.3 309.2L691.5 258.0"/><path d="M694.3 309.2L656.6 253.5"/><path d="M694.3 309.2L710.3 244.2"/><path d="M694.3 309.2L718.8 246.6"/><path d="M694.3 309.2L641.1 294.1"/><path d="M694.3 309.2L640.9 297.8"/><path d="M694.3 309.2L645.5 267.3"/><path d="M694.3 309.2L656.6 267.0"/><path d="M694.3 309.2L639.5 278.8"/><path d="M694.3 309.2L664.0 278.4"/><path d="M694.3 309.2L692.9 287.9"/><path d="M694.3 309.2L640.7 288.3"/><path d="M694.3 309.2L656.3 301.1"/><path d="M694.3 309.2L672.0 304.2"/><path d="M694.3 309.2L647.0 308.5"/><path d="M694.3 309.2L658.8 311.2"/><path d="M694.3 309.2L662.4 310.6"/><path d="M694.3 309.2L667.9 309.9"/><path d="M694.3 309.2L635.0 309.6"/><path d="M694.3 309.2L667.8 312.7"/><path d="M694.3 309.2L635.6 320.1"/><path d="M694.3 309.2L649.2 321.0"/><path d="M694.3 309.2L656.6 320.1"/><path d="M694.3 309.2L629.3 328.1"/><path d="M694.3 309.2L618.9 336.2"/><path d="M694.3 309.2L669.2 319.3"/><path d="M694.3 309.2L639.3 343.6"/><path d="M694.3 309.2L710.7 339.3"/><path d="M694.3 309.2L636.7 351.8"/><path d="M694.3 309.2L646.4 351.4"/><path d="M694.3 309.2L669.7 352.4"/><path d="M694.3 309.2L681.8 351.8"/><path d="M694.3 309.2L609.7 359.9"/><path d="M694.3 309.2L635.3 365.6"/><path d="M694.3 309.2L648.8 362.3"/><path d="M694.3 309.2L665.4 361.3"/><path d="M694.3 309.2L682.9 362.3"/><path d="M694.3 309.2L691.9 363.9"/><path d="M694.3 309.2L680.1 372.3"/><path d="M694.3 309.2L661.2 378.0"/><path d="M597.2 265.0L622.5 221.0"/><path d="M649.4 274.7L706.7 236.5"/><path d="M618.8 277.4L657.3 240.9"/><path d="M625.0 277.1L667.3 240.4"/><path d="M618.4 285.2L656.6 253.5"/><path d="M645.9 279.4L701.0 244.2"/><path d="M618.4 293.6L656.6 267.0"/><path d="M618.2 314.7L656.3 301.1"/><path d="M605.0 320.0L635.0 309.6"/><path d="M601.4 331.4L629.3 328.1"/><path d="M607.6 341.1L639.3 343.6"/><path d="M606.0 346.1L636.7 351.8"/><path d="M612.0 345.9L646.4 351.4"/><path d="M626.5 346.5L669.7 352.4"/><path d="M634.0 346.1L681.8 351.8"/><path d="M632.9 358.8L680.1 372.3"/><path d="M713.3 366.0L668.3 304.6"/><path d="M713.3 366.0L605.4 203.9"/><path d="M713.3 366.0L688.7 304.5"/><path d="M713.3 366.0L622.5 221.0"/><path d="M713.3 366.0L684.6 313.2"/><path d="M713.3 366.0L692.0 312.2"/><path d="M713.3 366.0L707.6 308.9"/><path d="M713.3 366.0L705.7 226.7"/><path d="M713.3 366.0L657.3 233.2"/><path d="M713.3 366.0L706.7 236.5"/><path d="M713.3 366.0L687.3 317.3"/><path d="M713.3 366.0L657.3 240.9"/><path d="M713.3 366.0L667.3 240.4"/><path d="M713.3 366.0L662.3 246.3"/><path d="M713.3 366.0L677.0 242.8"/><path d="M713.3 366.0L693.3 324.6"/><path d="M713.3 366.0L701.0 244.2"/><path d="M713.3 366.0L652.7 333.0"/><path d="M713.3 366.0L645.5 267.3"/><path d="M713.3 366.0L656.6 267.0"/><path d="M713.3 366.0L657.3 272.0"/><path d="M713.3 366.0L639.5 278.8"/><path d="M713.3 366.0L692.9 287.9"/><path d="M713.3 366.0L635.0 288.5"/><path d="M713.3 366.0L649.5 293.4"/><path d="M713.3 366.0L656.3 301.1"/><path d="M713.3 366.0L672.0 304.2"/><path d="M713.3 366.0L635.0 309.6"/><path d="M713.3 366.0L635.6 320.1"/><path d="M713.3 366.0L649.2 321.0"/><path d="M713.3 366.0L656.6 320.1"/><path d="M713.3 366.0L620.8 328.4"/><path d="M713.3 366.0L629.3 328.1"/><path d="M713.3 366.0L618.9 336.2"/><path d="M713.3 366.0L681.0 354.5"/><path d="M713.3 366.0L674.2 357.6"/><path d="M713.3 366.0L633.8 342.6"/><path d="M713.3 366.0L639.3 343.6"/><path d="M713.3 366.0L710.7 339.3"/><path d="M713.3 366.0L646.4 351.4"/><path d="M713.3 366.0L669.7 352.4"/><path d="M713.3 366.0L681.8 351.8"/><path d="M713.3 366.0L635.3 365.6"/><path d="M713.3 366.0L648.8 362.3"/><path d="M713.3 366.0L682.9 362.3"/><path d="M713.3 366.0L691.9 363.9"/><path d="M713.3 366.0L680.1 372.3"/><path d="M713.3 366.0L661.2 378.0"/><path d="M713.3 366.0L679.2 371.0"/><path d="M620.4 285.7L622.5 221.0"/><path d="M672.0 289.2L705.7 226.7"/><path d="M642.0 293.2L657.3 233.2"/><path d="M642.0 298.0L657.3 240.9"/><path d="M645.1 301.4L662.3 246.3"/><path d="M641.6 305.8L656.6 253.5"/><path d="M680.2 301.5L718.8 246.6"/><path d="M642.0 317.3L657.3 272.0"/><path d="M646.2 321.3L664.0 278.4"/><path d="M628.2 327.5L635.0 288.5"/><path d="M628.2 340.6L635.0 309.6"/><path d="M637.0 347.7L649.2 321.0"/><path d="M618.2 357.1L618.9 336.2"/><path d="M630.9 361.7L639.3 343.6"/><path d="M675.1 359.0L710.7 339.3"/><path d="M635.3 366.5L646.4 351.4"/><path d="M657.2 366.8L681.8 351.8"/><path d="M628.4 375.3L635.3 365.6"/><path d="M636.8 373.3L648.8 362.3"/><path d="M657.9 373.3L682.9 362.3"/><path d="M644.4 383.0L661.2 378.0"/><path d="M665.9 434.5L649.5 293.4"/><path d="M665.9 434.5L656.3 301.1"/><path d="M665.9 434.5L672.0 304.2"/><path d="M665.9 434.5L649.2 321.0"/><path d="M665.9 434.5L629.3 328.1"/><path d="M665.9 434.5L644.6 397.1"/><path d="M665.9 434.5L618.9 336.2"/><path d="M665.9 434.5L651.6 397.0"/><path d="M665.9 434.5L644.8 400.0"/><path d="M665.9 434.5L639.3 343.6"/><path d="M665.9 434.5L710.7 339.3"/><path d="M665.9 434.5L646.4 351.4"/><path d="M665.9 434.5L609.7 359.9"/><path d="M665.9 434.5L635.3 365.6"/><path d="M665.9 434.5L648.8 362.3"/><path d="M665.9 434.5L682.9 362.3"/><path d="M665.9 434.5L680.1 372.3"/><path d="M665.9 434.5L661.2 378.0"/><path d="M665.9 434.5L649.8 413.4"/><path d="M647.4 418.0L665.9 434.5"/><path d="M665.9 434.5L713.3 366.0"/><path d="M713.3 366.0L733.9 248.5"/><path d="M733.9 248.5L694.3 309.2"/><path d="M694.3 309.2L713.3 366.0"/><path d="M665.0 296.9L694.3 309.2"/><path d="M694.3 309.2L665.9 434.5"/><path d="M706.2 227.3L733.9 248.5"/></g>
</g>
<circle cx="595.0" cy="204.4" r="4.30" fill="#f4733c" stroke="#3a2a2a" stroke-width="0.7"/>
<circle cx="605.4" cy="203.9" r="4.30" fill="#5a7fc9" stroke="#3a2a2a" stroke-width="0.7"/>
<circle cx="648.5" cy="204.2" r="4.30" fill="#f4733c" stroke="#3a2a2a" stroke-width="0.7"/>
<circle cx="629.9" cy="214.7" r="4.30" fill="#f4733c" stroke="#3a2a2a" stroke-width="0.7"/>
<circle cx="622.5" cy="221.0" r="4.30" fill="#5a7fc9" stroke="#3a2a2a" stroke-width="0.7"/>
<circle cx="637.8" cy="227.0" r="4.30" fill="#f4733c" stroke="#3a2a2a" stroke-width="0.7"/>
<circle cx="657.3" cy="224.5" r="4.30" fill="#f4733c" stroke="#3a2a2a" stroke-width="0.7"/>
<circle cx="698.3" cy="215.8" r="4.30" fill="#f4733c" stroke="#3a2a2a" stroke-width="0.7"/>
<circle cx="705.7" cy="226.7" r="4.30" fill="#5a7fc9" stroke="#3a2a2a" stroke-width="0.7"/>
<circle cx="657.3" cy="233.2" r="4.30" fill="#5a7fc9" stroke="#3a2a2a" stroke-width="0.7"/>
<circle cx="706.7" cy="236.5" r="4.30" fill="#5a7fc9" stroke="#3a2a2a" stroke-width="0.7"/>
<circle cx="637.1" cy="238.6" r="4.30" fill="#f4733c" stroke="#3a2a2a" stroke-width="0.7"/>
<circle cx="644.8" cy="237.9" r="4.30" fill="#f4733c" stroke="#3a2a2a" stroke-width="0.7"/>
<circle cx="657.3" cy="240.9" r="4.30" fill="#5a7fc9" stroke="#3a2a2a" stroke-width="0.7"/>
<circle cx="667.3" cy="240.4" r="4.30" fill="#5a7fc9" stroke="#3a2a2a" stroke-width="0.7"/>
<circle cx="662.3" cy="246.3" r="4.30" fill="#5a7fc9" stroke="#3a2a2a" stroke-width="0.7"/>
<circle cx="677.0" cy="242.8" r="4.30" fill="#5a7fc9" stroke="#3a2a2a" stroke-width="0.7"/>
<circle cx="684.8" cy="243.2" r="4.30" fill="#f4733c" stroke="#3a2a2a" stroke-width="0.7"/>
<circle cx="670.8" cy="248.9" r="4.30" fill="#f4733c" stroke="#3a2a2a" stroke-width="0.7"/>
<circle cx="688.6" cy="250.6" r="4.30" fill="#5a7fc9" stroke="#3a2a2a" stroke-width="0.7"/>
<circle cx="691.5" cy="258.0" r="4.30" fill="#5a7fc9" stroke="#3a2a2a" stroke-width="0.7"/>
<circle cx="656.6" cy="253.5" r="4.30" fill="#5a7fc9" stroke="#3a2a2a" stroke-width="0.7"/>
<circle cx="660.6" cy="257.0" r="4.30" fill="#f4733c" stroke="#3a2a2a" stroke-width="0.7"/>
<circle cx="668.7" cy="258.4" r="4.30" fill="#f4733c" stroke="#3a2a2a" stroke-width="0.7"/>
<circle cx="677.7" cy="257.4" r="4.30" fill="#f4733c" stroke="#3a2a2a" stroke-width="0.7"/>
<circle cx="701.0" cy="244.2" r="4.30" fill="#5a7fc9" stroke="#3a2a2a" stroke-width="0.7"/>
<circle cx="710.3" cy="244.2" r="4.30" fill="#5a7fc9" stroke="#3a2a2a" stroke-width="0.7"/>
<circle cx="718.8" cy="246.6" r="4.30" fill="#5a7fc9" stroke="#3a2a2a" stroke-width="0.7"/>
<circle cx="554.4" cy="269.4" r="4.30" fill="#f4733c" stroke="#3a2a2a" stroke-width="0.7"/>
<circle cx="553.7" cy="279.1" r="4.30" fill="#f4733c" stroke="#3a2a2a" stroke-width="0.7"/>
<circle cx="645.5" cy="267.3" r="4.30" fill="#5a7fc9" stroke="#3a2a2a" stroke-width="0.7"/>
<circle cx="656.6" cy="267.0" r="4.30" fill="#5a7fc9" stroke="#3a2a2a" stroke-width="0.7"/>
<circle cx="657.3" cy="272.0" r="4.30" fill="#5a7fc9" stroke="#3a2a2a" stroke-width="0.7"/>
<circle cx="639.5" cy="273.4" r="4.30" fill="#5a7fc9" stroke="#3a2a2a" stroke-width="0.7"/>
<circle cx="639.5" cy="278.8" r="4.30" fill="#5a7fc9" stroke="#3a2a2a" stroke-width="0.7"/>
<circle cx="664.0" cy="278.4" r="4.30" fill="#5a7fc9" stroke="#3a2a2a" stroke-width="0.7"/>
<circle cx="656.9" cy="286.1" r="4.30" fill="#f4733c" stroke="#3a2a2a" stroke-width="0.7"/>
<circle cx="692.9" cy="287.9" r="4.30" fill="#5a7fc9" stroke="#3a2a2a" stroke-width="0.7"/>
<circle cx="635.0" cy="288.5" r="4.30" fill="#5a7fc9" stroke="#3a2a2a" stroke-width="0.7"/>
<circle cx="640.7" cy="288.3" r="4.30" fill="#5a7fc9" stroke="#3a2a2a" stroke-width="0.7"/>
<circle cx="649.5" cy="293.4" r="4.30" fill="#5a7fc9" stroke="#3a2a2a" stroke-width="0.7"/>
<circle cx="656.3" cy="301.1" r="4.30" fill="#5a7fc9" stroke="#3a2a2a" stroke-width="0.7"/>
<circle cx="672.0" cy="304.2" r="4.30" fill="#5a7fc9" stroke="#3a2a2a" stroke-width="0.7"/>
<circle cx="569.8" cy="307.3" r="4.30" fill="#f4733c" stroke="#3a2a2a" stroke-width="0.7"/>
<circle cx="579.5" cy="308.0" r="4.30" fill="#f4733c" stroke="#3a2a2a" stroke-width="0.7"/>
<circle cx="600.8" cy="314.4" r="4.30" fill="#f4733c" stroke="#3a2a2a" stroke-width="0.7"/>
<circle cx="610.4" cy="313.0" r="4.30" fill="#f4733c" stroke="#3a2a2a" stroke-width="0.7"/>
<circle cx="624.9" cy="311.0" r="4.30" fill="#f4733c" stroke="#3a2a2a" stroke-width="0.7"/>
<circle cx="635.0" cy="309.6" r="4.30" fill="#5a7fc9" stroke="#3a2a2a" stroke-width="0.7"/>
<circle cx="624.6" cy="318.4" r="4.30" fill="#f4733c" stroke="#3a2a2a" stroke-width="0.7"/>
<circle cx="635.6" cy="320.1" r="4.30" fill="#5a7fc9" stroke="#3a2a2a" stroke-width="0.7"/>
<circle cx="649.2" cy="321.0" r="4.30" fill="#5a7fc9" stroke="#3a2a2a" stroke-width="0.7"/>
<circle cx="656.6" cy="320.1" r="4.30" fill="#5a7fc9" stroke="#3a2a2a" stroke-width="0.7"/>
<circle cx="589.0" cy="322.7" r="4.30" fill="#f4733c" stroke="#3a2a2a" stroke-width="0.7"/>
<circle cx="599.4" cy="321.7" r="4.30" fill="#f4733c" stroke="#3a2a2a" stroke-width="0.7"/>
<circle cx="611.1" cy="328.4" r="4.30" fill="#f4733c" stroke="#3a2a2a" stroke-width="0.7"/>
<circle cx="620.8" cy="328.4" r="4.30" fill="#5a7fc9" stroke="#3a2a2a" stroke-width="0.7"/>
<circle cx="629.3" cy="328.1" r="4.30" fill="#5a7fc9" stroke="#3a2a2a" stroke-width="0.7"/>
<circle cx="599.4" cy="336.9" r="4.30" fill="#f4733c" stroke="#3a2a2a" stroke-width="0.7"/>
<circle cx="609.9" cy="336.2" r="4.30" fill="#f4733c" stroke="#3a2a2a" stroke-width="0.7"/>
<circle cx="618.9" cy="336.2" r="4.30" fill="#5a7fc9" stroke="#3a2a2a" stroke-width="0.7"/>
<circle cx="628.2" cy="335.8" r="4.30" fill="#f4733c" stroke="#3a2a2a" stroke-width="0.7"/>
<circle cx="610.4" cy="343.8" r="4.30" fill="#f4733c" stroke="#3a2a2a" stroke-width="0.7"/>
<circle cx="633.8" cy="342.6" r="4.30" fill="#5a7fc9" stroke="#3a2a2a" stroke-width="0.7"/>
<circle cx="639.3" cy="343.6" r="4.30" fill="#5a7fc9" stroke="#3a2a2a" stroke-width="0.7"/>
<circle cx="656.6" cy="343.8" r="4.30" fill="#f4733c" stroke="#3a2a2a" stroke-width="0.7"/>
<circle cx="710.7" cy="339.3" r="4.30" fill="#5a7fc9" stroke="#3a2a2a" stroke-width="0.7"/>
<circle cx="636.7" cy="351.8" r="4.30" fill="#5a7fc9" stroke="#3a2a2a" stroke-width="0.7"/>
<circle cx="646.4" cy="351.4" r="4.30" fill="#5a7fc9" stroke="#3a2a2a" stroke-width="0.7"/>
<circle cx="669.7" cy="352.4" r="4.30" fill="#5a7fc9" stroke="#3a2a2a" stroke-width="0.7"/>
<circle cx="681.8" cy="351.8" r="4.30" fill="#5a7fc9" stroke="#3a2a2a" stroke-width="0.7"/>
<circle cx="609.7" cy="359.9" r="4.30" fill="#5a7fc9" stroke="#3a2a2a" stroke-width="0.7"/>
<circle cx="635.3" cy="365.6" r="4.30" fill="#5a7fc9" stroke="#3a2a2a" stroke-width="0.7"/>
<circle cx="648.8" cy="362.3" r="4.30" fill="#5a7fc9" stroke="#3a2a2a" stroke-width="0.7"/>
<circle cx="665.4" cy="361.3" r="4.30" fill="#5a7fc9" stroke="#3a2a2a" stroke-width="0.7"/>
<circle cx="682.9" cy="362.3" r="4.30" fill="#5a7fc9" stroke="#3a2a2a" stroke-width="0.7"/>
<circle cx="691.9" cy="363.9" r="4.30" fill="#5a7fc9" stroke="#3a2a2a" stroke-width="0.7"/>
<circle cx="680.1" cy="372.3" r="4.30" fill="#5a7fc9" stroke="#3a2a2a" stroke-width="0.7"/>
<circle cx="661.2" cy="378.0" r="4.30" fill="#5a7fc9" stroke="#3a2a2a" stroke-width="0.7"/>
<circle cx="623.5" cy="379.1" r="4.30" fill="#f4733c" stroke="#3a2a2a" stroke-width="0.7"/>
<circle cx="660.9" cy="192.8" r="8.60" fill="#f4733c" stroke="#3a2a2a" stroke-width="0.8"/>
<circle cx="572.1" cy="241.7" r="8.60" fill="#f4733c" stroke="#3a2a2a" stroke-width="0.8"/>
<circle cx="733.9" cy="248.5" r="8.60" fill="#5a7fc9" stroke="#3a2a2a" stroke-width="0.8"/>
<circle cx="617.1" cy="276.9" r="8.60" fill="#f4733c" stroke="#3a2a2a" stroke-width="0.8"/>
<circle cx="694.3" cy="309.2" r="8.60" fill="#5a7fc9" stroke="#3a2a2a" stroke-width="0.8"/>
<circle cx="556.0" cy="336.9" r="8.60" fill="#f4733c" stroke="#3a2a2a" stroke-width="0.8"/>
<circle cx="713.3" cy="366.0" r="8.60" fill="#5a7fc9" stroke="#3a2a2a" stroke-width="0.8"/>
<circle cx="617.1" cy="391.2" r="8.60" fill="#f4733c" stroke="#3a2a2a" stroke-width="0.8"/>
<circle cx="665.9" cy="434.5" r="8.60" fill="#5a7fc9" stroke="#3a2a2a" stroke-width="0.8"/>
</g>
<text x="674.6" y="204.9" font-size="26.0" fill="#111" stroke="#111" stroke-width="0.4" text-anchor="start" >F</text>
<text x="542.2" y="249.6" font-size="26.0" fill="#111" stroke="#111" stroke-width="0.4" text-anchor="start" >G</text>
<text x="752.0" y="259.2" font-size="30.0" fill="#111" stroke="#111" stroke-width="0.4" text-anchor="start" >A</text>
<text x="588.7" y="286.2" font-size="26.5" fill="#111" stroke="#111" stroke-width="0.4" text-anchor="start" >E</text>
<text x="707.2" y="319.8" font-size="25.5" fill="#111" stroke="#111" stroke-width="0.4" text-anchor="start" >C</text>
<text x="537.3" y="366.0" font-size="26.0" fill="#111" stroke="#111" stroke-width="0.4" text-anchor="start" >H</text>
<text x="717.4" y="395.5" font-size="25.5" fill="#111" stroke="#111" stroke-width="0.4" text-anchor="start" >B</text>
<text x="593.6" y="411.3" font-size="26.0" fill="#111" stroke="#111" stroke-width="0.4" text-anchor="start" >I</text>
<text x="678.2" y="436.5" font-size="25.5" fill="#111" stroke="#111" stroke-width="0.4" text-anchor="start" >D</text>
<circle cx="38.1" cy="459.2" r="8.7" fill="#121212"/>
<circle cx="38.1" cy="483.4" r="8.7" fill="#e6371a"/>
<text x="50.6" y="469.1" font-size="26.3" fill="#111" stroke="#111" stroke-width="0.4" text-anchor="start" letter-spacing="0.3">H3K27ac-negative</text>
<text x="50.6" y="494.7" font-size="26.3" fill="#111" stroke="#111" stroke-width="0.4" text-anchor="start" letter-spacing="0.3">H3K27ac-positive</text>
<circle cx="295.3" cy="459.2" r="8.7" fill="#121212"/>
<circle cx="295.3" cy="483.4" r="8.7" fill="#70c01e"/>
<text x="307.8" y="469.1" font-size="26.3" fill="#111" stroke="#111" stroke-width="0.4" text-anchor="start" letter-spacing="0.3">NUP153-negative</text>
<text x="307.8" y="494.7" font-size="26.3" fill="#111" stroke="#111" stroke-width="0.4" text-anchor="start" letter-spacing="0.3">NUP153-positive</text>
<circle cx="609.5" cy="458.8" r="8.7" fill="#5a7fc9"/>
<circle cx="609.5" cy="483.2" r="8.7" fill="#f4733c"/>
<text x="622.5" y="469.1" font-size="26.0" fill="#111" stroke="#111" stroke-width="0.4" text-anchor="start" >TAD1</text>
<text x="622.5" y="494.4" font-size="26.0" fill="#111" stroke="#111" stroke-width="0.4" text-anchor="start" >TAD2</text>
</g>
<g id="panel-c">
<text x="780.3" y="215.3" font-size="45.0" fill="#111" stroke="#111" stroke-width="0.4" text-anchor="start" stroke="#111" stroke-width="0.8">c</text>
<rect x="856.4" y="393.5" width="14.7" height="33.0" fill="#b7cbd3" stroke="#3a4248" stroke-width="1"/>
<rect x="871.1" y="317.1" width="14.7" height="109.4" fill="#d22b27" stroke="#5a1414" stroke-width="1"/>
<rect x="891.0" y="416.2" width="14.7" height="10.3" fill="#b7cbd3" stroke="#3a4248" stroke-width="1"/>
<rect x="905.8" y="339.1" width="14.7" height="87.4" fill="#d22b27" stroke="#5a1414" stroke-width="1"/>
<rect x="925.7" y="422.4" width="14.7" height="4.1" fill="#b7cbd3" stroke="#3a4248" stroke-width="1"/>
<rect x="940.4" y="331.4" width="14.7" height="95.1" fill="#d22b27" stroke="#5a1414" stroke-width="1"/>
<rect x="960.3" y="424.6" width="14.7" height="1.9" fill="#b7cbd3" stroke="#3a4248" stroke-width="1"/>
<rect x="975.0" y="404.8" width="14.7" height="21.7" fill="#d22b27" stroke="#5a1414" stroke-width="1"/>
<rect x="1009.7" y="397.5" width="14.7" height="29.0" fill="#d22b27" stroke="#5a1414" stroke-width="1"/>
<rect x="1044.4" y="419.5" width="14.7" height="7.0" fill="#d22b27" stroke="#5a1414" stroke-width="1"/>
<rect x="848.5" y="244.8" width="220.20000000000005" height="181.39999999999998" fill="none" stroke="#111" stroke-width="1.7"/>
<rect x="843.8" y="425.2" width="225.7" height="2.1" fill="#111"/>
<rect x="843.8" y="425.5" width="5" height="1.6" fill="#111"/>
<text x="843.6" y="434.9" font-size="24.0" fill="#111" stroke="#111" stroke-width="0.4" text-anchor="end" >0</text>
<rect x="843.8" y="387.6" width="5" height="1.6" fill="#111"/>
<text x="843.6" y="397.0" font-size="24.0" fill="#111" stroke="#111" stroke-width="0.4" text-anchor="end" >3</text>
<rect x="843.8" y="349.3" width="5" height="1.6" fill="#111"/>
<text x="843.6" y="358.7" font-size="24.0" fill="#111" stroke="#111" stroke-width="0.4" text-anchor="end" >6</text>
<rect x="843.8" y="310.6" width="5" height="1.6" fill="#111"/>
<text x="843.6" y="320.0" font-size="24.0" fill="#111" stroke="#111" stroke-width="0.4" text-anchor="end" >9</text>
<rect x="843.8" y="272.6" width="5" height="1.6" fill="#111"/>
<text x="843.6" y="282.0" font-size="24.0" fill="#111" stroke="#111" stroke-width="0.4" text-anchor="end" >12</text>
<text x="871.8" y="452.0" font-size="24.0" fill="#111" stroke="#111" stroke-width="0.4" text-anchor="middle" >2</text>
<text x="905.1" y="452.0" font-size="24.0" fill="#111" stroke="#111" stroke-width="0.4" text-anchor="middle" >3</text>
<text x="937.6" y="452.0" font-size="24.0" fill="#111" stroke="#111" stroke-width="0.4" text-anchor="middle" >4</text>
<text x="977.1" y="452.0" font-size="24.0" fill="#111" stroke="#111" stroke-width="0.4" text-anchor="middle" >5</text>
<text x="1010.1" y="452.0" font-size="24.0" fill="#111" stroke="#111" stroke-width="0.4" text-anchor="middle" >6</text>
<text x="1042.3" y="452.0" font-size="24.0" fill="#111" stroke="#111" stroke-width="0.4" text-anchor="middle" >7</text>
<text x="864.2" y="474.0" font-size="23.5" fill="#111" stroke="#111" stroke-width="0.4" text-anchor="start" >Number of baits</text>
<text transform="translate(814.9,412.8) rotate(-90)" font-size="26.4" fill="#111" stroke="#111" stroke-width="0.4">Interactors (%)</text>
<rect x="941.8" y="260" width="15.6" height="17.1" fill="#b7cbd3" stroke="#666" stroke-width="1"/>
<rect x="941.8" y="288.5" width="15.6" height="16" fill="#d22b27" stroke="#5a1a1a" stroke-width="1"/>
<text x="961.8" y="274.9" font-size="23.3" fill="#111" stroke="#111" stroke-width="0.4" text-anchor="start" >-NUP153</text>
<text x="960.0" y="303.4" font-size="23.3" fill="#111" stroke="#111" stroke-width="0.4" text-anchor="start" >+NUP153</text>
<rect x="1171.7" y="246.8" width="15.2" height="177.0" fill="#b7cbd3" stroke="#111" stroke-width="1.5"/>
<rect x="1208.5" y="350.5" width="15.2" height="73.3" fill="#b7cbd3" stroke="#111" stroke-width="1.5"/>
<rect x="1245.4" y="387.4" width="15.2" height="36.4" fill="#b7cbd3" stroke="#111" stroke-width="1.5"/>
<rect x="1280.6" y="405.3" width="15.2" height="18.5" fill="#b7cbd3" stroke="#111" stroke-width="1.5"/>
<rect x="1317.7" y="416.9" width="15.2" height="6.9" fill="#b7cbd3" stroke="#111" stroke-width="1.5"/>
<rect x="1353.4" y="420.2" width="15.2" height="3.6" fill="#b7cbd3" stroke="#111" stroke-width="1.5"/>
<rect x="1186.9" y="372.9" width="14.8" height="50.9" fill="#d22b27" stroke="#111" stroke-width="1.5"/>
<rect x="1159.8" y="234.3" width="237.10000000000014" height="189.3" fill="none" stroke="#111" stroke-width="2"/>
<rect x="1153.6" y="422.4" width="244.3" height="2.4" fill="#111"/>
<rect x="1153.5" y="423.1" width="6.6" height="1.8" fill="#111"/>
<rect x="1153.5" y="398.7" width="6.6" height="1.8" fill="#111"/>
<rect x="1153.5" y="374.2" width="6.6" height="1.8" fill="#111"/>
<rect x="1153.5" y="349.8" width="6.6" height="1.8" fill="#111"/>
<rect x="1153.5" y="325.3" width="6.6" height="1.8" fill="#111"/>
<rect x="1153.5" y="300.9" width="6.6" height="1.8" fill="#111"/>
<rect x="1153.5" y="276.4" width="6.6" height="1.8" fill="#111"/>
<rect x="1153.5" y="251.9" width="6.6" height="1.8" fill="#111"/>
<text x="1151.6" y="285.9" font-size="25.3" fill="#111" stroke="#111" stroke-width="0.4" text-anchor="end" >3,0</text>
<text x="1151.6" y="334.8" font-size="25.3" fill="#111" stroke="#111" stroke-width="0.4" text-anchor="end" >2,0</text>
<text x="1151.6" y="383.7" font-size="25.3" fill="#111" stroke="#111" stroke-width="0.4" text-anchor="end" >1,0</text>
<text x="1116.8" y="431.8" font-size="25.3" fill="#111" stroke="#111" stroke-width="0.4" text-anchor="start" >0</text>
<text x="1186.6" y="448.5" font-size="24.2" fill="#111" stroke="#111" stroke-width="0.4" text-anchor="middle" >2</text>
<text x="1221.7" y="448.5" font-size="24.2" fill="#111" stroke="#111" stroke-width="0.4" text-anchor="middle" >3</text>
<text x="1263.0" y="448.5" font-size="24.2" fill="#111" stroke="#111" stroke-width="0.4" text-anchor="middle" >4</text>
<text x="1298.1" y="448.5" font-size="24.2" fill="#111" stroke="#111" stroke-width="0.4" text-anchor="middle" >5</text>
<text x="1332.6" y="448.5" font-size="24.2" fill="#111" stroke="#111" stroke-width="0.4" text-anchor="middle" >6</text>
<text x="1367.3" y="448.5" font-size="24.2" fill="#111" stroke="#111" stroke-width="0.4" text-anchor="middle" >7</text>
<text x="1186.6" y="474.4" font-size="24.8" fill="#111" stroke="#111" stroke-width="0.4" text-anchor="start" >Number of baits</text>
<text transform="translate(1105.9,414.4) rotate(-90)" font-size="25" fill="#111" stroke="#111" stroke-width="0.4">Interactions (%)</text>
<rect x="1229.4" y="243.8" width="18.8" height="22.8" fill="#b7cbd3" stroke="#222" stroke-width="1"/>
<rect x="1229.8" y="275.2" width="18.4" height="21.8" fill="#d22b27" stroke="#7a1a1a" stroke-width="0.8"/>
<text x="1252.8" y="262.8" font-size="25.0" fill="#111" stroke="#111" stroke-width="0.4" text-anchor="start" >non-cLAD</text>
<text x="1252.8" y="292.4" font-size="25.0" fill="#111" stroke="#111" stroke-width="0.4" text-anchor="start" >cLAD</text>
</g>
<g id="panel-d">
<text x="1417.5" y="215.3" font-size="45.5" fill="#111" stroke="#111" stroke-width="0.4" text-anchor="start" >d</text>
<ellipse cx="1627" cy="355.3" rx="201" ry="111.4" fill="url(#ellGrad)"/>
<text x="0" y="0" font-size="26.5" fill="#14161a" stroke="#14161a" stroke-width="0.5" transform="translate(1563.2,271.9) scale(0.835,1)">Nuclear pore</text>
<circle cx="1629.2" cy="350" r="48.4" fill="#fff" stroke="#14161a" stroke-width="1.2"/>
<path d="M1593.7 317.8L1592.4 317.4L1590.7 316.7L1588.7 316.0L1586.5 315.2L1584.2 314.3L1581.8 313.3L1579.5 312.4L1577.3 311.4L1575.2 310.4L1573.1 309.3L1570.9 308.2L1568.8 307.0L1566.7 305.9L1564.8 304.8L1563.0 303.7L1561.5 302.8L1560.2 301.9L1559.1 301.0L1558.3 300.2L1557.5 299.5L1556.9 298.8L1556.3 298.2L1555.7 297.6L1555.0 297.1L1554.3 296.7L1553.7 296.3L1553.2 296.0L1552.7 295.7L1552.1 295.4L1551.3 295.2L1550.2 295.0L1548.8 294.7L1547.1 294.4L1545.1 294.2L1542.9 294.0L1540.4 293.7L1537.8 293.5L1535.1 293.3L1532.4 293.0L1529.7 292.7L1526.9 292.3L1524.1 291.9L1521.1 291.5L1518.1 291.0L1515.0 290.5L1512.0 290.1L1508.8 289.7L1505.7 289.3L1502.5 288.9L1499.1 288.5L1495.6 288.2L1492.1 287.8L1488.7 287.5L1485.4 287.3L1482.3 287.2L1479.5 287.2L1477.0 287.3L1474.6 287.5L1472.3 287.8L1470.3 288.1L1468.4 288.5L1466.6 289.1L1465.1 289.7L1463.7 290.5L1462.4 291.3L1461.4 292.4L1460.4 293.5L1459.6 294.8L1459.0 296.1L1458.5 297.4L1458.1 298.8L1457.9 300.1L1457.8 301.4L1457.8 302.7L1458.0 304.1L1458.3 305.5L1458.7 306.9L1459.4 308.3L1460.2 309.9L1461.3 311.5L1462.7 313.2L1464.2 315.1L1465.9 317.1L1467.9 319.1L1470.0 321.1L1472.3 323.0L1474.8 324.8L1477.4 326.4L1480.4 327.9L1483.8 329.3L1487.4 330.6L1491.2 331.9L1495.1 333.1L1498.9 334.2L1502.6 335.3L1506.1 336.4L1509.3 337.5L1512.5 338.5L1515.7 339.5L1518.7 340.4L1521.7 341.3L1524.6 342.2L1527.4 343.1L1530.1 343.9L1532.6 344.8L1535.1 345.6L1537.5 346.3L1539.7 347.1L1541.9 347.8L1544.1 348.6L1546.2 349.4L1548.3 350.2L1550.4 351.0L1552.4 351.8L1554.3 352.6L1556.2 353.4L1558.1 354.2L1560.0 355.1L1561.9 356.1L1563.8 357.2L1565.6 358.4L1567.5 359.7L1569.2 361.1L1571.0 362.6L1572.8 364.0L1574.6 365.5L1576.4 366.9L1578.2 368.3L1580.3 369.7L1582.5 371.3L1584.9 372.9L1587.2 374.4L1589.5 375.9L1591.5 377.3L1593.2 378.4L1594.5 379.3" fill="none" stroke="#14161a" stroke-width="12.4" stroke-linejoin="round"/>
<path d="M1594.0 317.0L1592.7 316.5L1591.1 315.9L1589.1 315.2L1586.8 314.3L1584.5 313.4L1582.1 312.5L1579.8 311.5L1577.7 310.6L1575.6 309.6L1573.5 308.5L1571.4 307.4L1569.2 306.2L1567.2 305.1L1565.3 304.0L1563.5 302.9L1562.0 302.0L1560.7 301.1L1559.7 300.3L1558.9 299.5L1558.2 298.8L1557.5 298.1L1556.9 297.5L1556.2 296.9L1555.5 296.4L1554.8 295.9L1554.2 295.5L1553.6 295.2L1553.0 294.9L1552.4 294.6L1551.5 294.3L1550.4 294.1L1549.0 293.8L1547.2 293.5L1545.2 293.3L1542.9 293.1L1540.5 292.9L1537.9 292.6L1535.2 292.4L1532.5 292.1L1529.8 291.8L1527.0 291.4L1524.2 291.0L1521.3 290.6L1518.2 290.1L1515.2 289.6L1512.1 289.2L1508.9 288.8L1505.8 288.4L1502.6 288.0L1499.2 287.7L1495.7 287.3L1492.2 286.9L1488.7 286.6L1485.4 286.4L1482.3 286.3L1479.5 286.3L1476.9 286.4L1474.5 286.6L1472.2 286.9L1470.1 287.2L1468.1 287.7L1466.3 288.2L1464.7 288.9L1463.2 289.7L1461.9 290.6L1460.7 291.8L1459.7 293.0L1458.9 294.3L1458.2 295.7L1457.6 297.1L1457.2 298.6L1457.0 300.0L1456.9 301.4L1456.9 302.8L1457.1 304.2L1457.4 305.7L1457.9 307.2L1458.6 308.7L1459.5 310.3L1460.6 312.0L1462.0 313.8L1463.5 315.7L1465.3 317.7L1467.2 319.7L1469.4 321.7L1471.7 323.7L1474.3 325.5L1477.0 327.2L1480.0 328.7L1483.4 330.1L1487.1 331.5L1490.9 332.7L1494.8 333.9L1498.6 335.1L1502.3 336.2L1505.8 337.3L1509.1 338.4L1512.3 339.4L1515.4 340.4L1518.5 341.3L1521.4 342.2L1524.3 343.1L1527.1 343.9L1529.8 344.8L1532.4 345.6L1534.8 346.4L1537.2 347.2L1539.4 347.9L1541.6 348.7L1543.8 349.4L1545.9 350.2L1548.0 351.0L1550.1 351.8L1552.0 352.6L1554.0 353.4L1555.9 354.2L1557.8 355.0L1559.6 355.9L1561.5 356.9L1563.3 358.0L1565.1 359.2L1566.9 360.5L1568.7 361.8L1570.4 363.2L1572.2 364.7L1574.0 366.2L1575.8 367.6L1577.7 369.0L1579.8 370.5L1582.0 372.0L1584.4 373.6L1586.8 375.2L1589.0 376.7L1591.0 378.0L1592.7 379.2L1594.0 380.0" fill="none" stroke="#ffffff" stroke-width="8.6" stroke-linejoin="round"/>
<path d="M1652.1 304.6L1653.1 303.5L1654.5 302.1L1656.1 300.4L1658.0 298.4L1659.8 296.4L1661.7 294.4L1663.5 292.4L1665.0 290.5L1666.3 288.7L1667.6 286.9L1668.7 285.0L1669.9 283.2L1671.0 281.3L1672.1 279.5L1673.3 277.8L1674.6 276.1L1675.9 274.4L1677.3 272.7L1678.7 271.1L1680.1 269.4L1681.6 267.9L1683.1 266.5L1684.8 265.2L1686.5 264.1L1688.3 263.2L1690.3 262.4L1692.3 261.7L1694.4 261.2L1696.6 260.8L1698.8 260.5L1701.1 260.4L1703.3 260.5L1705.7 260.7L1708.2 261.1L1710.7 261.7L1713.3 262.4L1715.9 263.2L1718.3 264.2L1720.5 265.3L1722.5 266.5L1724.2 267.9L1725.8 269.5L1727.3 271.2L1728.6 273.0L1729.7 275.0L1730.7 276.9L1731.5 278.9L1732.1 280.9L1732.5 282.9L1732.7 285.0L1732.8 287.1L1732.6 289.3L1732.4 291.5L1732.0 293.6L1731.5 295.7L1730.9 297.7L1730.2 299.7L1729.4 301.6L1728.5 303.6L1727.5 305.5L1726.4 307.3L1725.2 309.0L1723.9 310.6L1722.5 312.0L1721.0 313.2L1719.2 314.3L1717.3 315.2L1715.4 316.0L1713.4 316.8L1711.5 317.6L1709.7 318.3L1708.1 319.2L1706.6 320.1L1705.1 320.9L1703.6 321.8L1702.2 322.7L1700.9 323.5L1699.9 324.4L1699.0 325.4L1698.5 326.4L1698.4 327.5L1698.7 328.7L1699.3 329.9L1700.1 331.2L1700.9 332.5L1701.6 333.7L1702.0 334.9L1702.1 336.0L1701.9 337.0L1701.5 337.9L1701.1 338.8L1700.4 339.7L1699.6 340.5L1698.6 341.4L1697.5 342.3L1696.1 343.2L1694.3 344.3L1692.1 345.4L1689.6 346.6L1687.0 347.9L1684.4 349.0L1682.0 350.1L1680.0 350.9L1678.6 351.6" fill="none" stroke="#14161a" stroke-width="12.4" stroke-linejoin="round"/>
<path d="M1651.0 304.0L1652.0 302.9L1653.4 301.5L1655.0 299.8L1656.9 297.8L1658.7 295.8L1660.6 293.8L1662.4 291.8L1663.9 289.9L1665.2 288.1L1666.5 286.3L1667.6 284.4L1668.8 282.6L1669.9 280.7L1671.0 278.9L1672.2 277.2L1673.5 275.5L1674.8 273.8L1676.2 272.1L1677.6 270.5L1679.0 268.8L1680.5 267.3L1682.0 265.9L1683.7 264.6L1685.4 263.5L1687.2 262.6L1689.2 261.8L1691.2 261.1L1693.3 260.6L1695.5 260.2L1697.7 259.9L1700.0 259.8L1702.2 259.9L1704.6 260.1L1707.1 260.5L1709.6 261.1L1712.2 261.8L1714.8 262.6L1717.2 263.6L1719.4 264.7L1721.4 265.9L1723.1 267.3L1724.7 268.9L1726.2 270.6L1727.5 272.4L1728.6 274.4L1729.6 276.3L1730.4 278.3L1731.0 280.3L1731.4 282.3L1731.6 284.4L1731.7 286.5L1731.5 288.7L1731.3 290.9L1730.9 293.0L1730.4 295.1L1729.8 297.1L1729.1 299.1L1728.3 301.0L1727.4 303.0L1726.4 304.9L1725.3 306.7L1724.1 308.4L1722.8 310.0L1721.4 311.4L1719.9 312.6L1718.1 313.7L1716.2 314.6L1714.3 315.4L1712.3 316.2L1710.4 317.0L1708.6 317.7L1707.0 318.6L1705.5 319.5L1704.0 320.3L1702.5 321.2L1701.1 322.1L1699.8 322.9L1698.8 323.8L1697.9 324.8L1697.4 325.8L1697.3 326.9L1697.6 328.1L1698.2 329.3L1699.0 330.6L1699.8 331.9L1700.5 333.1L1700.9 334.3L1701.0 335.4L1700.8 336.4L1700.4 337.3L1700.0 338.2L1699.3 339.1L1698.5 339.9L1697.5 340.8L1696.4 341.7L1695.0 342.6L1693.2 343.7L1691.0 344.8L1688.5 346.0L1685.9 347.3L1683.3 348.4L1680.9 349.5L1678.9 350.3L1677.5 351.0" fill="none" stroke="#ffffff" stroke-width="8.6" stroke-linejoin="round"/>
<path d="M1678.6 351.5L1679.8 352.7L1681.3 354.2L1683.1 356.1L1685.1 358.2L1687.2 360.4L1689.5 362.5L1691.6 364.6L1693.7 366.4L1695.8 368.0L1697.9 369.6L1700.1 371.1L1702.3 372.6L1704.5 374.0L1706.6 375.5L1708.6 376.9L1710.5 378.4L1712.3 379.9L1714.0 381.3L1715.7 382.8L1717.2 384.2L1718.7 385.7L1720.1 387.2L1721.4 388.8L1722.5 390.4L1723.5 392.1L1724.5 393.8L1725.4 395.5L1726.1 397.3L1726.7 399.1L1727.1 401.0L1727.3 402.9L1727.3 404.8L1727.0 406.8L1726.6 409.0L1725.9 411.3L1725.0 413.6L1724.0 415.8L1722.9 417.9L1721.5 419.9L1720.1 421.5L1718.5 422.9L1716.6 424.2L1714.5 425.4L1712.3 426.4L1710.0 427.3L1707.7 428.0L1705.5 428.4L1703.3 428.7L1701.2 428.7L1698.9 428.6L1696.7 428.2L1694.4 427.7L1692.3 426.9L1690.2 426.1L1688.3 425.0L1686.5 423.9L1684.9 422.6L1683.6 421.0L1682.3 419.2L1681.1 417.3L1680.1 415.3L1679.0 413.3L1678.0 411.4L1677.0 409.5L1676.0 407.7L1675.2 405.7L1674.4 403.8L1673.7 401.8L1672.9 400.0L1672.1 398.2L1671.0 396.6L1669.8 395.2L1668.2 394.0L1666.4 393.0L1664.3 392.1L1662.1 391.3L1660.1 390.6L1658.2 390.1L1656.6 389.6L1655.4 389.2" fill="none" stroke="#14161a" stroke-width="12.4" stroke-linejoin="round"/>
<path d="M1677.5 351.0L1678.7 352.2L1680.2 353.7L1682.0 355.6L1684.0 357.7L1686.1 359.9L1688.4 362.0L1690.5 364.1L1692.6 365.9L1694.7 367.5L1696.8 369.1L1699.0 370.6L1701.2 372.1L1703.4 373.5L1705.5 375.0L1707.5 376.4L1709.4 377.9L1711.2 379.4L1712.9 380.8L1714.6 382.3L1716.1 383.8L1717.6 385.2L1719.0 386.7L1720.3 388.3L1721.4 389.9L1722.4 391.6L1723.4 393.3L1724.3 395.0L1725.0 396.8L1725.6 398.6L1726.0 400.5L1726.2 402.4L1726.2 404.3L1725.9 406.3L1725.5 408.5L1724.8 410.8L1723.9 413.1L1722.9 415.3L1721.8 417.4L1720.4 419.4L1719.0 421.0L1717.4 422.4L1715.5 423.7L1713.4 424.9L1711.2 425.9L1708.9 426.8L1706.6 427.5L1704.4 427.9L1702.2 428.2L1700.1 428.2L1697.8 428.1L1695.6 427.7L1693.3 427.2L1691.2 426.4L1689.1 425.6L1687.2 424.5L1685.4 423.4L1683.8 422.1L1682.5 420.5L1681.2 418.7L1680.0 416.8L1679.0 414.8L1677.9 412.8L1676.9 410.9L1675.9 409.0L1674.9 407.2L1674.1 405.2L1673.3 403.3L1672.6 401.3L1671.8 399.5L1671.0 397.7L1669.9 396.1L1668.7 394.7L1667.1 393.5L1665.3 392.5L1663.2 391.6L1661.0 390.8L1659.0 390.1L1657.1 389.6L1655.5 389.1L1654.3 388.7" fill="none" stroke="#ffffff" stroke-width="8.6" stroke-linejoin="round"/>
<path d="M1595.3 382.9L1594.1 383.8L1592.5 385.0L1590.6 386.4L1588.5 388.0L1586.1 389.7L1583.7 391.2L1581.2 392.7L1578.6 393.9L1575.9 394.8L1572.9 395.6L1569.7 396.2L1566.4 396.8L1563.1 397.3L1560.0 398.0L1557.1 398.8L1554.6 399.9L1552.4 401.2L1550.3 402.6L1548.4 404.1L1546.7 405.8L1545.1 407.5L1543.7 409.3L1542.5 411.1L1541.4 413.0L1540.6 414.9L1540.0 416.9L1539.6 418.9L1539.3 420.9L1539.2 423.1L1539.1 425.3L1539.1 427.5L1539.0 429.8L1538.9 432.3L1538.9 435.1L1539.0 438.1L1539.1 441.0L1539.2 443.9L1539.3 446.4L1539.4 448.6L1539.5 450.2" fill="none" stroke="#14161a" stroke-width="12.4" stroke-linejoin="round"/>
<path d="M1594.4 382.0L1593.2 382.9L1591.6 384.1L1589.7 385.5L1587.6 387.1L1585.2 388.8L1582.8 390.3L1580.3 391.8L1577.7 393.0L1575.0 393.9L1572.0 394.7L1568.8 395.3L1565.5 395.9L1562.2 396.4L1559.1 397.1L1556.2 397.9L1553.7 399.0L1551.5 400.3L1549.4 401.7L1547.5 403.2L1545.8 404.9L1544.2 406.6L1542.8 408.4L1541.6 410.2L1540.5 412.1L1539.7 414.0L1539.1 416.0L1538.7 418.0L1538.4 420.0L1538.3 422.2L1538.2 424.4L1538.2 426.6L1538.1 428.9L1538.0 431.4L1538.0 434.2L1538.1 437.2L1538.2 440.1L1538.3 443.0L1538.4 445.5L1538.5 447.7L1538.6 449.3" fill="none" stroke="#ffffff" stroke-width="8.6" stroke-linejoin="round"/>
<path d="M1655.4 390.8L1654.8 392.1L1654.0 393.9L1653.0 395.9L1651.9 398.2L1650.8 400.7L1649.7 403.1L1648.9 405.4L1648.2 407.5L1647.7 409.4L1647.4 411.3L1647.2 413.1L1647.0 414.8L1647.0 416.6L1646.9 418.4L1647.0 420.1L1647.0 421.9L1647.1 423.7L1647.2 425.6L1647.5 427.5L1647.7 429.3L1648.0 431.2L1648.3 433.0L1648.6 434.7L1648.9 436.3L1649.2 437.9L1649.5 439.5L1649.9 441.1L1650.2 442.6L1650.6 444.0L1650.9 445.2L1651.1 446.3L1651.3 447.1" fill="none" stroke="#14161a" stroke-width="12.4" stroke-linejoin="round"/>
<path d="M1654.3 390.6L1653.7 391.9L1652.9 393.7L1651.9 395.7L1650.8 398.1L1649.7 400.5L1648.6 402.9L1647.8 405.2L1647.1 407.3L1646.6 409.2L1646.3 411.1L1646.1 412.9L1645.9 414.6L1645.9 416.4L1645.8 418.2L1645.9 419.9L1645.9 421.7L1646.0 423.5L1646.1 425.4L1646.4 427.3L1646.6 429.1L1646.9 431.0L1647.2 432.8L1647.5 434.5L1647.8 436.1L1648.1 437.7L1648.4 439.3L1648.8 440.9L1649.1 442.4L1649.5 443.8L1649.8 445.0L1650.0 446.1L1650.2 446.9" fill="none" stroke="#ffffff" stroke-width="8.6" stroke-linejoin="round"/>
<path d="M1594.4 316.9L1596.6 316.4L1599.6 315.6L1603.0 314.8L1606.9 313.8L1610.9 312.8L1615.1 311.8L1619.1 310.8L1622.8 310.0L1626.6 309.2L1630.6 308.4L1634.7 307.6L1638.8 306.8L1642.7 306.1L1646.1 305.5L1649.0 304.9L1651.2 304.5" fill="none" stroke="#14161a" stroke-width="11.4" stroke-linejoin="round"/>
<path d="M1594.4 316.7L1596.6 316.2L1599.5 315.4L1603.0 314.6L1606.8 313.6L1610.9 312.6L1615.0 311.6L1619.1 310.6L1622.8 309.8L1626.5 309.0L1630.6 308.2L1634.7 307.4L1638.8 306.6L1642.6 305.9L1646.1 305.3L1649.0 304.7L1651.2 304.3" fill="none" stroke="#ffffff" stroke-width="8.6" stroke-linejoin="round"/>
<circle cx="1629.8" cy="348" r="26.2" fill="none" stroke="url(#ringGrad)" stroke-width="13.8" filter="url(#soft)"/>
<path d="M1610.8 274.2L1628.6 326" stroke="#14161a" stroke-width="2.8" fill="none"/>
<path d="M1544 375.4L1581 379.4" stroke="#14161a" stroke-width="1.8" fill="none"/>
<circle cx="1594.2" cy="317.0" r="14.8" fill="url(#ballGrad)" stroke="#1a1208" stroke-width="1.5"/>
<circle cx="1651.4" cy="303.9" r="14.8" fill="url(#ballGrad)" stroke="#1a1208" stroke-width="1.5"/>
<circle cx="1677.6" cy="350.9" r="14.8" fill="url(#ballGrad)" stroke="#1a1208" stroke-width="1.5"/>
<circle cx="1594.4" cy="379.4" r="14.8" fill="url(#ballGrad)" stroke="#1a1208" stroke-width="1.5"/>
<circle cx="1654.2" cy="388.5" r="14.8" fill="url(#ballGrad)" stroke="#1a1208" stroke-width="1.5"/>
<text x="0" y="0" font-size="26.5" fill="#14161a" stroke="#14161a" stroke-width="0.4" transform="translate(1457.3,380.3) scale(0.945,1)">Enhancer</text>
<text x="1712.3" y="349.6" font-size="25.5" fill="#14161a" stroke="#14161a" stroke-width="0.3" text-anchor="start" font-weight="bold" >LADs/</text>
<text x="1712.3" y="382.2" font-size="25.5" fill="#14161a" stroke="#14161a" stroke-width="0.3" text-anchor="start" font-weight="bold" >LOCKs</text>
</g>
</svg>
</body></html>
